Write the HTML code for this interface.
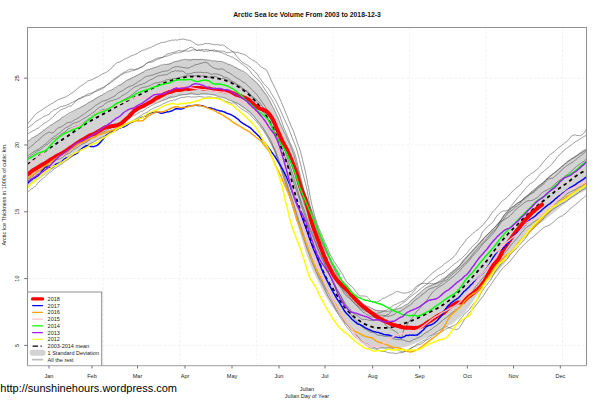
<!DOCTYPE html>
<html><head><meta charset="utf-8"><title>Arctic Sea Ice Volume</title>
<style>html,body{margin:0;padding:0;background:#fff}</style></head>
<body>
<svg width="601" height="400" viewBox="0 0 601 400" style="display:block;font-family:'Liberation Sans',Arial,sans-serif">
<rect width="601" height="400" fill="#fff"/>
<defs><clipPath id="cp"><rect x="27.5" y="27.5" width="559.0" height="338.2"/></clipPath></defs>
<g clip-path="url(#cp)" fill="none" stroke-linejoin="round" stroke-linecap="round">
<path d="M103.2,27.5V365.7M179.8,27.5V365.7M256.3,27.5V365.7M332.9,27.5V365.7M409.4,27.5V365.7M485.9,27.5V365.7M562.5,27.5V365.7M27.5,345.4H586.5M27.5,278.6H586.5M27.5,211.8H586.5M27.5,145.0H586.5M27.5,78.2H586.5" stroke="#eaeaea" stroke-width="0.6" stroke-dasharray="2.8 1.6" stroke-linecap="butt"/>
<path d="M27.5,141.5 L28.5,140.8 L29.5,140.1 L30.5,139.5 L31.5,138.8 L32.5,138.1 L33.5,137.4 L34.5,136.7 L35.5,136.0 L36.5,135.3 L37.5,134.7 L38.5,134.0 L39.5,133.3 L40.5,132.6 L41.5,131.9 L42.5,131.2 L43.5,130.5 L44.5,129.8 L45.5,129.1 L46.5,128.4 L47.5,127.6 L48.5,126.9 L49.5,126.2 L50.5,125.5 L51.5,124.8 L52.5,124.1 L53.5,123.4 L54.5,122.7 L55.5,122.0 L56.5,121.3 L57.5,120.7 L58.5,120.0 L59.5,119.4 L60.5,118.8 L61.5,118.2 L62.5,117.6 L63.5,117.0 L64.5,116.4 L65.5,115.9 L66.5,115.3 L67.5,114.7 L68.5,114.2 L69.5,113.6 L70.5,113.1 L71.5,112.5 L72.5,112.0 L73.5,111.4 L74.5,110.9 L75.5,110.3 L76.5,109.8 L77.5,109.2 L78.5,108.6 L79.5,108.0 L80.5,107.4 L81.5,106.8 L82.5,106.2 L83.5,105.6 L84.5,105.0 L85.5,104.4 L86.5,103.8 L87.5,103.2 L88.5,102.6 L89.5,102.0 L90.5,101.4 L91.5,100.7 L92.5,100.1 L93.5,99.5 L94.5,98.9 L95.5,98.3 L96.5,97.8 L97.5,97.2 L98.5,96.7 L99.5,96.2 L100.5,95.7 L101.5,95.2 L102.5,94.7 L103.5,94.2 L104.5,93.8 L105.5,93.3 L106.5,92.8 L107.5,92.2 L108.5,91.7 L109.5,91.2 L110.5,90.7 L111.5,90.1 L112.5,89.6 L113.5,89.0 L114.5,88.5 L115.5,87.9 L116.5,87.3 L117.5,86.7 L118.5,86.0 L119.5,85.3 L120.5,84.6 L121.5,83.8 L122.5,83.1 L123.5,82.3 L124.5,81.6 L125.5,80.9 L126.5,80.3 L127.5,79.7 L128.5,79.2 L129.5,78.6 L130.5,78.1 L131.5,77.6 L132.5,77.2 L133.5,76.7 L134.5,76.2 L135.5,75.7 L136.5,75.2 L137.5,74.7 L138.5,74.2 L139.5,73.7 L140.5,73.2 L141.5,72.7 L142.5,72.1 L143.5,71.6 L144.5,71.1 L145.5,70.7 L146.5,70.2 L147.5,69.8 L148.5,69.4 L149.5,69.0 L150.5,68.6 L151.5,68.3 L152.5,67.9 L153.5,67.6 L154.5,67.2 L155.5,66.9 L156.5,66.6 L157.5,66.4 L158.5,66.1 L159.5,65.9 L160.5,65.7 L161.5,65.4 L162.5,65.2 L163.5,65.0 L164.5,64.8 L165.5,64.6 L166.5,64.3 L167.5,64.1 L168.5,63.8 L169.5,63.4 L170.5,63.1 L171.5,62.7 L172.5,62.3 L173.5,62.0 L174.5,61.7 L175.5,61.4 L176.5,61.1 L177.5,60.9 L178.5,60.7 L179.5,60.5 L180.5,60.3 L181.5,60.2 L182.5,60.0 L183.5,59.9 L184.5,59.7 L185.5,59.6 L186.5,59.5 L187.5,59.5 L188.5,59.4 L189.5,59.3 L190.5,59.2 L191.5,59.2 L192.5,59.1 L193.5,59.1 L194.5,59.0 L195.5,59.0 L196.5,59.0 L197.5,59.0 L198.5,59.0 L199.5,59.1 L200.5,59.1 L201.5,59.2 L202.5,59.3 L203.5,59.4 L204.5,59.5 L205.5,59.6 L206.5,59.7 L207.5,60.0 L208.5,60.2 L209.5,60.5 L210.5,60.8 L211.5,60.9 L212.5,61.0 L213.5,61.1 L214.5,61.2 L215.5,61.2 L216.5,61.3 L217.5,61.3 L218.5,61.4 L219.5,61.5 L220.5,61.6 L221.5,61.8 L222.5,62.0 L223.5,62.4 L224.5,62.7 L225.5,63.1 L226.5,63.5 L227.5,63.9 L228.5,64.3 L229.5,64.6 L230.5,65.0 L231.5,65.5 L232.5,65.9 L233.5,66.3 L234.5,66.8 L235.5,67.3 L236.5,67.7 L237.5,68.3 L238.5,68.8 L239.5,69.4 L240.5,70.0 L241.5,70.7 L242.5,71.3 L243.5,72.0 L244.5,72.7 L245.5,73.4 L246.5,74.1 L247.5,74.9 L248.5,75.6 L249.5,76.4 L250.5,77.2 L251.5,78.1 L252.5,78.9 L253.5,79.8 L254.5,80.6 L255.5,81.5 L256.5,82.5 L257.5,83.5 L258.5,84.6 L259.5,85.8 L260.5,86.9 L261.5,88.2 L262.5,89.5 L263.5,90.8 L264.5,92.2 L265.5,93.7 L266.5,95.2 L267.5,96.8 L268.5,98.5 L269.5,100.3 L270.5,102.3 L271.5,104.3 L272.5,106.3 L273.5,108.5 L274.5,110.6 L275.5,112.8 L276.5,114.9 L277.5,117.1 L278.5,119.3 L279.5,121.6 L280.5,123.9 L281.5,126.3 L282.5,128.6 L283.5,130.9 L284.5,133.1 L285.5,135.3 L286.5,137.4 L287.5,139.5 L288.5,141.7 L289.5,143.9 L290.5,146.1 L291.5,148.3 L292.5,150.7 L293.5,153.5 L294.5,156.8 L295.5,160.5 L296.5,164.3 L297.5,168.2 L298.5,171.8 L299.5,175.6 L300.5,179.3 L301.5,183.0 L302.5,186.4 L303.5,189.5 L304.5,192.3 L305.5,195.0 L306.5,197.6 L307.5,200.1 L308.5,202.7 L309.5,205.3 L310.5,208.0 L311.5,210.6 L312.5,213.3 L313.5,215.9 L314.5,218.6 L315.5,221.4 L316.5,224.3 L317.5,227.2 L318.5,230.2 L319.5,233.2 L320.5,236.0 L321.5,238.7 L322.5,241.2 L323.5,243.7 L324.5,246.0 L325.5,248.3 L326.5,250.5 L327.5,252.6 L328.5,254.7 L329.5,256.8 L330.5,258.9 L331.5,261.1 L332.5,263.2 L333.5,265.4 L334.5,267.6 L335.5,269.8 L336.5,271.8 L337.5,273.8 L338.5,275.6 L339.5,277.3 L340.5,278.7 L341.5,280.0 L342.5,281.1 L343.5,282.2 L344.5,283.3 L345.5,284.3 L346.5,285.4 L347.5,286.6 L348.5,287.8 L349.5,289.1 L350.5,290.3 L351.5,291.6 L352.5,292.9 L353.5,294.1 L354.5,295.3 L355.5,296.5 L356.5,297.5 L357.5,298.5 L358.5,299.4 L359.5,300.3 L360.5,301.2 L361.5,302.1 L362.5,302.9 L363.5,303.7 L364.5,304.4 L365.5,305.1 L366.5,305.7 L367.5,306.3 L368.5,306.8 L369.5,307.3 L370.5,307.8 L371.5,308.2 L372.5,308.7 L373.5,309.1 L374.5,309.4 L375.5,309.7 L376.5,309.9 L377.5,310.1 L378.5,310.2 L379.5,310.4 L380.5,310.5 L381.5,310.6 L382.5,310.8 L383.5,310.8 L384.5,310.9 L385.5,311.0 L386.5,311.0 L387.5,311.0 L388.5,310.9 L389.5,310.8 L390.5,310.7 L391.5,310.5 L392.5,310.2 L393.5,310.0 L394.5,309.7 L395.5,309.4 L396.5,309.1 L397.5,308.9 L398.5,308.5 L399.5,308.2 L400.5,307.8 L401.5,307.4 L402.5,306.9 L403.5,306.4 L404.5,305.9 L405.5,305.3 L406.5,304.7 L407.5,303.9 L408.5,303.0 L409.5,302.0 L410.5,301.0 L411.5,300.0 L412.5,299.0 L413.5,298.1 L414.5,297.2 L415.5,296.3 L416.5,295.4 L417.5,294.6 L418.5,293.8 L419.5,293.0 L420.5,292.2 L421.5,291.4 L422.5,290.6 L423.5,289.7 L424.5,288.9 L425.5,288.1 L426.5,287.3 L427.5,286.7 L428.5,286.1 L429.5,285.6 L430.5,285.2 L431.5,284.7 L432.5,284.3 L433.5,283.9 L434.5,283.5 L435.5,283.1 L436.5,282.7 L437.5,282.3 L438.5,281.8 L439.5,281.4 L440.5,280.9 L441.5,280.3 L442.5,279.7 L443.5,278.9 L444.5,278.1 L445.5,277.3 L446.5,276.4 L447.5,275.6 L448.5,274.8 L449.5,274.1 L450.5,273.3 L451.5,272.6 L452.5,271.8 L453.5,271.0 L454.5,270.2 L455.5,269.4 L456.5,268.5 L457.5,267.5 L458.5,266.5 L459.5,265.3 L460.5,264.2 L461.5,263.0 L462.5,261.8 L463.5,260.6 L464.5,259.4 L465.5,258.3 L466.5,257.1 L467.5,256.0 L468.5,254.9 L469.5,253.7 L470.5,252.6 L471.5,251.5 L472.5,250.5 L473.5,249.5 L474.5,248.5 L475.5,247.5 L476.5,246.5 L477.5,245.4 L478.5,244.2 L479.5,243.0 L480.5,241.8 L481.5,240.6 L482.5,239.5 L483.5,238.4 L484.5,237.4 L485.5,236.5 L486.5,235.5 L487.5,234.5 L488.5,233.5 L489.5,232.5 L490.5,231.5 L491.5,230.5 L492.5,229.5 L493.5,228.4 L494.5,227.3 L495.5,226.2 L496.5,225.1 L497.5,223.9 L498.5,222.6 L499.5,221.3 L500.5,219.9 L501.5,218.6 L502.5,217.4 L503.5,216.1 L504.5,214.9 L505.5,213.7 L506.5,212.5 L507.5,211.5 L508.5,210.5 L509.5,209.6 L510.5,208.8 L511.5,207.9 L512.5,207.1 L513.5,206.2 L514.5,205.4 L515.5,204.6 L516.5,203.9 L517.5,203.1 L518.5,202.4 L519.5,201.8 L520.5,201.1 L521.5,200.4 L522.5,199.6 L523.5,198.7 L524.5,197.8 L525.5,196.9 L526.5,196.0 L527.5,195.0 L528.5,194.1 L529.5,193.2 L530.5,192.3 L531.5,191.4 L532.5,190.6 L533.5,189.9 L534.5,189.2 L535.5,188.6 L536.5,187.9 L537.5,187.1 L538.5,186.2 L539.5,185.3 L540.5,184.4 L541.5,183.4 L542.5,182.6 L543.5,181.7 L544.5,180.8 L545.5,180.0 L546.5,179.1 L547.5,178.3 L548.5,177.4 L549.5,176.6 L550.5,175.8 L551.5,175.0 L552.5,174.2 L553.5,173.4 L554.5,172.6 L555.5,171.7 L556.5,170.9 L557.5,170.1 L558.5,169.2 L559.5,168.4 L560.5,167.5 L561.5,166.6 L562.5,165.7 L563.5,164.9 L564.5,164.0 L565.5,163.2 L566.5,162.4 L567.5,161.6 L568.5,160.9 L569.5,160.1 L570.5,159.4 L571.5,158.7 L572.5,158.0 L573.5,157.3 L574.5,156.7 L575.5,156.0 L576.5,155.3 L577.5,154.7 L578.5,154.0 L579.5,153.4 L580.5,152.7 L581.5,152.1 L582.5,151.5 L583.5,150.8 L584.5,150.2 L585.5,149.6 L586.5,149.0 L586.5,190.0 L585.5,190.5 L584.5,190.9 L583.5,191.4 L582.5,191.9 L581.5,192.4 L580.5,193.0 L579.5,193.5 L578.5,194.1 L577.5,194.7 L576.5,195.3 L575.5,195.9 L574.5,196.6 L573.5,197.3 L572.5,198.0 L571.5,198.7 L570.5,199.4 L569.5,200.1 L568.5,200.9 L567.5,201.6 L566.5,202.4 L565.5,203.1 L564.5,203.9 L563.5,204.7 L562.5,205.5 L561.5,206.3 L560.5,207.2 L559.5,208.0 L558.5,208.8 L557.5,209.6 L556.5,210.4 L555.5,211.2 L554.5,212.0 L553.5,212.8 L552.5,213.6 L551.5,214.4 L550.5,215.2 L549.5,216.0 L548.5,216.8 L547.5,217.6 L546.5,218.4 L545.5,219.2 L544.5,220.0 L543.5,220.7 L542.5,221.5 L541.5,222.3 L540.5,223.1 L539.5,223.9 L538.5,224.7 L537.5,225.6 L536.5,226.4 L535.5,227.4 L534.5,228.3 L533.5,229.3 L532.5,230.3 L531.5,231.4 L530.5,232.4 L529.5,233.4 L528.5,234.5 L527.5,235.5 L526.5,236.5 L525.5,237.5 L524.5,238.4 L523.5,239.4 L522.5,240.3 L521.5,241.3 L520.5,242.3 L519.5,243.3 L518.5,244.3 L517.5,245.4 L516.5,246.6 L515.5,247.9 L514.5,249.2 L513.5,250.6 L512.5,252.1 L511.5,253.6 L510.5,255.1 L509.5,256.5 L508.5,258.0 L507.5,259.3 L506.5,260.6 L505.5,261.9 L504.5,263.2 L503.5,264.4 L502.5,265.6 L501.5,266.9 L500.5,268.0 L499.5,269.2 L498.5,270.3 L497.5,271.5 L496.5,272.5 L495.5,273.6 L494.5,274.6 L493.5,275.6 L492.5,276.5 L491.5,277.5 L490.5,278.4 L489.5,279.4 L488.5,280.4 L487.5,281.5 L486.5,282.6 L485.5,283.7 L484.5,284.9 L483.5,286.1 L482.5,287.3 L481.5,288.7 L480.5,290.1 L479.5,291.7 L478.5,293.2 L477.5,294.8 L476.5,296.2 L475.5,297.7 L474.5,299.1 L473.5,300.6 L472.5,302.0 L471.5,303.4 L470.5,304.8 L469.5,306.2 L468.5,307.5 L467.5,308.9 L466.5,310.1 L465.5,311.4 L464.5,312.7 L463.5,313.8 L462.5,315.0 L461.5,316.0 L460.5,317.0 L459.5,317.9 L458.5,318.7 L457.5,319.6 L456.5,320.4 L455.5,321.3 L454.5,322.2 L453.5,323.0 L452.5,323.7 L451.5,324.3 L450.5,324.8 L449.5,325.2 L448.5,325.6 L447.5,325.9 L446.5,326.3 L445.5,326.8 L444.5,327.3 L443.5,327.8 L442.5,328.4 L441.5,329.0 L440.5,329.7 L439.5,330.3 L438.5,331.0 L437.5,331.8 L436.5,332.5 L435.5,333.2 L434.5,333.8 L433.5,334.3 L432.5,334.8 L431.5,335.3 L430.5,335.8 L429.5,336.2 L428.5,336.8 L427.5,337.2 L426.5,337.8 L425.5,338.2 L424.5,338.8 L423.5,339.3 L422.5,339.8 L421.5,340.3 L420.5,340.8 L419.5,341.3 L418.5,341.8 L417.5,342.2 L416.5,342.7 L415.5,343.1 L414.5,343.6 L413.5,344.0 L412.5,344.4 L411.5,344.8 L410.5,345.2 L409.5,345.6 L408.5,346.0 L407.5,346.3 L406.5,346.6 L405.5,346.9 L404.5,347.1 L403.5,347.3 L402.5,347.4 L401.5,347.5 L400.5,347.7 L399.5,347.8 L398.5,347.9 L397.5,348.0 L396.5,348.0 L395.5,348.1 L394.5,348.2 L393.5,348.3 L392.5,348.4 L391.5,348.5 L390.5,348.5 L389.5,348.5 L388.5,348.5 L387.5,348.5 L386.5,348.4 L385.5,348.4 L384.5,348.3 L383.5,348.3 L382.5,348.2 L381.5,348.1 L380.5,348.0 L379.5,347.9 L378.5,347.8 L377.5,347.6 L376.5,347.4 L375.5,347.1 L374.5,346.9 L373.5,346.5 L372.5,346.1 L371.5,345.7 L370.5,345.2 L369.5,344.7 L368.5,344.2 L367.5,343.6 L366.5,342.9 L365.5,342.3 L364.5,341.7 L363.5,341.1 L362.5,340.6 L361.5,340.0 L360.5,339.3 L359.5,338.7 L358.5,337.9 L357.5,337.2 L356.5,336.4 L355.5,335.5 L354.5,334.5 L353.5,333.4 L352.5,332.2 L351.5,330.9 L350.5,329.6 L349.5,328.4 L348.5,327.2 L347.5,326.0 L346.5,324.8 L345.5,323.6 L344.5,322.4 L343.5,321.0 L342.5,319.6 L341.5,318.2 L340.5,316.8 L339.5,315.6 L338.5,314.5 L337.5,313.5 L336.5,312.4 L335.5,311.2 L334.5,309.9 L333.5,308.6 L332.5,307.2 L331.5,305.7 L330.5,304.3 L329.5,302.7 L328.5,301.1 L327.5,299.4 L326.5,297.7 L325.5,295.9 L324.5,294.1 L323.5,292.1 L322.5,290.1 L321.5,288.1 L320.5,286.0 L319.5,284.0 L318.5,282.0 L317.5,280.0 L316.5,278.0 L315.5,276.0 L314.5,274.0 L313.5,272.0 L312.5,269.9 L311.5,267.6 L310.5,265.2 L309.5,262.6 L308.5,260.0 L307.5,257.2 L306.5,254.3 L305.5,251.2 L304.5,248.0 L303.5,244.8 L302.5,241.6 L301.5,238.4 L300.5,235.1 L299.5,231.8 L298.5,228.4 L297.5,225.1 L296.5,221.7 L295.5,218.3 L294.5,214.9 L293.5,211.5 L292.5,208.1 L291.5,204.7 L290.5,201.3 L289.5,198.1 L288.5,194.8 L287.5,191.6 L286.5,188.4 L285.5,185.2 L284.5,181.9 L283.5,178.7 L282.5,175.5 L281.5,172.4 L280.5,169.4 L279.5,166.6 L278.5,163.9 L277.5,161.3 L276.5,158.7 L275.5,156.2 L274.5,153.7 L273.5,151.2 L272.5,148.7 L271.5,146.2 L270.5,143.7 L269.5,141.2 L268.5,139.0 L267.5,137.1 L266.5,135.3 L265.5,133.8 L264.5,132.3 L263.5,130.8 L262.5,129.2 L261.5,127.6 L260.5,126.0 L259.5,124.5 L258.5,123.0 L257.5,121.6 L256.5,120.4 L255.5,119.2 L254.5,118.1 L253.5,117.0 L252.5,116.0 L251.5,115.0 L250.5,114.1 L249.5,113.1 L248.5,112.3 L247.5,111.4 L246.5,110.6 L245.5,109.8 L244.5,109.0 L243.5,108.3 L242.5,107.6 L241.5,106.9 L240.5,106.2 L239.5,105.5 L238.5,104.9 L237.5,104.3 L236.5,103.7 L235.5,103.1 L234.5,102.6 L233.5,102.0 L232.5,101.4 L231.5,100.9 L230.5,100.4 L229.5,100.0 L228.5,99.5 L227.5,99.2 L226.5,98.8 L225.5,98.5 L224.5,98.2 L223.5,97.9 L222.5,97.5 L221.5,97.2 L220.5,96.9 L219.5,96.6 L218.5,96.3 L217.5,96.1 L216.5,95.8 L215.5,95.6 L214.5,95.4 L213.5,95.2 L212.5,95.0 L211.5,94.8 L210.5,94.7 L209.5,94.6 L208.5,94.5 L207.5,94.5 L206.5,94.5 L205.5,94.5 L204.5,94.5 L203.5,94.5 L202.5,94.5 L201.5,94.5 L200.5,94.5 L199.5,94.5 L198.5,94.6 L197.5,94.6 L196.5,94.6 L195.5,94.6 L194.5,94.6 L193.5,94.6 L192.5,94.7 L191.5,94.7 L190.5,94.7 L189.5,94.7 L188.5,94.8 L187.5,94.8 L186.5,94.8 L185.5,94.9 L184.5,95.0 L183.5,95.2 L182.5,95.3 L181.5,95.5 L180.5,95.7 L179.5,95.9 L178.5,96.2 L177.5,96.4 L176.5,96.6 L175.5,96.9 L174.5,97.1 L173.5,97.4 L172.5,97.7 L171.5,98.1 L170.5,98.4 L169.5,98.7 L168.5,99.0 L167.5,99.3 L166.5,99.6 L165.5,99.9 L164.5,100.2 L163.5,100.5 L162.5,100.8 L161.5,101.1 L160.5,101.4 L159.5,101.7 L158.5,102.0 L157.5,102.3 L156.5,102.7 L155.5,103.0 L154.5,103.4 L153.5,103.8 L152.5,104.2 L151.5,104.6 L150.5,105.0 L149.5,105.4 L148.5,105.8 L147.5,106.3 L146.5,106.7 L145.5,107.2 L144.5,107.7 L143.5,108.2 L142.5,108.7 L141.5,109.3 L140.5,109.9 L139.5,110.4 L138.5,111.0 L137.5,111.7 L136.5,112.3 L135.5,113.0 L134.5,113.8 L133.5,114.6 L132.5,115.4 L131.5,116.2 L130.5,117.0 L129.5,117.9 L128.5,118.7 L127.5,119.6 L126.5,120.4 L125.5,121.3 L124.5,122.2 L123.5,123.1 L122.5,124.0 L121.5,124.8 L120.5,125.7 L119.5,126.6 L118.5,127.4 L117.5,128.1 L116.5,128.8 L115.5,129.5 L114.5,130.1 L113.5,130.8 L112.5,131.3 L111.5,131.9 L110.5,132.5 L109.5,133.0 L108.5,133.6 L107.5,134.2 L106.5,134.8 L105.5,135.4 L104.5,136.0 L103.5,136.6 L102.5,137.2 L101.5,137.8 L100.5,138.4 L99.5,139.0 L98.5,139.6 L97.5,140.2 L96.5,140.8 L95.5,141.4 L94.5,142.0 L93.5,142.6 L92.5,143.2 L91.5,143.8 L90.5,144.4 L89.5,145.0 L88.5,145.6 L87.5,146.2 L86.5,146.8 L85.5,147.4 L84.5,148.1 L83.5,148.7 L82.5,149.4 L81.5,150.0 L80.5,150.7 L79.5,151.3 L78.5,152.0 L77.5,152.7 L76.5,153.3 L75.5,154.0 L74.5,154.7 L73.5,155.4 L72.5,156.1 L71.5,156.9 L70.5,157.6 L69.5,158.3 L68.5,159.0 L67.5,159.7 L66.5,160.3 L65.5,161.0 L64.5,161.6 L63.5,162.3 L62.5,162.9 L61.5,163.6 L60.5,164.2 L59.5,164.9 L58.5,165.5 L57.5,166.2 L56.5,166.8 L55.5,167.5 L54.5,168.2 L53.5,168.9 L52.5,169.6 L51.5,170.3 L50.5,171.0 L49.5,171.7 L48.5,172.4 L47.5,173.1 L46.5,173.8 L45.5,174.5 L44.5,175.2 L43.5,175.9 L42.5,176.6 L41.5,177.3 L40.5,178.0 L39.5,178.7 L38.5,179.4 L37.5,180.1 L36.5,180.9 L35.5,181.6 L34.5,182.4 L33.5,183.2 L32.5,183.9 L31.5,184.7 L30.5,185.5 L29.5,186.4 L28.5,187.2 L27.5,188.0Z" fill="#d3d3d3" stroke="none"/>
<path d="M27.5,124.0 L28.5,122.7 L29.5,121.6 L30.5,120.5 L31.5,119.1 L32.5,118.0 L33.5,116.8 L34.5,115.6 L35.5,114.3 L36.5,113.5 L37.5,112.6 L38.5,112.1 L39.5,111.6 L40.5,111.1 L41.5,110.1 L42.5,109.5 L43.5,108.8 L44.5,108.2 L45.5,107.3 L46.5,107.0 L47.5,106.2 L48.5,105.4 L49.5,104.9 L50.5,104.3 L51.5,103.7 L52.5,103.3 L53.5,102.7 L54.5,101.8 L55.5,101.4 L56.5,100.8 L57.5,100.0 L58.5,99.6 L59.5,99.4 L60.5,98.7 L61.5,98.4 L62.5,98.2 L63.5,97.7 L64.5,97.3 L65.5,97.2 L66.5,96.4 L67.5,95.9 L68.5,95.5 L69.5,94.5 L70.5,93.8 L71.5,93.2 L72.5,92.6 L73.5,92.0 L74.5,91.1 L75.5,90.3 L76.5,89.5 L77.5,88.7 L78.5,87.6 L79.5,86.9 L80.5,86.1 L81.5,85.6 L82.5,85.0 L83.5,84.3 L84.5,83.5 L85.5,83.0 L86.5,81.9 L87.5,81.1 L88.5,80.7 L89.5,80.5 L90.5,80.1 L91.5,79.8 L92.5,79.4 L93.5,78.9 L94.5,78.4 L95.5,77.8 L96.5,77.3 L97.5,76.9 L98.5,76.4 L99.5,75.6 L100.5,75.0 L101.5,74.5 L102.5,73.9 L103.5,73.5 L104.5,73.1 L105.5,72.6 L106.5,72.1 L107.5,71.5 L108.5,70.7 L109.5,69.8 L110.5,69.1 L111.5,67.9 L112.5,67.2 L113.5,65.9 L114.5,64.7 L115.5,63.8 L116.5,63.1 L117.5,62.4 L118.5,62.4 L119.5,62.0 L120.5,61.4 L121.5,61.0 L122.5,60.5 L123.5,59.6 L124.5,59.2 L125.5,58.9 L126.5,58.4 L127.5,57.7 L128.5,57.3 L129.5,56.9 L130.5,56.2 L131.5,55.8 L132.5,55.4 L133.5,55.1 L134.5,54.7 L135.5,54.4 L136.5,53.8 L137.5,53.5 L138.5,52.6 L139.5,51.9 L140.5,51.5 L141.5,50.8 L142.5,50.5 L143.5,50.0 L144.5,49.9 L145.5,49.2 L146.5,49.2 L147.5,48.6 L148.5,48.2 L149.5,47.8 L150.5,47.7 L151.5,47.1 L152.5,46.5 L153.5,46.3 L154.5,45.5 L155.5,45.0 L156.5,44.6 L157.5,44.2 L158.5,43.8 L159.5,43.5 L160.5,42.8 L161.5,42.7 L162.5,42.4 L163.5,42.4 L164.5,42.2 L165.5,42.0 L166.5,41.6 L167.5,41.3 L168.5,41.0 L169.5,40.7 L170.5,40.6 L171.5,40.3 L172.5,40.1 L173.5,40.2 L174.5,40.1 L175.5,39.8 L176.5,40.0 L177.5,40.2 L178.5,39.6 L179.5,39.6 L180.5,39.5 L181.5,39.1 L182.5,39.0 L183.5,39.2 L184.5,39.3 L185.5,39.5 L186.5,40.0 L187.5,40.0 L188.5,40.2 L189.5,40.3 L190.5,40.6 L191.5,41.3 L192.5,41.9 L193.5,42.5 L194.5,43.3 L195.5,44.0 L196.5,44.2 L197.5,44.8 L198.5,44.9 L199.5,44.9 L200.5,44.7 L201.5,44.6 L202.5,44.3 L203.5,44.1 L204.5,43.8 L205.5,43.5 L206.5,43.5 L207.5,43.6 L208.5,43.5 L209.5,43.6 L210.5,44.0 L211.5,44.1 L212.5,44.2 L213.5,44.4 L214.5,44.8 L215.5,44.6 L216.5,44.7 L217.5,44.7 L218.5,44.9 L219.5,44.9 L220.5,45.4 L221.5,45.1 L222.5,44.8 L223.5,45.2 L224.5,45.6 L225.5,46.3 L226.5,47.5 L227.5,48.2 L228.5,48.5 L229.5,49.5 L230.5,50.2 L231.5,50.7 L232.5,51.5 L233.5,52.0 L234.5,52.1 L235.5,52.3 L236.5,52.4 L237.5,52.3 L238.5,52.7 L239.5,53.1 L240.5,53.4 L241.5,53.6 L242.5,54.0 L243.5,54.2 L244.5,54.6 L245.5,55.1 L246.5,55.7 L247.5,56.4 L248.5,57.2 L249.5,58.3 L250.5,58.6 L251.5,59.5 L252.5,60.1 L253.5,60.7 L254.5,60.8 L255.5,61.7 L256.5,62.4 L257.5,63.2 L258.5,64.1 L259.5,65.2 L260.5,66.4 L261.5,67.2 L262.5,67.7 L263.5,68.4 L264.5,68.9 L265.5,69.1 L266.5,70.1 L267.5,72.0 L268.5,74.1 L269.5,76.4 L270.5,78.8 L271.5,81.1 L272.5,82.9 L273.5,84.9 L274.5,87.0 L275.5,89.1 L276.5,91.1 L277.5,93.3 L278.5,95.6 L279.5,97.7 L280.5,100.2 L281.5,102.4 L282.5,104.9 L283.5,107.2 L284.5,109.8 L285.5,112.2 L286.5,114.5 L287.5,117.0 L288.5,119.8 L289.5,122.1 L290.5,124.6 L291.5,127.2 L292.5,129.0 L293.5,131.4 L294.5,134.2 L295.5,137.2 L296.5,140.0 L297.5,143.2 L298.5,145.6 L299.5,148.5 L300.5,151.6 L301.5,155.4 L302.5,159.6 L303.5,163.8 L304.5,167.9 L305.5,172.1 L306.5,177.2 L307.5,182.3 L308.5,187.7 L309.5,192.9 L310.5,198.4 L311.5,203.2 L312.5,207.4 L313.5,211.3 L314.5,215.0 L315.5,218.6 L316.5,221.8 L317.5,224.6 L318.5,227.2 L319.5,229.6 L320.5,232.0 L321.5,234.4 L322.5,236.7 L323.5,239.0 L324.5,241.3 L325.5,243.4 L326.5,245.9 L327.5,248.2 L328.5,250.6 L329.5,253.0 L330.5,255.2 L331.5,256.9 L332.5,258.8 L333.5,260.4 L334.5,262.1 L335.5,263.4 L336.5,265.1 L337.5,266.7 L338.5,268.1 L339.5,269.3 L340.5,271.0 L341.5,272.7 L342.5,274.1 L343.5,276.1 L344.5,278.3 L345.5,280.0 L346.5,281.5 L347.5,282.8 L348.5,283.9 L349.5,284.4 L350.5,285.3 L351.5,286.5 L352.5,287.4 L353.5,288.4 L354.5,289.8 L355.5,291.0 L356.5,292.2 L357.5,293.9 L358.5,295.0 L359.5,295.6 L360.5,296.0 L361.5,296.0 L362.5,295.9 L363.5,296.1 L364.5,296.0 L365.5,296.2 L366.5,296.6 L367.5,297.2 L368.5,298.1 L369.5,299.4 L370.5,300.6 L371.5,301.5 L372.5,301.9 L373.5,302.0 L374.5,301.9 L375.5,301.8 L376.5,301.9 L377.5,301.7 L378.5,301.3 L379.5,300.7 L380.5,300.4 L381.5,299.4 L382.5,298.7 L383.5,298.3 L384.5,298.2 L385.5,297.5 L386.5,297.0 L387.5,296.6 L388.5,295.8 L389.5,295.1 L390.5,294.8 L391.5,294.6 L392.5,294.0 L393.5,293.4 L394.5,292.8 L395.5,292.0 L396.5,291.5 L397.5,291.6 L398.5,291.7 L399.5,292.0 L400.5,292.3 L401.5,292.8 L402.5,292.8 L403.5,293.2 L404.5,293.1 L405.5,293.0 L406.5,292.9 L407.5,292.7 L408.5,292.2 L409.5,291.9 L410.5,291.5 L411.5,291.0 L412.5,290.7 L413.5,289.7 L414.5,288.3 L415.5,287.2 L416.5,286.2 L417.5,285.3 L418.5,285.0 L419.5,284.6 L420.5,283.8 L421.5,283.3 L422.5,283.5 L423.5,283.4 L424.5,283.1 L425.5,283.5 L426.5,283.7 L427.5,283.8 L428.5,283.6 L429.5,283.9 L430.5,283.5 L431.5,283.8 L432.5,283.5 L433.5,283.8 L434.5,283.7 L435.5,283.8 L436.5,283.1 L437.5,283.0 L438.5,282.6 L439.5,282.1 L440.5,281.7 L441.5,281.4 L442.5,280.7 L443.5,279.9 L444.5,279.3 L445.5,278.4 L446.5,277.5 L447.5,276.7 L448.5,276.0 L449.5,275.1 L450.5,274.0 L451.5,273.2 L452.5,272.6 L453.5,271.5 L454.5,270.7 L455.5,269.9 L456.5,268.8 L457.5,267.7 L458.5,266.8 L459.5,265.9 L460.5,264.7 L461.5,263.7 L462.5,262.4 L463.5,261.2 L464.5,259.9 L465.5,258.9 L466.5,257.7 L467.5,256.6 L468.5,255.4 L469.5,254.2 L470.5,253.1 L471.5,252.1 L472.5,250.9 L473.5,250.1 L474.5,248.8 L475.5,248.0 L476.5,246.6 L477.5,245.5 L478.5,244.4 L479.5,243.7 L480.5,242.3 L481.5,241.2 L482.5,240.2 L483.5,238.9 L484.5,237.7 L485.5,236.7 L486.5,235.7 L487.5,234.8 L488.5,233.8 L489.5,232.8 L490.5,231.8 L491.5,230.7 L492.5,229.3 L493.5,228.7 L494.5,227.5 L495.5,226.7 L496.5,225.7 L497.5,224.9 L498.5,223.4 L499.5,222.5 L500.5,221.0 L501.5,219.4 L502.5,217.9 L503.5,216.3 L504.5,214.9 L505.5,214.0 L506.5,213.0 L507.5,211.9 L508.5,211.1 L509.5,210.3 L510.5,208.8 L511.5,208.2 L512.5,207.5 L513.5,206.9 L514.5,205.7 L515.5,205.3 L516.5,204.2 L517.5,203.4 L518.5,202.6 L519.5,202.1 L520.5,201.3 L521.5,200.6 L522.5,199.6 L523.5,198.6 L524.5,197.6 L525.5,196.9 L526.5,196.2 L527.5,195.5 L528.5,194.8 L529.5,194.0 L530.5,193.4 L531.5,192.9 L532.5,192.3 L533.5,191.4 L534.5,190.6 L535.5,189.5 L536.5,188.3 L537.5,187.4 L538.5,186.5 L539.5,185.8 L540.5,185.0 L541.5,184.2 L542.5,183.3 L543.5,182.4 L544.5,181.3 L545.5,180.4 L546.5,179.4 L547.5,178.6 L548.5,177.9 L549.5,177.0 L550.5,176.3 L551.5,175.3 L552.5,174.4 L553.5,173.5 L554.5,172.6 L555.5,171.8 L556.5,171.2 L557.5,170.4 L558.5,169.6 L559.5,168.9 L560.5,167.9 L561.5,167.0 L562.5,166.0 L563.5,165.2 L564.5,164.3 L565.5,163.6 L566.5,162.9 L567.5,162.2 L568.5,161.4 L569.5,160.9 L570.5,159.9 L571.5,159.2 L572.5,158.6 L573.5,158.0 L574.5,157.3 L575.5,156.8 L576.5,156.0 L577.5,155.4 L578.5,154.8 L579.5,154.1 L580.5,153.3 L581.5,152.8 L582.5,152.3 L583.5,151.7 L584.5,151.1 L585.5,150.5 L586.5,150.0" stroke="#3c3c3c" stroke-width="0.52"/>
<path d="M27.5,128.1 L28.5,127.3 L29.5,126.6 L30.5,125.8 L31.5,125.2 L32.5,124.5 L33.5,123.7 L34.5,122.7 L35.5,121.6 L36.5,121.0 L37.5,120.4 L38.5,119.8 L39.5,119.2 L40.5,118.8 L41.5,118.1 L42.5,117.5 L43.5,116.6 L44.5,116.3 L45.5,115.9 L46.5,115.5 L47.5,114.9 L48.5,114.5 L49.5,113.9 L50.5,112.5 L51.5,111.6 L52.5,110.9 L53.5,110.2 L54.5,109.6 L55.5,109.5 L56.5,108.9 L57.5,108.4 L58.5,108.0 L59.5,107.3 L60.5,106.7 L61.5,106.5 L62.5,106.5 L63.5,106.0 L64.5,105.8 L65.5,105.5 L66.5,105.2 L67.5,104.5 L68.5,104.3 L69.5,103.8 L70.5,103.3 L71.5,102.6 L72.5,102.3 L73.5,101.8 L74.5,101.2 L75.5,100.6 L76.5,100.2 L77.5,99.5 L78.5,98.5 L79.5,98.4 L80.5,98.0 L81.5,97.4 L82.5,96.8 L83.5,96.6 L84.5,95.9 L85.5,95.4 L86.5,94.8 L87.5,94.3 L88.5,93.9 L89.5,93.6 L90.5,93.3 L91.5,93.1 L92.5,92.7 L93.5,92.2 L94.5,91.6 L95.5,91.0 L96.5,90.2 L97.5,89.6 L98.5,89.2 L99.5,88.9 L100.5,88.5 L101.5,88.0 L102.5,87.7 L103.5,87.3 L104.5,86.6 L105.5,85.8 L106.5,85.4 L107.5,84.9 L108.5,83.9 L109.5,82.9 L110.5,82.0 L111.5,81.2 L112.5,80.1 L113.5,79.3 L114.5,78.7 L115.5,78.2 L116.5,77.3 L117.5,76.8 L118.5,76.0 L119.5,75.2 L120.5,74.3 L121.5,73.9 L122.5,73.2 L123.5,72.7 L124.5,72.1 L125.5,71.7 L126.5,71.1 L127.5,70.4 L128.5,69.9 L129.5,69.4 L130.5,69.4 L131.5,69.2 L132.5,69.2 L133.5,69.4 L134.5,69.7 L135.5,69.2 L136.5,68.9 L137.5,68.9 L138.5,68.6 L139.5,67.9 L140.5,67.3 L141.5,67.0 L142.5,66.5 L143.5,65.8 L144.5,65.1 L145.5,64.2 L146.5,63.5 L147.5,62.7 L148.5,62.3 L149.5,61.8 L150.5,61.7 L151.5,60.9 L152.5,60.6 L153.5,60.1 L154.5,59.5 L155.5,59.1 L156.5,58.9 L157.5,58.1 L158.5,58.0 L159.5,57.7 L160.5,57.6 L161.5,57.5 L162.5,57.5 L163.5,56.6 L164.5,56.0 L165.5,55.3 L166.5,54.5 L167.5,54.1 L168.5,53.7 L169.5,53.6 L170.5,53.1 L171.5,52.9 L172.5,52.5 L173.5,52.4 L174.5,52.0 L175.5,51.8 L176.5,51.4 L177.5,50.9 L178.5,50.6 L179.5,50.7 L180.5,50.8 L181.5,50.9 L182.5,51.1 L183.5,50.7 L184.5,50.4 L185.5,49.9 L186.5,49.4 L187.5,48.9 L188.5,48.5 L189.5,47.7 L190.5,47.4 L191.5,47.3 L192.5,47.6 L193.5,48.4 L194.5,49.0 L195.5,49.5 L196.5,50.2 L197.5,50.6 L198.5,50.2 L199.5,50.3 L200.5,50.7 L201.5,50.7 L202.5,50.8 L203.5,51.3 L204.5,51.3 L205.5,51.2 L206.5,51.1 L207.5,51.3 L208.5,50.8 L209.5,50.8 L210.5,50.7 L211.5,50.8 L212.5,50.7 L213.5,51.2 L214.5,51.1 L215.5,51.3 L216.5,51.1 L217.5,51.0 L218.5,50.9 L219.5,51.1 L220.5,50.9 L221.5,51.1 L222.5,51.2 L223.5,51.2 L224.5,51.6 L225.5,52.1 L226.5,52.5 L227.5,52.7 L228.5,52.6 L229.5,52.4 L230.5,52.2 L231.5,51.8 L232.5,51.9 L233.5,52.2 L234.5,52.9 L235.5,54.6 L236.5,56.2 L237.5,57.2 L238.5,58.3 L239.5,59.6 L240.5,60.4 L241.5,61.5 L242.5,62.3 L243.5,63.0 L244.5,63.7 L245.5,64.1 L246.5,64.6 L247.5,65.2 L248.5,65.9 L249.5,66.4 L250.5,67.7 L251.5,68.6 L252.5,69.4 L253.5,70.1 L254.5,71.3 L255.5,72.2 L256.5,73.3 L257.5,74.7 L258.5,76.3 L259.5,77.8 L260.5,79.1 L261.5,80.5 L262.5,81.8 L263.5,83.4 L264.5,84.3 L265.5,85.4 L266.5,86.5 L267.5,87.9 L268.5,88.7 L269.5,90.4 L270.5,92.0 L271.5,93.7 L272.5,95.2 L273.5,97.1 L274.5,98.6 L275.5,100.3 L276.5,102.2 L277.5,104.3 L278.5,106.3 L279.5,108.3 L280.5,110.5 L281.5,112.7 L282.5,114.9 L283.5,117.1 L284.5,119.4 L285.5,121.8 L286.5,123.8 L287.5,125.8 L288.5,128.0 L289.5,130.8 L290.5,133.1 L291.5,135.9 L292.5,138.5 L293.5,141.2 L294.5,143.3 L295.5,145.8 L296.5,148.8 L297.5,152.2 L298.5,155.7 L299.5,159.9 L300.5,164.2 L301.5,168.2 L302.5,172.1 L303.5,175.7 L304.5,179.6 L305.5,183.5 L306.5,187.4 L307.5,192.3 L308.5,197.8 L309.5,203.3 L310.5,208.1 L311.5,212.2 L312.5,215.8 L313.5,219.0 L314.5,222.0 L315.5,225.2 L316.5,228.4 L317.5,230.8 L318.5,233.5 L319.5,236.3 L320.5,239.0 L321.5,241.2 L322.5,243.8 L323.5,246.1 L324.5,248.3 L325.5,250.4 L326.5,252.4 L327.5,254.5 L328.5,256.8 L329.5,258.7 L330.5,260.8 L331.5,263.3 L332.5,265.3 L333.5,267.4 L334.5,269.5 L335.5,271.9 L336.5,274.2 L337.5,276.6 L338.5,278.3 L339.5,280.2 L340.5,281.5 L341.5,282.4 L342.5,283.5 L343.5,284.4 L344.5,285.5 L345.5,286.5 L346.5,287.8 L347.5,288.8 L348.5,290.1 L349.5,291.2 L350.5,292.6 L351.5,293.6 L352.5,294.9 L353.5,296.2 L354.5,297.0 L355.5,298.2 L356.5,299.4 L357.5,300.4 L358.5,301.5 L359.5,303.0 L360.5,303.8 L361.5,304.6 L362.5,305.5 L363.5,306.6 L364.5,307.1 L365.5,308.1 L366.5,308.7 L367.5,309.2 L368.5,309.7 L369.5,310.5 L370.5,310.7 L371.5,311.2 L372.5,312.0 L373.5,312.4 L374.5,312.6 L375.5,313.1 L376.5,313.4 L377.5,313.2 L378.5,313.0 L379.5,312.9 L380.5,312.5 L381.5,312.0 L382.5,311.8 L383.5,311.4 L384.5,311.0 L385.5,310.6 L386.5,310.2 L387.5,309.5 L388.5,308.8 L389.5,308.1 L390.5,307.4 L391.5,306.8 L392.5,305.9 L393.5,305.4 L394.5,304.7 L395.5,304.5 L396.5,304.1 L397.5,303.6 L398.5,303.0 L399.5,302.8 L400.5,302.2 L401.5,301.6 L402.5,301.4 L403.5,301.0 L404.5,300.3 L405.5,299.4 L406.5,298.7 L407.5,297.6 L408.5,296.8 L409.5,295.6 L410.5,294.8 L411.5,293.7 L412.5,292.9 L413.5,291.8 L414.5,290.7 L415.5,289.3 L416.5,287.9 L417.5,287.0 L418.5,286.0 L419.5,285.3 L420.5,284.5 L421.5,283.9 L422.5,282.9 L423.5,281.8 L424.5,280.7 L425.5,279.9 L426.5,278.7 L427.5,277.7 L428.5,276.7 L429.5,275.7 L430.5,274.6 L431.5,273.9 L432.5,273.0 L433.5,272.3 L434.5,271.4 L435.5,270.8 L436.5,269.9 L437.5,269.1 L438.5,268.5 L439.5,267.9 L440.5,267.3 L441.5,266.6 L442.5,265.8 L443.5,264.7 L444.5,264.0 L445.5,263.0 L446.5,262.2 L447.5,261.7 L448.5,261.0 L449.5,260.5 L450.5,259.6 L451.5,259.0 L452.5,258.0 L453.5,257.0 L454.5,255.8 L455.5,254.8 L456.5,253.2 L457.5,251.8 L458.5,250.3 L459.5,248.7 L460.5,247.0 L461.5,246.1 L462.5,244.7 L463.5,243.5 L464.5,242.2 L465.5,240.9 L466.5,239.3 L467.5,238.3 L468.5,237.2 L469.5,236.7 L470.5,235.7 L471.5,234.8 L472.5,233.8 L473.5,233.0 L474.5,231.9 L475.5,231.2 L476.5,230.4 L477.5,230.0 L478.5,228.9 L479.5,228.1 L480.5,227.3 L481.5,226.4 L482.5,225.1 L483.5,224.3 L484.5,223.0 L485.5,221.6 L486.5,220.7 L487.5,219.5 L488.5,218.0 L489.5,216.6 L490.5,215.1 L491.5,213.6 L492.5,212.1 L493.5,210.9 L494.5,210.1 L495.5,209.1 L496.5,207.8 L497.5,206.7 L498.5,205.5 L499.5,204.2 L500.5,202.7 L501.5,201.8 L502.5,200.8 L503.5,200.1 L504.5,199.4 L505.5,198.9 L506.5,197.6 L507.5,196.9 L508.5,196.0 L509.5,194.6 L510.5,193.3 L511.5,192.5 L512.5,191.2 L513.5,190.4 L514.5,189.3 L515.5,188.5 L516.5,187.7 L517.5,187.0 L518.5,185.9 L519.5,185.4 L520.5,184.4 L521.5,183.2 L522.5,181.5 L523.5,180.3 L524.5,179.1 L525.5,178.3 L526.5,177.2 L527.5,176.6 L528.5,175.6 L529.5,175.1 L530.5,174.3 L531.5,173.3 L532.5,172.8 L533.5,172.4 L534.5,171.2 L535.5,170.4 L536.5,170.0 L537.5,169.0 L538.5,167.8 L539.5,167.0 L540.5,165.9 L541.5,164.5 L542.5,163.1 L543.5,162.0 L544.5,160.7 L545.5,159.5 L546.5,158.2 L547.5,157.3 L548.5,156.0 L549.5,155.1 L550.5,154.4 L551.5,153.7 L552.5,152.9 L553.5,152.2 L554.5,151.4 L555.5,150.4 L556.5,149.5 L557.5,148.7 L558.5,147.7 L559.5,147.1 L560.5,146.4 L561.5,145.6 L562.5,144.7 L563.5,144.0 L564.5,143.1 L565.5,142.3 L566.5,141.8 L567.5,140.9 L568.5,139.7 L569.5,138.6 L570.5,137.3 L571.5,136.1 L572.5,135.5 L573.5,135.3 L574.5,134.8 L575.5,135.0 L576.5,135.5 L577.5,135.6 L578.5,135.5 L579.5,135.6 L580.5,135.8 L581.5,135.1 L582.5,134.4 L583.5,133.5 L584.5,132.4 L585.5,130.7 L586.5,128.9" stroke="#3c3c3c" stroke-width="0.52"/>
<path d="M27.5,133.8 L28.5,133.5 L29.5,132.8 L30.5,132.1 L31.5,131.8 L32.5,131.0 L33.5,130.5 L34.5,130.2 L35.5,129.7 L36.5,128.8 L37.5,128.5 L38.5,127.9 L39.5,127.1 L40.5,126.2 L41.5,125.5 L42.5,124.6 L43.5,123.8 L44.5,123.0 L45.5,122.6 L46.5,122.0 L47.5,121.2 L48.5,120.6 L49.5,119.9 L50.5,119.0 L51.5,118.2 L52.5,117.4 L53.5,116.3 L54.5,115.4 L55.5,114.2 L56.5,113.3 L57.5,112.5 L58.5,111.8 L59.5,110.7 L60.5,110.1 L61.5,109.5 L62.5,109.1 L63.5,108.7 L64.5,108.4 L65.5,108.0 L66.5,107.4 L67.5,106.8 L68.5,106.3 L69.5,106.0 L70.5,106.0 L71.5,105.6 L72.5,104.8 L73.5,103.8 L74.5,102.5 L75.5,101.0 L76.5,100.3 L77.5,99.9 L78.5,99.2 L79.5,98.9 L80.5,98.8 L81.5,98.0 L82.5,97.4 L83.5,97.2 L84.5,96.7 L85.5,96.1 L86.5,95.9 L87.5,95.7 L88.5,95.5 L89.5,95.2 L90.5,94.8 L91.5,93.9 L92.5,93.3 L93.5,92.7 L94.5,92.0 L95.5,91.6 L96.5,91.3 L97.5,90.7 L98.5,90.4 L99.5,90.0 L100.5,89.4 L101.5,89.1 L102.5,88.8 L103.5,88.1 L104.5,87.0 L105.5,86.3 L106.5,85.5 L107.5,84.5 L108.5,83.8 L109.5,83.6 L110.5,82.9 L111.5,82.0 L112.5,81.7 L113.5,80.8 L114.5,79.6 L115.5,79.0 L116.5,78.5 L117.5,77.4 L118.5,76.9 L119.5,76.4 L120.5,75.5 L121.5,74.8 L122.5,74.4 L123.5,73.6 L124.5,73.1 L125.5,72.8 L126.5,72.7 L127.5,72.1 L128.5,72.0 L129.5,71.7 L130.5,71.4 L131.5,70.8 L132.5,70.8 L133.5,70.5 L134.5,70.3 L135.5,69.9 L136.5,69.4 L137.5,68.9 L138.5,68.4 L139.5,68.0 L140.5,67.6 L141.5,67.3 L142.5,66.8 L143.5,66.1 L144.5,65.1 L145.5,64.3 L146.5,63.4 L147.5,62.9 L148.5,62.3 L149.5,62.3 L150.5,62.2 L151.5,62.2 L152.5,61.8 L153.5,61.5 L154.5,60.9 L155.5,60.4 L156.5,59.8 L157.5,59.2 L158.5,58.9 L159.5,58.8 L160.5,58.1 L161.5,57.8 L162.5,57.4 L163.5,57.1 L164.5,56.6 L165.5,56.5 L166.5,56.3 L167.5,55.9 L168.5,55.7 L169.5,55.1 L170.5,54.9 L171.5,54.5 L172.5,54.1 L173.5,53.5 L174.5,53.3 L175.5,53.2 L176.5,52.9 L177.5,53.1 L178.5,52.7 L179.5,52.6 L180.5,52.3 L181.5,52.0 L182.5,51.6 L183.5,51.3 L184.5,51.0 L185.5,51.0 L186.5,50.9 L187.5,51.1 L188.5,51.3 L189.5,51.0 L190.5,50.7 L191.5,50.3 L192.5,50.0 L193.5,49.9 L194.5,50.2 L195.5,50.0 L196.5,50.3 L197.5,50.2 L198.5,50.0 L199.5,49.9 L200.5,49.8 L201.5,49.6 L202.5,49.6 L203.5,49.8 L204.5,49.6 L205.5,49.5 L206.5,49.5 L207.5,49.7 L208.5,49.8 L209.5,50.3 L210.5,50.2 L211.5,50.2 L212.5,50.2 L213.5,50.1 L214.5,49.8 L215.5,50.5 L216.5,51.0 L217.5,51.2 L218.5,51.6 L219.5,52.2 L220.5,52.4 L221.5,52.6 L222.5,52.9 L223.5,53.5 L224.5,53.9 L225.5,54.1 L226.5,54.8 L227.5,55.5 L228.5,55.6 L229.5,56.0 L230.5,56.7 L231.5,57.0 L232.5,57.1 L233.5,57.8 L234.5,58.4 L235.5,59.1 L236.5,59.4 L237.5,60.7 L238.5,61.2 L239.5,61.9 L240.5,62.6 L241.5,63.8 L242.5,64.2 L243.5,65.1 L244.5,65.9 L245.5,66.6 L246.5,67.0 L247.5,68.3 L248.5,69.6 L249.5,70.7 L250.5,71.7 L251.5,73.4 L252.5,74.3 L253.5,75.6 L254.5,76.5 L255.5,77.7 L256.5,78.6 L257.5,79.3 L258.5,80.0 L259.5,81.3 L260.5,82.5 L261.5,83.8 L262.5,85.4 L263.5,87.2 L264.5,88.7 L265.5,90.3 L266.5,91.9 L267.5,93.3 L268.5,94.5 L269.5,96.1 L270.5,97.6 L271.5,99.1 L272.5,100.8 L273.5,102.7 L274.5,104.8 L275.5,106.8 L276.5,108.9 L277.5,111.1 L278.5,113.2 L279.5,115.2 L280.5,118.1 L281.5,121.0 L282.5,123.8 L283.5,126.5 L284.5,129.4 L285.5,131.6 L286.5,133.9 L287.5,136.4 L288.5,139.0 L289.5,141.5 L290.5,143.8 L291.5,145.9 L292.5,148.0 L293.5,150.4 L294.5,152.8 L295.5,156.0 L296.5,159.6 L297.5,164.0 L298.5,168.4 L299.5,172.7 L300.5,176.6 L301.5,180.6 L302.5,184.6 L303.5,188.8 L304.5,193.2 L305.5,197.4 L306.5,202.2 L307.5,206.3 L308.5,210.4 L309.5,213.9 L310.5,217.0 L311.5,220.6 L312.5,224.3 L313.5,227.0 L314.5,230.2 L315.5,233.5 L316.5,235.9 L317.5,238.2 L318.5,241.0 L319.5,243.7 L320.5,246.4 L321.5,249.1 L322.5,251.8 L323.5,254.7 L324.5,256.8 L325.5,259.1 L326.5,260.9 L327.5,262.9 L328.5,264.9 L329.5,267.1 L330.5,269.2 L331.5,271.6 L332.5,273.7 L333.5,275.4 L334.5,277.4 L335.5,279.0 L336.5,280.9 L337.5,282.8 L338.5,284.4 L339.5,285.9 L340.5,287.5 L341.5,288.8 L342.5,290.3 L343.5,292.1 L344.5,293.7 L345.5,294.9 L346.5,296.1 L347.5,297.0 L348.5,297.5 L349.5,298.3 L350.5,299.3 L351.5,300.3 L352.5,301.5 L353.5,302.6 L354.5,303.6 L355.5,304.4 L356.5,305.6 L357.5,306.5 L358.5,307.7 L359.5,308.8 L360.5,310.1 L361.5,310.7 L362.5,311.6 L363.5,312.5 L364.5,312.9 L365.5,313.6 L366.5,314.5 L367.5,315.0 L368.5,315.3 L369.5,316.2 L370.5,316.5 L371.5,316.8 L372.5,317.0 L373.5,317.2 L374.5,317.2 L375.5,317.6 L376.5,317.6 L377.5,317.9 L378.5,317.7 L379.5,317.9 L380.5,317.9 L381.5,317.7 L382.5,317.2 L383.5,317.1 L384.5,316.4 L385.5,315.9 L386.5,315.0 L387.5,314.7 L388.5,314.5 L389.5,313.3 L390.5,312.4 L391.5,311.8 L392.5,310.8 L393.5,309.7 L394.5,309.1 L395.5,308.3 L396.5,307.7 L397.5,307.0 L398.5,306.0 L399.5,305.5 L400.5,304.7 L401.5,304.0 L402.5,303.2 L403.5,302.7 L404.5,301.8 L405.5,301.3 L406.5,300.3 L407.5,299.2 L408.5,298.3 L409.5,297.6 L410.5,296.6 L411.5,296.0 L412.5,295.4 L413.5,294.3 L414.5,293.8 L415.5,293.0 L416.5,292.1 L417.5,291.5 L418.5,290.7 L419.5,289.6 L420.5,289.0 L421.5,288.1 L422.5,287.3 L423.5,286.8 L424.5,286.1 L425.5,285.1 L426.5,284.6 L427.5,283.9 L428.5,283.0 L429.5,282.2 L430.5,281.7 L431.5,280.8 L432.5,280.1 L433.5,279.5 L434.5,278.8 L435.5,277.8 L436.5,276.8 L437.5,276.2 L438.5,275.5 L439.5,274.9 L440.5,274.7 L441.5,274.3 L442.5,273.5 L443.5,273.2 L444.5,272.5 L445.5,271.6 L446.5,270.9 L447.5,270.2 L448.5,269.0 L449.5,268.2 L450.5,267.5 L451.5,266.3 L452.5,265.5 L453.5,264.8 L454.5,264.0 L455.5,263.0 L456.5,262.4 L457.5,261.7 L458.5,260.9 L459.5,260.0 L460.5,259.4 L461.5,258.4 L462.5,257.4 L463.5,256.6 L464.5,255.6 L465.5,254.4 L466.5,253.7 L467.5,252.6 L468.5,251.1 L469.5,249.9 L470.5,248.9 L471.5,247.3 L472.5,246.2 L473.5,245.3 L474.5,244.5 L475.5,243.4 L476.5,242.8 L477.5,241.8 L478.5,240.3 L479.5,238.7 L480.5,236.7 L481.5,233.9 L482.5,232.0 L483.5,231.0 L484.5,229.8 L485.5,228.6 L486.5,227.7 L487.5,226.6 L488.5,225.6 L489.5,225.0 L490.5,224.2 L491.5,223.4 L492.5,222.6 L493.5,221.2 L494.5,219.5 L495.5,217.9 L496.5,216.4 L497.5,215.0 L498.5,214.4 L499.5,213.2 L500.5,212.4 L501.5,211.8 L502.5,211.4 L503.5,210.8 L504.5,210.7 L505.5,210.9 L506.5,210.7 L507.5,210.4 L508.5,209.6 L509.5,208.6 L510.5,206.9 L511.5,205.7 L512.5,204.3 L513.5,203.1 L514.5,201.4 L515.5,200.6 L516.5,199.3 L517.5,198.0 L518.5,196.8 L519.5,195.9 L520.5,194.6 L521.5,193.3 L522.5,192.1 L523.5,190.9 L524.5,189.8 L525.5,188.5 L526.5,187.4 L527.5,186.3 L528.5,185.2 L529.5,184.4 L530.5,183.5 L531.5,183.0 L532.5,182.5 L533.5,181.7 L534.5,180.9 L535.5,180.0 L536.5,178.7 L537.5,177.4 L538.5,176.2 L539.5,174.8 L540.5,173.9 L541.5,173.2 L542.5,172.1 L543.5,171.5 L544.5,170.5 L545.5,169.8 L546.5,168.9 L547.5,168.3 L548.5,167.2 L549.5,166.3 L550.5,165.3 L551.5,164.4 L552.5,163.4 L553.5,162.2 L554.5,160.9 L555.5,159.5 L556.5,158.3 L557.5,156.8 L558.5,156.0 L559.5,154.9 L560.5,153.8 L561.5,152.6 L562.5,152.0 L563.5,150.8 L564.5,150.0 L565.5,149.2 L566.5,148.5 L567.5,147.7 L568.5,146.9 L569.5,146.3 L570.5,145.6 L571.5,144.8 L572.5,143.8 L573.5,143.2 L574.5,142.5 L575.5,141.6 L576.5,141.1 L577.5,140.7 L578.5,140.2 L579.5,139.1 L580.5,138.7 L581.5,138.2 L582.5,137.4 L583.5,136.8 L584.5,136.2 L585.5,135.8 L586.5,135.0" stroke="#3c3c3c" stroke-width="0.52"/>
<path d="M27.5,142.0 L28.5,141.1 L29.5,140.1 L30.5,139.1 L31.5,138.3 L32.5,137.7 L33.5,137.4 L34.5,136.9 L35.5,136.3 L36.5,135.6 L37.5,135.3 L38.5,134.3 L39.5,133.5 L40.5,132.9 L41.5,132.3 L42.5,131.2 L43.5,130.3 L44.5,130.0 L45.5,129.2 L46.5,128.2 L47.5,127.5 L48.5,126.8 L49.5,125.9 L50.5,125.2 L51.5,124.9 L52.5,124.3 L53.5,123.5 L54.5,122.8 L55.5,122.2 L56.5,121.5 L57.5,120.9 L58.5,120.4 L59.5,119.6 L60.5,119.0 L61.5,118.1 L62.5,117.0 L63.5,116.7 L64.5,116.1 L65.5,115.4 L66.5,114.7 L67.5,114.3 L68.5,113.4 L69.5,112.9 L70.5,112.5 L71.5,111.8 L72.5,111.6 L73.5,111.0 L74.5,110.4 L75.5,109.9 L76.5,109.6 L77.5,108.7 L78.5,108.6 L79.5,108.0 L80.5,107.4 L81.5,106.8 L82.5,106.7 L83.5,105.7 L84.5,105.4 L85.5,104.6 L86.5,104.2 L87.5,103.2 L88.5,102.6 L89.5,102.2 L90.5,101.7 L91.5,100.9 L92.5,100.8 L93.5,100.3 L94.5,99.3 L95.5,98.7 L96.5,98.0 L97.5,97.3 L98.5,96.9 L99.5,96.4 L100.5,95.7 L101.5,95.4 L102.5,94.8 L103.5,93.9 L104.5,93.6 L105.5,92.9 L106.5,92.3 L107.5,91.7 L108.5,91.3 L109.5,90.8 L110.5,90.4 L111.5,90.0 L112.5,89.5 L113.5,88.9 L114.5,88.0 L115.5,87.5 L116.5,86.8 L117.5,86.1 L118.5,85.5 L119.5,85.2 L120.5,84.8 L121.5,84.3 L122.5,83.6 L123.5,82.7 L124.5,82.0 L125.5,81.2 L126.5,80.5 L127.5,79.9 L128.5,79.7 L129.5,79.2 L130.5,78.7 L131.5,78.1 L132.5,77.7 L133.5,77.1 L134.5,76.5 L135.5,76.1 L136.5,75.5 L137.5,75.2 L138.5,74.6 L139.5,74.2 L140.5,73.5 L141.5,73.0 L142.5,72.5 L143.5,72.0 L144.5,71.1 L145.5,70.6 L146.5,70.1 L147.5,69.7 L148.5,69.4 L149.5,69.4 L150.5,68.9 L151.5,68.7 L152.5,68.1 L153.5,68.0 L154.5,67.4 L155.5,67.4 L156.5,67.1 L157.5,66.5 L158.5,66.0 L159.5,65.8 L160.5,65.1 L161.5,65.0 L162.5,65.0 L163.5,64.7 L164.5,64.3 L165.5,64.7 L166.5,64.4 L167.5,64.2 L168.5,64.2 L169.5,64.0 L170.5,63.5 L171.5,63.1 L172.5,62.6 L173.5,62.0 L174.5,61.7 L175.5,61.5 L176.5,61.3 L177.5,61.1 L178.5,60.8 L179.5,60.7 L180.5,60.2 L181.5,59.9 L182.5,59.8 L183.5,59.6 L184.5,59.4 L185.5,59.3 L186.5,59.6 L187.5,59.8 L188.5,59.9 L189.5,59.8 L190.5,60.2 L191.5,59.8 L192.5,59.6 L193.5,59.5 L194.5,59.5 L195.5,59.4 L196.5,59.3 L197.5,59.6 L198.5,59.5 L199.5,59.6 L200.5,59.3 L201.5,59.6 L202.5,59.3 L203.5,59.5 L204.5,59.7 L205.5,60.1 L206.5,59.8 L207.5,60.1 L208.5,60.1 L209.5,60.3 L210.5,60.3 L211.5,60.6 L212.5,60.7 L213.5,60.9 L214.5,60.8 L215.5,61.0 L216.5,61.3 L217.5,61.2 L218.5,61.3 L219.5,61.4 L220.5,61.5 L221.5,61.3 L222.5,61.9 L223.5,62.1 L224.5,62.6 L225.5,62.9 L226.5,63.4 L227.5,63.9 L228.5,64.4 L229.5,64.4 L230.5,64.9 L231.5,65.4 L232.5,65.7 L233.5,66.3 L234.5,67.2 L235.5,67.4 L236.5,67.8 L237.5,68.6 L238.5,69.2 L239.5,69.5 L240.5,70.1 L241.5,70.7 L242.5,71.1 L243.5,71.3 L244.5,72.1 L245.5,72.8 L246.5,73.4 L247.5,74.4 L248.5,75.3 L249.5,76.1 L250.5,77.2 L251.5,78.3 L252.5,79.0 L253.5,79.9 L254.5,80.7 L255.5,81.8 L256.5,82.7 L257.5,83.6 L258.5,84.7 L259.5,86.1 L260.5,87.1 L261.5,88.5 L262.5,90.2 L263.5,91.4 L264.5,92.7 L265.5,93.9 L266.5,95.2 L267.5,96.6 L268.5,98.8 L269.5,100.6 L270.5,102.4 L271.5,104.3 L272.5,106.4 L273.5,107.9 L274.5,109.9 L275.5,112.3 L276.5,114.6 L277.5,116.7 L278.5,119.0 L279.5,121.6 L280.5,123.9 L281.5,126.1 L282.5,128.2 L283.5,130.5 L284.5,132.7 L285.5,134.7 L286.5,136.9 L287.5,139.4 L288.5,141.6 L289.5,143.7 L290.5,146.0 L291.5,148.4 L292.5,150.9 L293.5,153.7 L294.5,156.8 L295.5,160.5 L296.5,164.3 L297.5,168.2 L298.5,171.9 L299.5,176.1 L300.5,179.9 L301.5,183.4 L302.5,186.5 L303.5,189.6 L304.5,192.1 L305.5,195.0 L306.5,197.8 L307.5,200.1 L308.5,202.4 L309.5,205.3 L310.5,207.7 L311.5,209.8 L312.5,212.8 L313.5,215.7 L314.5,218.2 L315.5,221.4 L316.5,224.7 L317.5,227.4 L318.5,230.4 L319.5,233.2 L320.5,235.7 L321.5,238.4 L322.5,241.0 L323.5,243.3 L324.5,246.0 L325.5,248.5 L326.5,250.8 L327.5,253.1 L328.5,255.4 L329.5,257.5 L330.5,259.4 L331.5,261.7 L332.5,263.7 L333.5,265.7 L334.5,267.5 L335.5,269.6 L336.5,271.5 L337.5,273.8 L338.5,275.5 L339.5,277.4 L340.5,278.8 L341.5,279.9 L342.5,280.7 L343.5,281.9 L344.5,282.7 L345.5,283.8 L346.5,285.0 L347.5,286.3 L348.5,287.3 L349.5,288.6 L350.5,290.2 L351.5,291.2 L352.5,292.8 L353.5,294.3 L354.5,295.7 L355.5,296.3 L356.5,297.8 L357.5,298.8 L358.5,299.5 L359.5,300.4 L360.5,301.6 L361.5,302.4 L362.5,303.3 L363.5,304.1 L364.5,305.0 L365.5,305.3 L366.5,306.2 L367.5,306.3 L368.5,306.6 L369.5,307.0 L370.5,307.6 L371.5,308.1 L372.5,308.5 L373.5,309.3 L374.5,309.7 L375.5,310.3 L376.5,310.2 L377.5,310.6 L378.5,310.8 L379.5,310.8 L380.5,310.7 L381.5,310.9 L382.5,310.7 L383.5,310.9 L384.5,310.8 L385.5,311.0 L386.5,311.2 L387.5,311.3 L388.5,310.9 L389.5,311.0 L390.5,310.7 L391.5,310.5 L392.5,310.3 L393.5,310.3 L394.5,310.0 L395.5,309.7 L396.5,309.0 L397.5,308.8 L398.5,308.4 L399.5,308.1 L400.5,307.8 L401.5,307.7 L402.5,306.7 L403.5,306.2 L404.5,305.5 L405.5,304.9 L406.5,304.6 L407.5,304.1 L408.5,303.2 L409.5,302.4 L410.5,301.3 L411.5,300.0 L412.5,299.4 L413.5,298.3 L414.5,297.7 L415.5,296.6 L416.5,295.6 L417.5,294.7 L418.5,294.2 L419.5,293.0 L420.5,292.3 L421.5,291.4 L422.5,290.4 L423.5,289.6 L424.5,288.7 L425.5,288.0 L426.5,287.5 L427.5,286.9 L428.5,286.3 L429.5,286.2 L430.5,285.7 L431.5,285.3 L432.5,284.9 L433.5,284.7 L434.5,283.8 L435.5,283.5 L436.5,282.9 L437.5,282.4 L438.5,281.5 L439.5,281.0 L440.5,280.3 L441.5,279.7 L442.5,279.1 L443.5,278.3 L444.5,278.0 L445.5,277.3 L446.5,276.5 L447.5,275.5 L448.5,274.8 L449.5,273.7 L450.5,272.8 L451.5,272.1 L452.5,271.4 L453.5,270.5 L454.5,269.8 L455.5,268.9 L456.5,268.1 L457.5,267.4 L458.5,266.7 L459.5,265.6 L460.5,264.3 L461.5,262.8 L462.5,261.1 L463.5,259.9 L464.5,258.7 L465.5,257.8 L466.5,256.8 L467.5,255.9 L468.5,254.9 L469.5,253.8 L470.5,252.6 L471.5,251.5 L472.5,250.6 L473.5,249.2 L474.5,248.1 L475.5,247.0 L476.5,245.9 L477.5,244.7 L478.5,244.1 L479.5,242.9 L480.5,242.0 L481.5,241.1 L482.5,239.7 L483.5,238.3 L484.5,237.4 L485.5,236.2 L486.5,235.4 L487.5,234.3 L488.5,233.4 L489.5,232.5 L490.5,231.6 L491.5,230.3 L492.5,229.7 L493.5,228.6 L494.5,227.5 L495.5,226.6 L496.5,225.1 L497.5,224.0 L498.5,223.0 L499.5,221.8 L500.5,220.5 L501.5,219.3 L502.5,217.8 L503.5,216.1 L504.5,214.6 L505.5,213.4 L506.5,212.3 L507.5,211.3 L508.5,210.2 L509.5,209.3 L510.5,208.3 L511.5,207.5 L512.5,206.6 L513.5,206.3 L514.5,205.3 L515.5,204.4 L516.5,203.6 L517.5,203.1 L518.5,202.5 L519.5,202.0 L520.5,201.4 L521.5,200.8 L522.5,200.0 L523.5,198.6 L524.5,197.9 L525.5,197.3 L526.5,196.4 L527.5,195.5 L528.5,194.8 L529.5,193.9 L530.5,192.6 L531.5,191.9 L532.5,190.9 L533.5,190.0 L534.5,189.1 L535.5,188.6 L536.5,187.5 L537.5,186.6 L538.5,185.7 L539.5,185.0 L540.5,184.4 L541.5,183.7 L542.5,183.2 L543.5,182.4 L544.5,181.3 L545.5,180.2 L546.5,179.1 L547.5,177.9 L548.5,177.2 L549.5,176.3 L550.5,175.3 L551.5,174.7 L552.5,174.0 L553.5,173.3 L554.5,172.6 L555.5,171.9 L556.5,171.0 L557.5,170.2 L558.5,169.1 L559.5,168.1 L560.5,167.4 L561.5,166.6 L562.5,166.0 L563.5,165.0 L564.5,164.1 L565.5,163.1 L566.5,162.2 L567.5,161.2 L568.5,160.6 L569.5,160.1 L570.5,159.4 L571.5,158.5 L572.5,158.1 L573.5,157.7 L574.5,156.8 L575.5,156.2 L576.5,155.6 L577.5,154.9 L578.5,154.1 L579.5,153.4 L580.5,152.6 L581.5,151.9 L582.5,151.1 L583.5,150.6 L584.5,150.1 L585.5,149.5 L586.5,148.4" stroke="#3c3c3c" stroke-width="0.52"/>
<path d="M27.5,149.1 L28.5,148.3 L29.5,147.7 L30.5,146.7 L31.5,145.8 L32.5,145.2 L33.5,144.6 L34.5,143.4 L35.5,142.3 L36.5,141.7 L37.5,140.7 L38.5,139.9 L39.5,139.1 L40.5,138.3 L41.5,137.0 L42.5,136.3 L43.5,135.5 L44.5,134.7 L45.5,134.0 L46.5,133.4 L47.5,132.9 L48.5,132.3 L49.5,132.3 L50.5,132.5 L51.5,132.9 L52.5,132.8 L53.5,132.6 L54.5,131.7 L55.5,130.4 L56.5,129.1 L57.5,128.3 L58.5,127.8 L59.5,127.3 L60.5,127.2 L61.5,126.7 L62.5,126.1 L63.5,125.5 L64.5,124.6 L65.5,123.9 L66.5,123.1 L67.5,122.8 L68.5,122.5 L69.5,122.5 L70.5,122.2 L71.5,122.1 L72.5,121.4 L73.5,120.7 L74.5,119.9 L75.5,119.5 L76.5,118.8 L77.5,118.3 L78.5,117.7 L79.5,117.1 L80.5,116.3 L81.5,115.7 L82.5,115.0 L83.5,114.3 L84.5,113.7 L85.5,113.0 L86.5,112.2 L87.5,111.5 L88.5,110.7 L89.5,110.1 L90.5,109.5 L91.5,108.8 L92.5,107.8 L93.5,107.2 L94.5,106.2 L95.5,105.3 L96.5,104.9 L97.5,104.3 L98.5,103.7 L99.5,103.0 L100.5,102.5 L101.5,101.6 L102.5,101.2 L103.5,100.9 L104.5,100.8 L105.5,100.4 L106.5,100.0 L107.5,99.7 L108.5,99.2 L109.5,98.6 L110.5,98.0 L111.5,97.6 L112.5,97.3 L113.5,96.5 L114.5,96.0 L115.5,95.5 L116.5,94.4 L117.5,93.4 L118.5,92.7 L119.5,92.3 L120.5,91.6 L121.5,91.3 L122.5,90.6 L123.5,90.1 L124.5,89.2 L125.5,88.7 L126.5,88.0 L127.5,87.4 L128.5,86.9 L129.5,86.6 L130.5,86.1 L131.5,85.8 L132.5,85.4 L133.5,84.8 L134.5,84.2 L135.5,83.6 L136.5,83.0 L137.5,82.3 L138.5,81.7 L139.5,80.9 L140.5,80.3 L141.5,79.7 L142.5,78.8 L143.5,78.2 L144.5,77.3 L145.5,76.8 L146.5,76.5 L147.5,76.1 L148.5,75.9 L149.5,75.9 L150.5,75.4 L151.5,75.2 L152.5,75.3 L153.5,74.6 L154.5,74.3 L155.5,74.0 L156.5,73.5 L157.5,73.1 L158.5,73.0 L159.5,72.6 L160.5,72.2 L161.5,71.9 L162.5,71.6 L163.5,71.3 L164.5,71.1 L165.5,71.1 L166.5,71.0 L167.5,70.8 L168.5,70.3 L169.5,69.8 L170.5,69.0 L171.5,68.4 L172.5,67.6 L173.5,67.5 L174.5,67.1 L175.5,66.8 L176.5,66.6 L177.5,66.8 L178.5,66.6 L179.5,66.9 L180.5,67.1 L181.5,67.2 L182.5,67.3 L183.5,67.6 L184.5,67.7 L185.5,67.9 L186.5,67.9 L187.5,68.1 L188.5,67.9 L189.5,67.7 L190.5,67.3 L191.5,66.5 L192.5,66.2 L193.5,65.8 L194.5,65.1 L195.5,64.7 L196.5,64.5 L197.5,64.4 L198.5,64.1 L199.5,63.7 L200.5,63.5 L201.5,63.3 L202.5,63.0 L203.5,62.5 L204.5,62.3 L205.5,62.3 L206.5,62.7 L207.5,63.0 L208.5,63.6 L209.5,64.9 L210.5,66.0 L211.5,66.4 L212.5,67.1 L213.5,67.7 L214.5,68.3 L215.5,68.4 L216.5,68.9 L217.5,69.0 L218.5,69.3 L219.5,68.9 L220.5,69.1 L221.5,69.1 L222.5,68.9 L223.5,69.6 L224.5,70.2 L225.5,70.8 L226.5,71.6 L227.5,72.3 L228.5,72.4 L229.5,72.9 L230.5,73.5 L231.5,74.1 L232.5,75.1 L233.5,75.8 L234.5,76.6 L235.5,77.3 L236.5,77.8 L237.5,78.3 L238.5,78.9 L239.5,79.6 L240.5,80.2 L241.5,81.1 L242.5,81.5 L243.5,82.4 L244.5,82.8 L245.5,83.6 L246.5,84.4 L247.5,85.3 L248.5,86.3 L249.5,87.4 L250.5,88.1 L251.5,89.3 L252.5,90.4 L253.5,91.2 L254.5,92.2 L255.5,93.3 L256.5,94.2 L257.5,95.4 L258.5,96.9 L259.5,98.3 L260.5,99.7 L261.5,101.4 L262.5,102.8 L263.5,104.1 L264.5,105.5 L265.5,107.1 L266.5,108.8 L267.5,110.5 L268.5,111.9 L269.5,113.7 L270.5,115.4 L271.5,116.9 L272.5,118.3 L273.5,120.6 L274.5,122.5 L275.5,124.8 L276.5,127.0 L277.5,129.9 L278.5,131.9 L279.5,134.2 L280.5,136.2 L281.5,138.4 L282.5,140.7 L283.5,143.2 L284.5,145.4 L285.5,148.1 L286.5,150.7 L287.5,153.1 L288.5,155.8 L289.5,158.7 L290.5,161.3 L291.5,164.1 L292.5,167.4 L293.5,170.1 L294.5,173.2 L295.5,176.5 L296.5,179.9 L297.5,182.6 L298.5,186.0 L299.5,189.1 L300.5,192.4 L301.5,195.3 L302.5,198.3 L303.5,201.5 L304.5,204.5 L305.5,207.2 L306.5,210.0 L307.5,212.9 L308.5,215.5 L309.5,218.2 L310.5,220.6 L311.5,223.4 L312.5,226.0 L313.5,228.5 L314.5,231.1 L315.5,234.0 L316.5,236.5 L317.5,239.2 L318.5,241.6 L319.5,244.0 L320.5,246.4 L321.5,248.8 L322.5,251.2 L323.5,253.4 L324.5,255.4 L325.5,257.5 L326.5,259.7 L327.5,261.9 L328.5,264.3 L329.5,266.4 L330.5,268.6 L331.5,270.4 L332.5,271.9 L333.5,274.2 L334.5,276.4 L335.5,278.3 L336.5,280.3 L337.5,282.5 L338.5,283.8 L339.5,285.4 L340.5,286.6 L341.5,287.6 L342.5,288.8 L343.5,290.2 L344.5,291.3 L345.5,292.6 L346.5,294.0 L347.5,294.8 L348.5,296.0 L349.5,297.3 L350.5,298.5 L351.5,299.7 L352.5,301.1 L353.5,302.0 L354.5,303.1 L355.5,303.9 L356.5,304.8 L357.5,305.9 L358.5,306.5 L359.5,307.2 L360.5,308.3 L361.5,309.1 L362.5,309.6 L363.5,310.1 L364.5,310.9 L365.5,311.1 L366.5,311.4 L367.5,311.8 L368.5,312.5 L369.5,313.0 L370.5,314.1 L371.5,314.8 L372.5,315.2 L373.5,315.5 L374.5,315.5 L375.5,315.1 L376.5,315.1 L377.5,314.9 L378.5,315.0 L379.5,315.2 L380.5,315.2 L381.5,315.2 L382.5,315.2 L383.5,315.4 L384.5,315.5 L385.5,315.8 L386.5,316.2 L387.5,316.3 L388.5,316.3 L389.5,315.9 L390.5,315.8 L391.5,315.5 L392.5,315.2 L393.5,314.5 L394.5,314.4 L395.5,313.4 L396.5,312.6 L397.5,312.4 L398.5,312.1 L399.5,311.5 L400.5,311.3 L401.5,310.7 L402.5,310.0 L403.5,309.3 L404.5,308.5 L405.5,307.8 L406.5,307.1 L407.5,306.7 L408.5,305.9 L409.5,305.6 L410.5,304.6 L411.5,304.0 L412.5,302.7 L413.5,301.7 L414.5,300.6 L415.5,300.1 L416.5,298.9 L417.5,298.5 L418.5,297.8 L419.5,296.9 L420.5,296.0 L421.5,295.4 L422.5,294.1 L423.5,293.7 L424.5,292.9 L425.5,292.1 L426.5,291.2 L427.5,290.6 L428.5,289.5 L429.5,289.0 L430.5,288.5 L431.5,288.1 L432.5,287.8 L433.5,287.8 L434.5,287.2 L435.5,286.6 L436.5,286.5 L437.5,286.1 L438.5,285.3 L439.5,284.6 L440.5,283.9 L441.5,282.9 L442.5,282.1 L443.5,281.3 L444.5,280.8 L445.5,280.4 L446.5,279.9 L447.5,279.3 L448.5,278.4 L449.5,277.2 L450.5,276.3 L451.5,275.2 L452.5,274.3 L453.5,273.5 L454.5,272.7 L455.5,271.7 L456.5,270.9 L457.5,270.1 L458.5,269.1 L459.5,268.4 L460.5,267.5 L461.5,266.3 L462.5,265.2 L463.5,264.5 L464.5,263.2 L465.5,262.4 L466.5,261.6 L467.5,260.8 L468.5,259.2 L469.5,258.5 L470.5,257.2 L471.5,255.8 L472.5,254.3 L473.5,253.4 L474.5,251.9 L475.5,250.7 L476.5,249.8 L477.5,248.6 L478.5,247.2 L479.5,246.2 L480.5,245.2 L481.5,244.1 L482.5,243.0 L483.5,242.2 L484.5,241.1 L485.5,240.1 L486.5,238.7 L487.5,237.8 L488.5,236.6 L489.5,235.2 L490.5,233.8 L491.5,233.2 L492.5,232.0 L493.5,230.9 L494.5,230.3 L495.5,229.4 L496.5,228.3 L497.5,227.1 L498.5,226.0 L499.5,224.8 L500.5,223.2 L501.5,221.6 L502.5,220.5 L503.5,219.5 L504.5,217.9 L505.5,216.4 L506.5,215.1 L507.5,213.8 L508.5,212.5 L509.5,211.8 L510.5,211.3 L511.5,210.5 L512.5,209.8 L513.5,208.8 L514.5,207.9 L515.5,207.0 L516.5,206.6 L517.5,205.8 L518.5,205.0 L519.5,204.0 L520.5,203.2 L521.5,201.6 L522.5,200.5 L523.5,199.7 L524.5,199.2 L525.5,198.3 L526.5,197.6 L527.5,196.7 L528.5,195.8 L529.5,194.9 L530.5,194.1 L531.5,193.7 L532.5,193.0 L533.5,192.5 L534.5,191.8 L535.5,191.0 L536.5,189.7 L537.5,188.8 L538.5,187.9 L539.5,187.2 L540.5,186.3 L541.5,185.8 L542.5,185.1 L543.5,184.0 L544.5,182.7 L545.5,181.9 L546.5,180.9 L547.5,180.0 L548.5,178.9 L549.5,178.7 L550.5,178.5 L551.5,178.2 L552.5,178.3 L553.5,177.7 L554.5,176.7 L555.5,175.8 L556.5,175.1 L557.5,174.0 L558.5,173.2 L559.5,172.3 L560.5,171.2 L561.5,169.9 L562.5,169.3 L563.5,168.1 L564.5,167.5 L565.5,166.7 L566.5,166.1 L567.5,165.1 L568.5,164.7 L569.5,163.9 L570.5,163.6 L571.5,163.0 L572.5,162.4 L573.5,161.6 L574.5,160.8 L575.5,159.8 L576.5,159.0 L577.5,158.1 L578.5,157.4 L579.5,156.6 L580.5,155.9 L581.5,155.2 L582.5,154.3 L583.5,153.7 L584.5,152.7 L585.5,151.8 L586.5,151.4" stroke="#3c3c3c" stroke-width="0.52"/>
<path d="M27.5,155.8 L28.5,155.4 L29.5,154.6 L30.5,154.0 L31.5,153.4 L32.5,152.5 L33.5,151.9 L34.5,151.3 L35.5,150.8 L36.5,150.2 L37.5,149.8 L38.5,149.1 L39.5,148.6 L40.5,147.7 L41.5,147.1 L42.5,146.0 L43.5,145.3 L44.5,144.5 L45.5,143.9 L46.5,143.1 L47.5,142.2 L48.5,141.1 L49.5,140.2 L50.5,139.1 L51.5,138.4 L52.5,137.8 L53.5,137.1 L54.5,136.3 L55.5,135.9 L56.5,135.0 L57.5,134.1 L58.5,133.7 L59.5,133.1 L60.5,132.1 L61.5,131.2 L62.5,130.2 L63.5,129.5 L64.5,128.7 L65.5,127.9 L66.5,127.3 L67.5,127.1 L68.5,126.3 L69.5,125.9 L70.5,125.2 L71.5,124.8 L72.5,123.9 L73.5,123.4 L74.5,122.9 L75.5,122.7 L76.5,122.5 L77.5,122.2 L78.5,121.7 L79.5,121.2 L80.5,120.6 L81.5,119.9 L82.5,119.4 L83.5,118.6 L84.5,118.2 L85.5,117.7 L86.5,117.2 L87.5,116.5 L88.5,115.9 L89.5,114.9 L90.5,114.5 L91.5,113.7 L92.5,112.7 L93.5,112.3 L94.5,111.8 L95.5,110.5 L96.5,109.5 L97.5,108.8 L98.5,108.0 L99.5,107.3 L100.5,106.8 L101.5,106.5 L102.5,106.1 L103.5,105.0 L104.5,104.2 L105.5,103.5 L106.5,102.7 L107.5,102.0 L108.5,101.8 L109.5,101.4 L110.5,100.9 L111.5,100.7 L112.5,100.7 L113.5,100.2 L114.5,99.6 L115.5,99.5 L116.5,99.3 L117.5,98.5 L118.5,98.0 L119.5,97.9 L120.5,97.2 L121.5,96.3 L122.5,95.5 L123.5,95.1 L124.5,94.4 L125.5,93.9 L126.5,93.3 L127.5,92.7 L128.5,91.9 L129.5,91.1 L130.5,90.1 L131.5,89.1 L132.5,88.5 L133.5,87.7 L134.5,87.0 L135.5,86.7 L136.5,86.4 L137.5,85.7 L138.5,85.7 L139.5,84.9 L140.5,84.5 L141.5,84.5 L142.5,84.1 L143.5,83.3 L144.5,83.3 L145.5,83.0 L146.5,81.9 L147.5,81.4 L148.5,80.9 L149.5,80.4 L150.5,79.6 L151.5,79.4 L152.5,78.9 L153.5,78.4 L154.5,77.8 L155.5,77.2 L156.5,76.6 L157.5,76.3 L158.5,75.7 L159.5,75.8 L160.5,75.6 L161.5,75.2 L162.5,75.2 L163.5,75.1 L164.5,74.8 L165.5,74.6 L166.5,74.6 L167.5,74.2 L168.5,73.7 L169.5,73.1 L170.5,72.8 L171.5,71.9 L172.5,71.5 L173.5,71.5 L174.5,71.1 L175.5,70.4 L176.5,71.0 L177.5,70.8 L178.5,70.9 L179.5,71.1 L180.5,71.2 L181.5,70.9 L182.5,71.2 L183.5,71.6 L184.5,72.4 L185.5,73.3 L186.5,73.8 L187.5,74.0 L188.5,73.9 L189.5,73.6 L190.5,73.4 L191.5,73.4 L192.5,72.9 L193.5,72.6 L194.5,72.5 L195.5,72.4 L196.5,72.3 L197.5,72.4 L198.5,72.2 L199.5,72.4 L200.5,72.2 L201.5,72.5 L202.5,72.5 L203.5,72.7 L204.5,72.6 L205.5,72.6 L206.5,72.5 L207.5,72.7 L208.5,73.2 L209.5,73.2 L210.5,74.1 L211.5,74.2 L212.5,74.3 L213.5,73.7 L214.5,74.0 L215.5,73.8 L216.5,74.0 L217.5,74.1 L218.5,74.5 L219.5,74.8 L220.5,75.2 L221.5,75.5 L222.5,76.0 L223.5,76.8 L224.5,77.1 L225.5,77.4 L226.5,77.6 L227.5,78.2 L228.5,78.8 L229.5,79.4 L230.5,80.1 L231.5,81.0 L232.5,81.4 L233.5,81.8 L234.5,82.2 L235.5,83.2 L236.5,83.9 L237.5,84.5 L238.5,85.0 L239.5,85.7 L240.5,86.3 L241.5,87.1 L242.5,88.0 L243.5,89.0 L244.5,89.9 L245.5,90.5 L246.5,91.5 L247.5,92.5 L248.5,93.9 L249.5,94.8 L250.5,96.0 L251.5,97.0 L252.5,98.0 L253.5,98.6 L254.5,99.7 L255.5,100.9 L256.5,102.1 L257.5,103.3 L258.5,104.9 L259.5,106.5 L260.5,107.9 L261.5,109.2 L262.5,110.5 L263.5,111.9 L264.5,113.4 L265.5,114.8 L266.5,116.5 L267.5,118.1 L268.5,119.4 L269.5,120.9 L270.5,122.8 L271.5,124.6 L272.5,126.8 L273.5,129.0 L274.5,131.3 L275.5,133.4 L276.5,135.7 L277.5,137.5 L278.5,139.8 L279.5,142.1 L280.5,144.2 L281.5,146.8 L282.5,149.7 L283.5,152.3 L284.5,155.3 L285.5,158.2 L286.5,160.9 L287.5,163.5 L288.5,166.4 L289.5,169.1 L290.5,172.2 L291.5,175.5 L292.5,178.7 L293.5,182.0 L294.5,184.9 L295.5,187.7 L296.5,190.4 L297.5,193.3 L298.5,196.4 L299.5,199.4 L300.5,202.9 L301.5,206.0 L302.5,209.2 L303.5,212.0 L304.5,214.8 L305.5,217.5 L306.5,220.3 L307.5,222.8 L308.5,225.6 L309.5,228.6 L310.5,231.2 L311.5,233.6 L312.5,236.2 L313.5,238.5 L314.5,240.9 L315.5,243.4 L316.5,246.0 L317.5,248.8 L318.5,251.8 L319.5,253.7 L320.5,256.1 L321.5,258.3 L322.5,260.2 L323.5,262.0 L324.5,264.2 L325.5,266.4 L326.5,268.4 L327.5,270.4 L328.5,272.6 L329.5,274.8 L330.5,276.6 L331.5,278.7 L332.5,281.0 L333.5,282.9 L334.5,284.8 L335.5,286.6 L336.5,288.5 L337.5,290.0 L338.5,291.8 L339.5,293.6 L340.5,295.2 L341.5,297.0 L342.5,299.0 L343.5,300.7 L344.5,302.1 L345.5,304.2 L346.5,305.4 L347.5,306.4 L348.5,307.4 L349.5,308.7 L350.5,309.8 L351.5,311.1 L352.5,312.4 L353.5,313.3 L354.5,314.1 L355.5,314.6 L356.5,315.2 L357.5,315.6 L358.5,316.6 L359.5,317.5 L360.5,318.3 L361.5,319.0 L362.5,319.4 L363.5,319.3 L364.5,319.2 L365.5,319.5 L366.5,319.6 L367.5,319.7 L368.5,320.1 L369.5,320.2 L370.5,320.3 L371.5,320.3 L372.5,320.3 L373.5,320.4 L374.5,320.4 L375.5,320.1 L376.5,320.0 L377.5,320.2 L378.5,320.3 L379.5,320.6 L380.5,320.9 L381.5,321.7 L382.5,321.9 L383.5,322.2 L384.5,323.4 L385.5,324.8 L386.5,325.8 L387.5,326.5 L388.5,327.2 L389.5,327.8 L390.5,328.2 L391.5,329.0 L392.5,329.7 L393.5,330.5 L394.5,330.9 L395.5,331.6 L396.5,332.1 L397.5,333.4 L398.5,334.9 L399.5,336.5 L400.5,337.1 L401.5,337.6 L402.5,334.8 L403.5,330.7 L404.5,328.4 L405.5,326.8 L406.5,325.2 L407.5,324.0 L408.5,322.3 L409.5,321.0 L410.5,319.8 L411.5,318.8 L412.5,317.6 L413.5,316.1 L414.5,314.5 L415.5,313.1 L416.5,311.8 L417.5,310.7 L418.5,309.7 L419.5,308.5 L420.5,307.8 L421.5,306.4 L422.5,305.1 L423.5,304.1 L424.5,302.9 L425.5,301.4 L426.5,300.4 L427.5,299.5 L428.5,297.8 L429.5,296.4 L430.5,295.0 L431.5,293.6 L432.5,292.2 L433.5,291.4 L434.5,290.6 L435.5,289.7 L436.5,288.9 L437.5,288.1 L438.5,287.4 L439.5,286.6 L440.5,286.1 L441.5,285.5 L442.5,284.9 L443.5,284.2 L444.5,283.6 L445.5,282.7 L446.5,281.9 L447.5,281.2 L448.5,280.4 L449.5,279.5 L450.5,278.8 L451.5,278.2 L452.5,276.9 L453.5,276.4 L454.5,275.6 L455.5,274.5 L456.5,273.6 L457.5,272.9 L458.5,271.6 L459.5,270.9 L460.5,269.7 L461.5,268.5 L462.5,267.6 L463.5,266.4 L464.5,265.0 L465.5,264.1 L466.5,263.4 L467.5,262.1 L468.5,261.1 L469.5,260.1 L470.5,258.9 L471.5,257.2 L472.5,256.2 L473.5,255.1 L474.5,253.9 L475.5,252.9 L476.5,252.1 L477.5,250.9 L478.5,249.8 L479.5,248.4 L480.5,247.1 L481.5,245.8 L482.5,244.5 L483.5,243.3 L484.5,242.2 L485.5,241.3 L486.5,240.5 L487.5,239.3 L488.5,238.3 L489.5,237.3 L490.5,236.3 L491.5,235.0 L492.5,234.0 L493.5,232.8 L494.5,231.7 L495.5,230.1 L496.5,228.7 L497.5,226.9 L498.5,224.7 L499.5,222.6 L500.5,221.8 L501.5,221.0 L502.5,220.7 L503.5,220.0 L504.5,219.6 L505.5,218.9 L506.5,218.4 L507.5,217.6 L508.5,217.2 L509.5,216.0 L510.5,215.2 L511.5,214.1 L512.5,213.4 L513.5,211.9 L514.5,211.0 L515.5,209.7 L516.5,209.2 L517.5,207.9 L518.5,207.4 L519.5,206.7 L520.5,205.9 L521.5,204.8 L522.5,204.3 L523.5,203.3 L524.5,202.6 L525.5,202.0 L526.5,201.4 L527.5,200.9 L528.5,200.7 L529.5,200.7 L530.5,200.7 L531.5,200.5 L532.5,200.2 L533.5,199.7 L534.5,199.3 L535.5,198.6 L536.5,198.0 L537.5,197.4 L538.5,196.6 L539.5,195.5 L540.5,194.2 L541.5,193.3 L542.5,192.7 L543.5,191.9 L544.5,190.9 L545.5,190.8 L546.5,190.4 L547.5,189.6 L548.5,189.0 L549.5,188.7 L550.5,188.3 L551.5,187.3 L552.5,186.3 L553.5,185.8 L554.5,184.6 L555.5,183.4 L556.5,182.5 L557.5,181.9 L558.5,180.9 L559.5,180.4 L560.5,179.8 L561.5,178.8 L562.5,178.1 L563.5,177.7 L564.5,176.7 L565.5,175.6 L566.5,175.2 L567.5,174.6 L568.5,173.6 L569.5,172.8 L570.5,172.1 L571.5,171.2 L572.5,170.4 L573.5,169.3 L574.5,168.3 L575.5,167.2 L576.5,166.5 L577.5,165.6 L578.5,164.9 L579.5,164.2 L580.5,163.6 L581.5,162.7 L582.5,162.0 L583.5,161.5 L584.5,160.8 L585.5,160.0 L586.5,159.0" stroke="#3c3c3c" stroke-width="0.52"/>
<path d="M27.5,157.8 L28.5,157.3 L29.5,156.8 L30.5,156.1 L31.5,155.3 L32.5,154.6 L33.5,153.9 L34.5,153.2 L35.5,152.4 L36.5,151.8 L37.5,151.0 L38.5,150.5 L39.5,150.3 L40.5,149.6 L41.5,148.9 L42.5,148.0 L43.5,147.2 L44.5,146.2 L45.5,145.3 L46.5,144.7 L47.5,144.3 L48.5,143.4 L49.5,142.5 L50.5,141.7 L51.5,140.8 L52.5,139.7 L53.5,139.0 L54.5,138.6 L55.5,138.1 L56.5,137.4 L57.5,137.0 L58.5,136.3 L59.5,135.3 L60.5,134.8 L61.5,133.9 L62.5,133.2 L63.5,132.8 L64.5,132.3 L65.5,131.2 L66.5,130.5 L67.5,129.5 L68.5,128.9 L69.5,128.4 L70.5,128.3 L71.5,127.9 L72.5,127.7 L73.5,127.2 L74.5,126.8 L75.5,126.3 L76.5,126.1 L77.5,126.0 L78.5,125.7 L79.5,125.1 L80.5,124.4 L81.5,123.8 L82.5,123.1 L83.5,122.3 L84.5,121.7 L85.5,121.1 L86.5,120.5 L87.5,119.7 L88.5,119.0 L89.5,118.2 L90.5,117.5 L91.5,116.7 L92.5,115.8 L93.5,114.9 L94.5,114.2 L95.5,113.7 L96.5,113.0 L97.5,112.7 L98.5,112.2 L99.5,111.6 L100.5,110.6 L101.5,110.1 L102.5,109.7 L103.5,109.4 L104.5,109.3 L105.5,109.4 L106.5,109.2 L107.5,108.7 L108.5,108.4 L109.5,108.0 L110.5,107.6 L111.5,107.2 L112.5,106.8 L113.5,106.1 L114.5,105.4 L115.5,104.6 L116.5,104.2 L117.5,103.2 L118.5,102.7 L119.5,102.5 L120.5,101.9 L121.5,100.9 L122.5,100.6 L123.5,100.2 L124.5,99.1 L125.5,98.6 L126.5,98.2 L127.5,97.5 L128.5,97.1 L129.5,96.5 L130.5,95.7 L131.5,95.0 L132.5,94.4 L133.5,93.2 L134.5,92.6 L135.5,91.9 L136.5,91.1 L137.5,90.4 L138.5,89.7 L139.5,88.9 L140.5,88.2 L141.5,88.0 L142.5,87.5 L143.5,87.3 L144.5,87.0 L145.5,87.0 L146.5,86.8 L147.5,86.5 L148.5,86.0 L149.5,85.7 L150.5,85.5 L151.5,84.6 L152.5,84.3 L153.5,83.7 L154.5,83.3 L155.5,82.9 L156.5,82.8 L157.5,82.6 L158.5,82.4 L159.5,82.4 L160.5,82.1 L161.5,82.0 L162.5,81.5 L163.5,81.2 L164.5,80.8 L165.5,80.3 L166.5,79.8 L167.5,79.9 L168.5,79.6 L169.5,79.4 L170.5,79.2 L171.5,79.1 L172.5,78.8 L173.5,78.8 L174.5,78.4 L175.5,78.4 L176.5,78.3 L177.5,78.3 L178.5,78.1 L179.5,78.1 L180.5,77.3 L181.5,77.0 L182.5,76.6 L183.5,76.3 L184.5,76.0 L185.5,76.0 L186.5,75.7 L187.5,75.7 L188.5,75.9 L189.5,75.7 L190.5,75.7 L191.5,76.0 L192.5,75.7 L193.5,75.7 L194.5,75.8 L195.5,75.8 L196.5,75.7 L197.5,76.1 L198.5,75.6 L199.5,75.8 L200.5,76.0 L201.5,76.1 L202.5,75.8 L203.5,75.9 L204.5,75.8 L205.5,76.0 L206.5,76.2 L207.5,76.6 L208.5,77.1 L209.5,77.1 L210.5,77.0 L211.5,76.7 L212.5,76.5 L213.5,76.5 L214.5,76.3 L215.5,76.6 L216.5,76.9 L217.5,77.6 L218.5,77.9 L219.5,78.5 L220.5,78.7 L221.5,78.8 L222.5,78.5 L223.5,78.4 L224.5,79.0 L225.5,79.3 L226.5,79.6 L227.5,80.0 L228.5,80.8 L229.5,81.1 L230.5,81.6 L231.5,82.1 L232.5,82.6 L233.5,83.0 L234.5,83.6 L235.5,84.0 L236.5,84.5 L237.5,85.3 L238.5,85.7 L239.5,86.3 L240.5,87.0 L241.5,87.9 L242.5,88.5 L243.5,89.4 L244.5,90.0 L245.5,90.4 L246.5,90.9 L247.5,91.4 L248.5,92.3 L249.5,93.2 L250.5,94.6 L251.5,95.6 L252.5,96.4 L253.5,97.3 L254.5,98.0 L255.5,98.7 L256.5,99.5 L257.5,100.7 L258.5,101.5 L259.5,102.7 L260.5,103.7 L261.5,105.3 L262.5,106.3 L263.5,108.0 L264.5,109.0 L265.5,110.6 L266.5,112.1 L267.5,113.6 L268.5,115.1 L269.5,116.9 L270.5,118.2 L271.5,119.8 L272.5,121.8 L273.5,123.5 L274.5,125.6 L275.5,127.8 L276.5,129.7 L277.5,131.7 L278.5,134.0 L279.5,136.7 L280.5,139.1 L281.5,141.9 L282.5,144.7 L283.5,147.2 L284.5,149.4 L285.5,152.5 L286.5,155.2 L287.5,157.9 L288.5,161.4 L289.5,164.7 L290.5,167.6 L291.5,170.4 L292.5,173.6 L293.5,176.5 L294.5,179.8 L295.5,183.1 L296.5,186.5 L297.5,189.9 L298.5,193.4 L299.5,196.6 L300.5,199.5 L301.5,202.8 L302.5,205.5 L303.5,208.2 L304.5,210.9 L305.5,214.1 L306.5,217.1 L307.5,220.1 L308.5,223.0 L309.5,226.2 L310.5,228.9 L311.5,231.1 L312.5,233.7 L313.5,236.4 L314.5,239.0 L315.5,241.5 L316.5,244.4 L317.5,246.9 L318.5,249.5 L319.5,251.7 L320.5,254.0 L321.5,256.2 L322.5,258.7 L323.5,260.7 L324.5,262.7 L325.5,265.1 L326.5,267.3 L327.5,269.4 L328.5,271.6 L329.5,274.2 L330.5,276.3 L331.5,278.4 L332.5,280.4 L333.5,282.2 L334.5,284.3 L335.5,286.2 L336.5,288.5 L337.5,290.5 L338.5,292.3 L339.5,294.3 L340.5,296.1 L341.5,297.9 L342.5,299.8 L343.5,302.2 L344.5,303.9 L345.5,305.4 L346.5,307.3 L347.5,308.8 L348.5,310.2 L349.5,312.0 L350.5,313.9 L351.5,315.2 L352.5,316.4 L353.5,317.9 L354.5,319.0 L355.5,320.1 L356.5,321.1 L357.5,322.3 L358.5,323.1 L359.5,323.9 L360.5,325.0 L361.5,326.2 L362.5,327.0 L363.5,328.0 L364.5,328.8 L365.5,329.2 L366.5,329.6 L367.5,330.6 L368.5,331.1 L369.5,331.6 L370.5,332.0 L371.5,332.5 L372.5,332.3 L373.5,332.6 L374.5,333.0 L375.5,333.7 L376.5,334.3 L377.5,335.0 L378.5,335.3 L379.5,335.4 L380.5,335.3 L381.5,335.6 L382.5,335.6 L383.5,336.1 L384.5,336.3 L385.5,336.3 L386.5,336.3 L387.5,336.4 L388.5,336.3 L389.5,336.8 L390.5,337.3 L391.5,337.7 L392.5,338.3 L393.5,338.9 L394.5,338.8 L395.5,339.3 L396.5,339.5 L397.5,339.5 L398.5,339.6 L399.5,339.6 L400.5,339.5 L401.5,339.7 L402.5,340.0 L403.5,340.1 L404.5,340.4 L405.5,340.9 L406.5,341.2 L407.5,341.4 L408.5,341.7 L409.5,341.6 L410.5,341.2 L411.5,340.8 L412.5,340.3 L413.5,339.5 L414.5,339.4 L415.5,338.9 L416.5,338.2 L417.5,337.8 L418.5,337.7 L419.5,336.9 L420.5,336.6 L421.5,336.0 L422.5,335.3 L423.5,334.2 L424.5,333.5 L425.5,333.0 L426.5,332.2 L427.5,331.9 L428.5,331.2 L429.5,330.5 L430.5,329.7 L431.5,329.3 L432.5,328.4 L433.5,327.5 L434.5,326.9 L435.5,325.9 L436.5,325.5 L437.5,324.6 L438.5,324.1 L439.5,323.1 L440.5,322.4 L441.5,321.0 L442.5,320.4 L443.5,319.5 L444.5,318.9 L445.5,318.1 L446.5,317.4 L447.5,316.7 L448.5,315.8 L449.5,314.6 L450.5,314.0 L451.5,313.2 L452.5,312.1 L453.5,311.6 L454.5,311.0 L455.5,310.2 L456.5,309.4 L457.5,308.8 L458.5,308.0 L459.5,307.1 L460.5,306.0 L461.5,305.0 L462.5,303.9 L463.5,302.8 L464.5,301.6 L465.5,300.7 L466.5,299.5 L467.5,298.2 L468.5,296.4 L469.5,295.6 L470.5,294.1 L471.5,292.9 L472.5,291.4 L473.5,290.4 L474.5,288.2 L475.5,286.8 L476.5,285.7 L477.5,284.5 L478.5,283.1 L479.5,282.2 L480.5,280.9 L481.5,279.3 L482.5,278.4 L483.5,277.2 L484.5,276.0 L485.5,274.9 L486.5,273.8 L487.5,272.5 L488.5,271.6 L489.5,270.5 L490.5,269.5 L491.5,268.0 L492.5,267.0 L493.5,265.8 L494.5,264.5 L495.5,263.1 L496.5,262.2 L497.5,261.1 L498.5,259.6 L499.5,258.5 L500.5,257.6 L501.5,256.8 L502.5,255.4 L503.5,254.4 L504.5,253.1 L505.5,252.1 L506.5,250.9 L507.5,249.7 L508.5,248.3 L509.5,247.0 L510.5,245.7 L511.5,244.2 L512.5,243.1 L513.5,242.2 L514.5,241.1 L515.5,240.0 L516.5,239.0 L517.5,237.6 L518.5,236.3 L519.5,235.4 L520.5,234.0 L521.5,232.6 L522.5,231.8 L523.5,230.7 L524.5,229.1 L525.5,228.1 L526.5,227.3 L527.5,226.5 L528.5,225.9 L529.5,225.3 L530.5,224.9 L531.5,224.0 L532.5,223.2 L533.5,222.2 L534.5,221.6 L535.5,220.9 L536.5,220.6 L537.5,219.7 L538.5,219.4 L539.5,218.7 L540.5,217.8 L541.5,217.0 L542.5,216.3 L543.5,215.5 L544.5,215.0 L545.5,214.4 L546.5,213.8 L547.5,213.1 L548.5,212.2 L549.5,211.0 L550.5,209.9 L551.5,208.6 L552.5,207.5 L553.5,206.3 L554.5,205.4 L555.5,204.1 L556.5,202.9 L557.5,202.0 L558.5,201.1 L559.5,200.1 L560.5,199.6 L561.5,199.0 L562.5,198.2 L563.5,197.2 L564.5,196.2 L565.5,195.1 L566.5,194.0 L567.5,193.3 L568.5,192.7 L569.5,192.3 L570.5,191.9 L571.5,191.5 L572.5,191.0 L573.5,190.5 L574.5,190.0 L575.5,189.5 L576.5,188.7 L577.5,188.1 L578.5,187.6 L579.5,186.9 L580.5,186.4 L581.5,186.3 L582.5,185.5 L583.5,184.9 L584.5,184.4 L585.5,183.7 L586.5,182.7" stroke="#3c3c3c" stroke-width="0.52"/>
<path d="M27.5,179.8 L28.5,179.0 L29.5,178.5 L30.5,177.9 L31.5,177.0 L32.5,176.2 L33.5,175.4 L34.5,174.3 L35.5,173.3 L36.5,172.8 L37.5,172.2 L38.5,171.4 L39.5,171.1 L40.5,170.8 L41.5,170.2 L42.5,169.4 L43.5,169.0 L44.5,168.0 L45.5,167.1 L46.5,166.4 L47.5,165.7 L48.5,165.5 L49.5,165.2 L50.5,164.5 L51.5,164.1 L52.5,163.2 L53.5,162.0 L54.5,161.2 L55.5,160.5 L56.5,159.8 L57.5,159.4 L58.5,159.2 L59.5,158.9 L60.5,158.6 L61.5,157.8 L62.5,157.4 L63.5,156.6 L64.5,155.6 L65.5,155.0 L66.5,154.5 L67.5,153.8 L68.5,153.3 L69.5,153.0 L70.5,152.2 L71.5,151.5 L72.5,150.6 L73.5,149.8 L74.5,148.8 L75.5,148.4 L76.5,147.8 L77.5,147.4 L78.5,146.6 L79.5,145.9 L80.5,145.3 L81.5,144.6 L82.5,144.0 L83.5,143.5 L84.5,143.2 L85.5,142.5 L86.5,142.0 L87.5,141.4 L88.5,140.5 L89.5,140.0 L90.5,139.1 L91.5,138.5 L92.5,137.7 L93.5,137.4 L94.5,137.0 L95.5,136.2 L96.5,135.7 L97.5,135.0 L98.5,134.6 L99.5,133.8 L100.5,133.6 L101.5,133.0 L102.5,132.7 L103.5,132.1 L104.5,131.6 L105.5,131.0 L106.5,130.3 L107.5,129.7 L108.5,129.1 L109.5,128.5 L110.5,128.1 L111.5,127.5 L112.5,126.6 L113.5,125.7 L114.5,125.2 L115.5,124.4 L116.5,124.2 L117.5,123.9 L118.5,123.7 L119.5,123.1 L120.5,122.4 L121.5,121.7 L122.5,121.5 L123.5,120.4 L124.5,119.9 L125.5,119.8 L126.5,119.5 L127.5,118.5 L128.5,118.3 L129.5,117.9 L130.5,117.3 L131.5,116.5 L132.5,116.2 L133.5,115.7 L134.5,115.2 L135.5,114.6 L136.5,114.1 L137.5,113.2 L138.5,112.7 L139.5,112.2 L140.5,111.6 L141.5,111.1 L142.5,111.2 L143.5,110.4 L144.5,109.8 L145.5,109.1 L146.5,108.5 L147.5,107.7 L148.5,107.6 L149.5,106.8 L150.5,106.3 L151.5,105.5 L152.5,105.1 L153.5,104.3 L154.5,104.0 L155.5,103.4 L156.5,103.1 L157.5,102.7 L158.5,102.3 L159.5,101.9 L160.5,101.7 L161.5,101.2 L162.5,100.4 L163.5,100.2 L164.5,99.8 L165.5,99.5 L166.5,98.9 L167.5,98.6 L168.5,97.8 L169.5,97.4 L170.5,97.1 L171.5,97.1 L172.5,97.1 L173.5,97.1 L174.5,97.1 L175.5,96.6 L176.5,96.3 L177.5,96.0 L178.5,95.4 L179.5,95.0 L180.5,95.1 L181.5,94.8 L182.5,94.6 L183.5,94.7 L184.5,94.6 L185.5,94.5 L186.5,94.4 L187.5,94.3 L188.5,93.9 L189.5,93.9 L190.5,93.4 L191.5,93.2 L192.5,93.5 L193.5,94.1 L194.5,93.9 L195.5,94.3 L196.5,94.6 L197.5,94.4 L198.5,94.4 L199.5,94.4 L200.5,94.1 L201.5,93.8 L202.5,93.8 L203.5,93.8 L204.5,93.9 L205.5,93.9 L206.5,93.9 L207.5,94.1 L208.5,94.0 L209.5,94.4 L210.5,94.6 L211.5,94.6 L212.5,94.7 L213.5,94.9 L214.5,94.8 L215.5,95.2 L216.5,95.9 L217.5,96.2 L218.5,96.4 L219.5,97.1 L220.5,97.2 L221.5,97.1 L222.5,97.4 L223.5,97.7 L224.5,97.9 L225.5,98.3 L226.5,98.8 L227.5,99.5 L228.5,99.9 L229.5,100.0 L230.5,100.4 L231.5,100.8 L232.5,101.2 L233.5,101.5 L234.5,102.1 L235.5,102.6 L236.5,102.8 L237.5,103.2 L238.5,103.8 L239.5,104.5 L240.5,105.1 L241.5,105.9 L242.5,106.4 L243.5,107.0 L244.5,107.8 L245.5,108.5 L246.5,109.4 L247.5,110.1 L248.5,111.1 L249.5,111.6 L250.5,112.5 L251.5,113.4 L252.5,114.6 L253.5,115.7 L254.5,117.1 L255.5,118.4 L256.5,119.6 L257.5,120.8 L258.5,122.1 L259.5,123.4 L260.5,124.5 L261.5,125.9 L262.5,127.1 L263.5,128.5 L264.5,130.2 L265.5,131.9 L266.5,133.4 L267.5,134.9 L268.5,136.6 L269.5,138.2 L270.5,140.2 L271.5,142.2 L272.5,144.5 L273.5,146.8 L274.5,148.9 L275.5,151.1 L276.5,153.9 L277.5,156.8 L278.5,159.5 L279.5,162.4 L280.5,165.1 L281.5,167.8 L282.5,170.5 L283.5,173.3 L284.5,176.2 L285.5,179.3 L286.5,182.2 L287.5,185.3 L288.5,188.6 L289.5,191.8 L290.5,194.7 L291.5,197.7 L292.5,200.6 L293.5,203.5 L294.5,206.7 L295.5,210.2 L296.5,213.4 L297.5,216.9 L298.5,220.1 L299.5,222.9 L300.5,225.8 L301.5,228.8 L302.5,232.0 L303.5,234.9 L304.5,238.2 L305.5,241.5 L306.5,244.5 L307.5,247.0 L308.5,249.9 L309.5,252.4 L310.5,254.9 L311.5,257.6 L312.5,260.3 L313.5,263.1 L314.5,265.6 L315.5,268.0 L316.5,270.3 L317.5,272.4 L318.5,274.2 L319.5,276.3 L320.5,278.4 L321.5,280.2 L322.5,282.5 L323.5,284.4 L324.5,286.2 L325.5,288.1 L326.5,289.8 L327.5,291.2 L328.5,293.0 L329.5,294.9 L330.5,296.7 L331.5,298.8 L332.5,300.9 L333.5,303.1 L334.5,305.2 L335.5,307.0 L336.5,308.6 L337.5,310.3 L338.5,311.8 L339.5,313.3 L340.5,315.1 L341.5,317.0 L342.5,318.5 L343.5,320.3 L344.5,322.1 L345.5,323.1 L346.5,324.4 L347.5,325.4 L348.5,326.6 L349.5,327.5 L350.5,329.1 L351.5,330.3 L352.5,331.4 L353.5,332.4 L354.5,333.4 L355.5,334.2 L356.5,335.2 L357.5,336.4 L358.5,337.2 L359.5,338.5 L360.5,339.7 L361.5,340.8 L362.5,342.0 L363.5,343.2 L364.5,344.3 L365.5,344.9 L366.5,345.6 L367.5,346.1 L368.5,346.9 L369.5,347.3 L370.5,347.9 L371.5,348.1 L372.5,348.2 L373.5,348.5 L374.5,348.9 L375.5,349.0 L376.5,349.3 L377.5,349.8 L378.5,350.2 L379.5,350.6 L380.5,351.2 L381.5,351.3 L382.5,351.5 L383.5,351.5 L384.5,351.5 L385.5,351.6 L386.5,352.0 L387.5,352.5 L388.5,352.7 L389.5,352.8 L390.5,352.7 L391.5,353.2 L392.5,353.0 L393.5,353.0 L394.5,353.4 L395.5,353.5 L396.5,353.2 L397.5,353.3 L398.5,353.1 L399.5,352.6 L400.5,352.8 L401.5,352.5 L402.5,352.2 L403.5,351.9 L404.5,351.4 L405.5,350.7 L406.5,350.5 L407.5,350.1 L408.5,349.5 L409.5,349.2 L410.5,348.7 L411.5,347.6 L412.5,347.5 L413.5,347.1 L414.5,346.6 L415.5,346.2 L416.5,345.9 L417.5,345.1 L418.5,344.8 L419.5,344.6 L420.5,344.2 L421.5,343.9 L422.5,343.2 L423.5,342.5 L424.5,341.3 L425.5,340.7 L426.5,339.9 L427.5,339.6 L428.5,338.9 L429.5,338.4 L430.5,337.4 L431.5,337.0 L432.5,336.1 L433.5,335.3 L434.5,334.8 L435.5,334.3 L436.5,333.7 L437.5,333.5 L438.5,333.2 L439.5,332.8 L440.5,332.4 L441.5,332.1 L442.5,331.1 L443.5,330.7 L444.5,330.0 L445.5,329.3 L446.5,328.7 L447.5,328.3 L448.5,327.9 L449.5,327.6 L450.5,326.9 L451.5,326.4 L452.5,326.2 L453.5,325.7 L454.5,325.1 L455.5,324.8 L456.5,323.8 L457.5,322.5 L458.5,321.5 L459.5,320.2 L460.5,318.8 L461.5,317.7 L462.5,316.7 L463.5,315.1 L464.5,313.8 L465.5,313.1 L466.5,312.3 L467.5,311.1 L468.5,310.6 L469.5,309.4 L470.5,307.9 L471.5,306.1 L472.5,305.2 L473.5,303.7 L474.5,303.0 L475.5,302.0 L476.5,301.2 L477.5,299.3 L478.5,298.1 L479.5,295.9 L480.5,294.1 L481.5,291.9 L482.5,290.7 L483.5,289.1 L484.5,287.6 L485.5,286.3 L486.5,285.3 L487.5,284.0 L488.5,282.5 L489.5,281.6 L490.5,280.1 L491.5,278.5 L492.5,276.8 L493.5,274.8 L494.5,272.8 L495.5,271.5 L496.5,270.0 L497.5,268.5 L498.5,267.6 L499.5,266.2 L500.5,264.8 L501.5,263.7 L502.5,262.9 L503.5,261.7 L504.5,261.2 L505.5,260.5 L506.5,259.3 L507.5,258.3 L508.5,257.1 L509.5,255.6 L510.5,254.4 L511.5,253.4 L512.5,252.3 L513.5,251.3 L514.5,250.5 L515.5,249.4 L516.5,248.6 L517.5,247.4 L518.5,246.1 L519.5,245.2 L520.5,244.0 L521.5,242.7 L522.5,241.6 L523.5,241.0 L524.5,239.7 L525.5,238.4 L526.5,236.8 L527.5,235.4 L528.5,233.6 L529.5,232.3 L530.5,231.1 L531.5,230.1 L532.5,229.4 L533.5,228.4 L534.5,227.3 L535.5,226.3 L536.5,225.3 L537.5,224.1 L538.5,223.4 L539.5,222.4 L540.5,221.7 L541.5,220.8 L542.5,219.8 L543.5,218.5 L544.5,217.3 L545.5,215.9 L546.5,214.9 L547.5,213.9 L548.5,213.3 L549.5,212.3 L550.5,211.4 L551.5,210.4 L552.5,209.8 L553.5,208.9 L554.5,208.4 L555.5,207.6 L556.5,207.3 L557.5,206.3 L558.5,205.8 L559.5,204.9 L560.5,204.6 L561.5,203.9 L562.5,203.4 L563.5,202.9 L564.5,202.6 L565.5,201.7 L566.5,201.1 L567.5,200.4 L568.5,199.5 L569.5,198.9 L570.5,198.1 L571.5,197.4 L572.5,196.7 L573.5,196.1 L574.5,195.6 L575.5,194.8 L576.5,194.0 L577.5,193.4 L578.5,192.7 L579.5,191.5 L580.5,191.3 L581.5,190.8 L582.5,189.7 L583.5,189.3 L584.5,188.8 L585.5,187.7 L586.5,187.0" stroke="#3c3c3c" stroke-width="0.52"/>
<path d="M27.5,192.2 L28.5,191.3 L29.5,190.4 L30.5,189.4 L31.5,188.7 L32.5,188.5 L33.5,187.7 L34.5,187.0 L35.5,186.0 L36.5,185.2 L37.5,183.4 L38.5,182.3 L39.5,181.4 L40.5,180.5 L41.5,179.6 L42.5,179.1 L43.5,178.2 L44.5,177.2 L45.5,176.3 L46.5,175.0 L47.5,174.0 L48.5,173.4 L49.5,172.7 L50.5,172.1 L51.5,171.4 L52.5,170.6 L53.5,169.5 L54.5,168.7 L55.5,168.1 L56.5,167.6 L57.5,166.7 L58.5,166.2 L59.5,165.7 L60.5,165.0 L61.5,163.9 L62.5,163.2 L63.5,162.6 L64.5,161.9 L65.5,160.8 L66.5,160.4 L67.5,159.8 L68.5,159.4 L69.5,158.5 L70.5,157.9 L71.5,157.1 L72.5,156.5 L73.5,155.6 L74.5,154.6 L75.5,153.9 L76.5,153.0 L77.5,152.0 L78.5,151.0 L79.5,150.3 L80.5,149.4 L81.5,148.8 L82.5,148.3 L83.5,148.0 L84.5,147.5 L85.5,146.8 L86.5,146.4 L87.5,145.4 L88.5,144.4 L89.5,143.9 L90.5,143.6 L91.5,143.1 L92.5,142.8 L93.5,142.3 L94.5,141.6 L95.5,141.0 L96.5,140.2 L97.5,139.6 L98.5,139.1 L99.5,138.4 L100.5,138.0 L101.5,137.6 L102.5,137.0 L103.5,136.5 L104.5,136.1 L105.5,135.5 L106.5,134.7 L107.5,134.3 L108.5,133.6 L109.5,132.9 L110.5,132.4 L111.5,132.2 L112.5,131.5 L113.5,131.1 L114.5,130.9 L115.5,130.2 L116.5,129.5 L117.5,129.2 L118.5,128.8 L119.5,128.3 L120.5,127.9 L121.5,127.4 L122.5,126.7 L123.5,126.1 L124.5,125.2 L125.5,124.3 L126.5,124.0 L127.5,123.2 L128.5,122.8 L129.5,122.5 L130.5,122.0 L131.5,121.3 L132.5,121.0 L133.5,120.4 L134.5,119.7 L135.5,119.1 L136.5,118.3 L137.5,117.9 L138.5,117.3 L139.5,116.6 L140.5,115.9 L141.5,115.3 L142.5,114.4 L143.5,113.7 L144.5,113.6 L145.5,112.8 L146.5,112.5 L147.5,112.0 L148.5,111.3 L149.5,110.4 L150.5,110.0 L151.5,109.3 L152.5,108.9 L153.5,108.2 L154.5,107.8 L155.5,107.3 L156.5,107.0 L157.5,106.4 L158.5,106.3 L159.5,105.7 L160.5,105.4 L161.5,104.7 L162.5,104.1 L163.5,103.5 L164.5,103.2 L165.5,102.9 L166.5,102.2 L167.5,102.0 L168.5,101.7 L169.5,101.1 L170.5,100.4 L171.5,100.7 L172.5,100.6 L173.5,99.9 L174.5,100.0 L175.5,99.9 L176.5,99.4 L177.5,98.9 L178.5,98.8 L179.5,98.2 L180.5,97.7 L181.5,97.5 L182.5,97.3 L183.5,97.4 L184.5,97.4 L185.5,97.0 L186.5,96.8 L187.5,96.8 L188.5,96.6 L189.5,96.7 L190.5,96.9 L191.5,97.2 L192.5,97.0 L193.5,97.1 L194.5,97.0 L195.5,97.0 L196.5,97.0 L197.5,96.7 L198.5,96.4 L199.5,96.6 L200.5,96.7 L201.5,96.6 L202.5,97.0 L203.5,97.0 L204.5,97.3 L205.5,97.3 L206.5,97.2 L207.5,97.0 L208.5,97.0 L209.5,96.8 L210.5,97.0 L211.5,97.2 L212.5,97.4 L213.5,97.7 L214.5,97.6 L215.5,97.6 L216.5,97.8 L217.5,98.0 L218.5,98.1 L219.5,98.6 L220.5,98.8 L221.5,99.3 L222.5,99.9 L223.5,100.3 L224.5,100.7 L225.5,101.3 L226.5,101.4 L227.5,101.8 L228.5,102.3 L229.5,102.6 L230.5,102.9 L231.5,103.2 L232.5,102.9 L233.5,102.8 L234.5,103.3 L235.5,103.9 L236.5,104.4 L237.5,105.7 L238.5,106.7 L239.5,107.2 L240.5,107.9 L241.5,109.0 L242.5,109.5 L243.5,109.8 L244.5,110.8 L245.5,111.3 L246.5,111.7 L247.5,112.4 L248.5,113.3 L249.5,114.1 L250.5,115.1 L251.5,116.4 L252.5,117.5 L253.5,118.5 L254.5,119.4 L255.5,120.5 L256.5,121.4 L257.5,123.0 L258.5,124.3 L259.5,125.4 L260.5,126.8 L261.5,128.3 L262.5,129.2 L263.5,130.7 L264.5,132.3 L265.5,133.8 L266.5,135.5 L267.5,137.1 L268.5,138.9 L269.5,140.8 L270.5,142.7 L271.5,144.1 L272.5,146.1 L273.5,148.1 L274.5,150.2 L275.5,152.5 L276.5,155.7 L277.5,158.7 L278.5,161.7 L279.5,164.7 L280.5,168.0 L281.5,170.8 L282.5,173.7 L283.5,177.0 L284.5,180.2 L285.5,182.8 L286.5,186.1 L287.5,189.2 L288.5,192.1 L289.5,195.4 L290.5,199.0 L291.5,202.1 L292.5,205.5 L293.5,208.7 L294.5,211.7 L295.5,214.8 L296.5,217.9 L297.5,220.7 L298.5,223.6 L299.5,226.6 L300.5,229.4 L301.5,232.1 L302.5,235.3 L303.5,238.2 L304.5,241.1 L305.5,244.2 L306.5,247.2 L307.5,249.9 L308.5,252.6 L309.5,255.2 L310.5,258.0 L311.5,260.5 L312.5,263.3 L313.5,265.5 L314.5,267.9 L315.5,270.3 L316.5,272.7 L317.5,274.7 L318.5,277.2 L319.5,279.3 L320.5,281.2 L321.5,282.9 L322.5,284.9 L323.5,286.7 L324.5,288.8 L325.5,290.9 L326.5,293.0 L327.5,295.2 L328.5,297.1 L329.5,298.6 L330.5,299.9 L331.5,302.1 L332.5,303.7 L333.5,305.5 L334.5,307.4 L335.5,309.3 L336.5,311.0 L337.5,312.6 L338.5,314.6 L339.5,316.3 L340.5,317.7 L341.5,319.2 L342.5,320.7 L343.5,321.8 L344.5,323.6 L345.5,325.3 L346.5,326.6 L347.5,328.0 L348.5,329.2 L349.5,330.2 L350.5,331.4 L351.5,332.6 L352.5,333.9 L353.5,335.1 L354.5,336.1 L355.5,337.3 L356.5,337.9 L357.5,338.7 L358.5,339.4 L359.5,340.0 L360.5,340.5 L361.5,341.1 L362.5,341.7 L363.5,342.1 L364.5,342.5 L365.5,343.1 L366.5,343.7 L367.5,344.0 L368.5,344.7 L369.5,345.5 L370.5,346.2 L371.5,346.4 L372.5,347.0 L373.5,347.5 L374.5,347.5 L375.5,347.9 L376.5,348.4 L377.5,348.5 L378.5,348.3 L379.5,348.2 L380.5,348.0 L381.5,347.9 L382.5,347.9 L383.5,348.0 L384.5,348.1 L385.5,348.1 L386.5,348.2 L387.5,347.9 L388.5,347.7 L389.5,347.8 L390.5,347.9 L391.5,348.0 L392.5,348.5 L393.5,348.7 L394.5,349.2 L395.5,349.5 L396.5,349.6 L397.5,349.9 L398.5,350.3 L399.5,350.9 L400.5,351.2 L401.5,351.7 L402.5,352.0 L403.5,352.1 L404.5,351.5 L405.5,351.4 L406.5,350.9 L407.5,350.3 L408.5,349.9 L409.5,349.2 L410.5,348.6 L411.5,348.0 L412.5,347.4 L413.5,346.5 L414.5,346.1 L415.5,345.3 L416.5,344.4 L417.5,344.0 L418.5,343.6 L419.5,342.9 L420.5,342.2 L421.5,341.9 L422.5,341.1 L423.5,340.5 L424.5,340.1 L425.5,339.7 L426.5,338.8 L427.5,338.0 L428.5,337.1 L429.5,336.3 L430.5,335.7 L431.5,335.4 L432.5,334.7 L433.5,334.2 L434.5,333.7 L435.5,332.8 L436.5,332.1 L437.5,331.8 L438.5,330.9 L439.5,330.3 L440.5,329.7 L441.5,329.2 L442.5,328.4 L443.5,328.0 L444.5,327.3 L445.5,327.0 L446.5,326.7 L447.5,326.9 L448.5,327.4 L449.5,327.9 L450.5,328.0 L451.5,328.2 L452.5,328.7 L453.5,328.7 L454.5,328.9 L455.5,329.5 L456.5,329.6 L457.5,329.2 L458.5,328.8 L459.5,327.6 L460.5,326.0 L461.5,324.5 L462.5,323.0 L463.5,321.2 L464.5,319.6 L465.5,318.1 L466.5,316.4 L467.5,315.2 L468.5,313.7 L469.5,312.5 L470.5,311.5 L471.5,310.3 L472.5,309.0 L473.5,308.4 L474.5,307.1 L475.5,305.9 L476.5,304.7 L477.5,303.4 L478.5,301.9 L479.5,300.7 L480.5,299.4 L481.5,298.3 L482.5,297.0 L483.5,295.6 L484.5,294.0 L485.5,292.4 L486.5,291.0 L487.5,289.1 L488.5,287.8 L489.5,286.6 L490.5,285.2 L491.5,283.5 L492.5,282.3 L493.5,280.7 L494.5,279.3 L495.5,277.9 L496.5,276.4 L497.5,275.3 L498.5,273.8 L499.5,272.2 L500.5,270.9 L501.5,269.9 L502.5,268.5 L503.5,267.4 L504.5,266.6 L505.5,265.5 L506.5,264.8 L507.5,263.6 L508.5,262.9 L509.5,261.6 L510.5,260.8 L511.5,259.2 L512.5,258.1 L513.5,256.8 L514.5,255.6 L515.5,254.3 L516.5,253.2 L517.5,251.7 L518.5,250.4 L519.5,249.4 L520.5,248.2 L521.5,247.2 L522.5,246.4 L523.5,245.2 L524.5,244.2 L525.5,243.4 L526.5,242.3 L527.5,241.1 L528.5,240.4 L529.5,239.7 L530.5,238.9 L531.5,237.9 L532.5,237.4 L533.5,236.7 L534.5,235.6 L535.5,234.7 L536.5,234.1 L537.5,232.9 L538.5,231.9 L539.5,231.2 L540.5,230.4 L541.5,229.5 L542.5,228.7 L543.5,227.9 L544.5,226.9 L545.5,226.7 L546.5,226.3 L547.5,226.0 L548.5,225.5 L549.5,225.2 L550.5,224.4 L551.5,223.6 L552.5,222.9 L553.5,222.0 L554.5,221.2 L555.5,220.2 L556.5,219.2 L557.5,218.1 L558.5,217.7 L559.5,217.1 L560.5,216.3 L561.5,216.1 L562.5,215.8 L563.5,215.0 L564.5,214.0 L565.5,213.5 L566.5,212.6 L567.5,211.6 L568.5,210.6 L569.5,209.9 L570.5,208.7 L571.5,207.6 L572.5,206.9 L573.5,206.2 L574.5,205.3 L575.5,204.8 L576.5,204.0 L577.5,202.9 L578.5,201.9 L579.5,200.9 L580.5,200.0 L581.5,199.2 L582.5,198.6 L583.5,197.9 L584.5,197.0 L585.5,196.1 L586.5,195.1" stroke="#3c3c3c" stroke-width="0.52"/>
<path d="M27.5,164.5 L28.5,163.7 L29.5,163.0 L30.5,162.2 L31.5,161.4 L32.5,160.7 L33.5,159.9 L34.5,159.1 L35.5,158.4 L36.5,157.6 L37.5,156.9 L38.5,156.2 L39.5,155.4 L40.5,154.7 L41.5,154.0 L42.5,153.2 L43.5,152.5 L44.5,151.8 L45.5,151.1 L46.5,150.4 L47.5,149.6 L48.5,148.9 L49.5,148.2 L50.5,147.6 L51.5,146.9 L52.5,146.2 L53.5,145.5 L54.5,144.8 L55.5,144.2 L56.5,143.5 L57.5,142.8 L58.5,142.2 L59.5,141.5 L60.5,140.8 L61.5,140.2 L62.5,139.5 L63.5,138.8 L64.5,138.2 L65.5,137.5 L66.5,136.8 L67.5,136.2 L68.5,135.5 L69.5,134.8 L70.5,134.1 L71.5,133.4 L72.5,132.7 L73.5,132.0 L74.5,131.3 L75.5,130.6 L76.5,129.9 L77.5,129.2 L78.5,128.5 L79.5,127.9 L80.5,127.2 L81.5,126.5 L82.5,125.9 L83.5,125.2 L84.5,124.6 L85.5,123.9 L86.5,123.3 L87.5,122.7 L88.5,122.1 L89.5,121.5 L90.5,120.9 L91.5,120.4 L92.5,119.8 L93.5,119.3 L94.5,118.7 L95.5,118.2 L96.5,117.6 L97.5,117.1 L98.5,116.6 L99.5,116.0 L100.5,115.5 L101.5,115.0 L102.5,114.4 L103.5,113.9 L104.5,113.4 L105.5,112.8 L106.5,112.3 L107.5,111.7 L108.5,111.2 L109.5,110.6 L110.5,110.1 L111.5,109.5 L112.5,108.9 L113.5,108.4 L114.5,107.8 L115.5,107.3 L116.5,106.7 L117.5,106.2 L118.5,105.6 L119.5,105.0 L120.5,104.5 L121.5,103.9 L122.5,103.4 L123.5,102.9 L124.5,102.3 L125.5,101.8 L126.5,101.3 L127.5,100.7 L128.5,100.2 L129.5,99.7 L130.5,99.2 L131.5,98.7 L132.5,98.2 L133.5,97.7 L134.5,97.2 L135.5,96.7 L136.5,96.2 L137.5,95.7 L138.5,95.2 L139.5,94.7 L140.5,94.2 L141.5,93.7 L142.5,93.2 L143.5,92.7 L144.5,92.2 L145.5,91.7 L146.5,91.2 L147.5,90.7 L148.5,90.2 L149.5,89.7 L150.5,89.2 L151.5,88.7 L152.5,88.2 L153.5,87.7 L154.5,87.2 L155.5,86.7 L156.5,86.2 L157.5,85.8 L158.5,85.3 L159.5,84.9 L160.5,84.5 L161.5,84.1 L162.5,83.7 L163.5,83.3 L164.5,82.9 L165.5,82.5 L166.5,82.2 L167.5,81.8 L168.5,81.5 L169.5,81.2 L170.5,80.8 L171.5,80.5 L172.5,80.2 L173.5,79.9 L174.5,79.6 L175.5,79.4 L176.5,79.1 L177.5,78.9 L178.5,78.6 L179.5,78.4 L180.5,78.2 L181.5,77.9 L182.5,77.7 L183.5,77.5 L184.5,77.3 L185.5,77.2 L186.5,77.1 L187.5,77.0 L188.5,76.9 L189.5,76.8 L190.5,76.7 L191.5,76.6 L192.5,76.6 L193.5,76.5 L194.5,76.5 L195.5,76.4 L196.5,76.4 L197.5,76.4 L198.5,76.4 L199.5,76.5 L200.5,76.5 L201.5,76.6 L202.5,76.6 L203.5,76.7 L204.5,76.8 L205.5,76.9 L206.5,77.0 L207.5,77.0 L208.5,77.1 L209.5,77.3 L210.5,77.4 L211.5,77.5 L212.5,77.7 L213.5,77.8 L214.5,78.0 L215.5,78.1 L216.5,78.3 L217.5,78.5 L218.5,78.7 L219.5,78.9 L220.5,79.1 L221.5,79.4 L222.5,79.6 L223.5,79.9 L224.5,80.2 L225.5,80.5 L226.5,80.8 L227.5,81.2 L228.5,81.6 L229.5,82.0 L230.5,82.5 L231.5,82.9 L232.5,83.5 L233.5,84.0 L234.5,84.6 L235.5,85.1 L236.5,85.7 L237.5,86.3 L238.5,86.9 L239.5,87.5 L240.5,88.2 L241.5,88.9 L242.5,89.6 L243.5,90.3 L244.5,91.0 L245.5,91.8 L246.5,92.6 L247.5,93.4 L248.5,94.3 L249.5,95.2 L250.5,96.1 L251.5,97.1 L252.5,98.1 L253.5,99.1 L254.5,100.2 L255.5,101.3 L256.5,102.4 L257.5,103.6 L258.5,104.8 L259.5,106.1 L260.5,107.4 L261.5,108.8 L262.5,110.2 L263.5,111.6 L264.5,113.1 L265.5,114.6 L266.5,116.2 L267.5,117.8 L268.5,119.5 L269.5,121.3 L270.5,123.1 L271.5,125.0 L272.5,127.0 L273.5,129.0 L274.5,131.2 L275.5,133.5 L276.5,135.8 L277.5,138.2 L278.5,140.7 L279.5,143.3 L280.5,146.0 L281.5,148.6 L282.5,151.4 L283.5,154.0 L284.5,156.7 L285.5,159.4 L286.5,162.2 L287.5,165.2 L288.5,168.3 L289.5,171.8 L290.5,175.7 L291.5,179.9 L292.5,184.1 L293.5,188.0 L294.5,191.7 L295.5,195.3 L296.5,198.8 L297.5,202.0 L298.5,205.0 L299.5,207.9 L300.5,210.6 L301.5,213.2 L302.5,215.9 L303.5,218.6 L304.5,221.4 L305.5,224.3 L306.5,227.2 L307.5,230.0 L308.5,232.9 L309.5,235.8 L310.5,238.6 L311.5,241.4 L312.5,244.1 L313.5,246.8 L314.5,249.5 L315.5,252.2 L316.5,254.8 L317.5,257.4 L318.5,260.0 L319.5,262.6 L320.5,265.2 L321.5,267.7 L322.5,270.0 L323.5,272.2 L324.5,274.3 L325.5,276.4 L326.5,278.3 L327.5,280.2 L328.5,282.0 L329.5,283.7 L330.5,285.2 L331.5,286.7 L332.5,288.2 L333.5,289.7 L334.5,291.2 L335.5,292.8 L336.5,294.5 L337.5,296.2 L338.5,298.0 L339.5,299.6 L340.5,301.2 L341.5,302.7 L342.5,304.2 L343.5,305.6 L344.5,307.0 L345.5,308.2 L346.5,309.4 L347.5,310.5 L348.5,311.6 L349.5,312.6 L350.5,313.6 L351.5,314.5 L352.5,315.4 L353.5,316.3 L354.5,317.1 L355.5,317.9 L356.5,318.6 L357.5,319.4 L358.5,320.1 L359.5,320.8 L360.5,321.5 L361.5,322.1 L362.5,322.7 L363.5,323.3 L364.5,323.9 L365.5,324.4 L366.5,324.8 L367.5,325.2 L368.5,325.6 L369.5,326.0 L370.5,326.4 L371.5,326.7 L372.5,327.0 L373.5,327.3 L374.5,327.5 L375.5,327.7 L376.5,327.8 L377.5,327.8 L378.5,327.8 L379.5,327.8 L380.5,327.8 L381.5,327.8 L382.5,327.8 L383.5,327.8 L384.5,327.8 L385.5,327.8 L386.5,327.8 L387.5,327.8 L388.5,327.7 L389.5,327.6 L390.5,327.4 L391.5,327.2 L392.5,327.0 L393.5,326.7 L394.5,326.5 L395.5,326.2 L396.5,325.9 L397.5,325.7 L398.5,325.4 L399.5,325.1 L400.5,324.8 L401.5,324.5 L402.5,324.1 L403.5,323.8 L404.5,323.4 L405.5,323.0 L406.5,322.7 L407.5,322.3 L408.5,322.0 L409.5,321.6 L410.5,321.2 L411.5,320.8 L412.5,320.4 L413.5,320.0 L414.5,319.6 L415.5,319.2 L416.5,318.7 L417.5,318.3 L418.5,317.8 L419.5,317.3 L420.5,316.8 L421.5,316.3 L422.5,315.8 L423.5,315.3 L424.5,314.8 L425.5,314.3 L426.5,313.8 L427.5,313.3 L428.5,312.8 L429.5,312.3 L430.5,311.8 L431.5,311.3 L432.5,310.8 L433.5,310.3 L434.5,309.8 L435.5,309.3 L436.5,308.8 L437.5,308.2 L438.5,307.6 L439.5,307.0 L440.5,306.4 L441.5,305.8 L442.5,305.1 L443.5,304.5 L444.5,303.8 L445.5,303.1 L446.5,302.4 L447.5,301.6 L448.5,300.9 L449.5,300.1 L450.5,299.3 L451.5,298.4 L452.5,297.6 L453.5,296.7 L454.5,295.8 L455.5,294.9 L456.5,294.0 L457.5,293.0 L458.5,292.0 L459.5,291.0 L460.5,290.0 L461.5,289.0 L462.5,287.9 L463.5,286.8 L464.5,285.7 L465.5,284.6 L466.5,283.5 L467.5,282.5 L468.5,281.4 L469.5,280.3 L470.5,279.2 L471.5,278.1 L472.5,277.0 L473.5,275.9 L474.5,274.8 L475.5,273.7 L476.5,272.6 L477.5,271.4 L478.5,270.3 L479.5,269.2 L480.5,268.1 L481.5,267.0 L482.5,265.8 L483.5,264.7 L484.5,263.5 L485.5,262.3 L486.5,261.1 L487.5,259.9 L488.5,258.6 L489.5,257.2 L490.5,255.9 L491.5,254.5 L492.5,253.1 L493.5,251.7 L494.5,250.3 L495.5,249.0 L496.5,247.6 L497.5,246.4 L498.5,245.1 L499.5,243.8 L500.5,242.6 L501.5,241.4 L502.5,240.2 L503.5,239.0 L504.5,237.8 L505.5,236.7 L506.5,235.5 L507.5,234.5 L508.5,233.4 L509.5,232.4 L510.5,231.4 L511.5,230.4 L512.5,229.4 L513.5,228.4 L514.5,227.5 L515.5,226.5 L516.5,225.5 L517.5,224.5 L518.5,223.5 L519.5,222.5 L520.5,221.5 L521.5,220.4 L522.5,219.4 L523.5,218.4 L524.5,217.4 L525.5,216.4 L526.5,215.5 L527.5,214.5 L528.5,213.6 L529.5,212.7 L530.5,211.7 L531.5,210.8 L532.5,209.9 L533.5,209.0 L534.5,208.2 L535.5,207.3 L536.5,206.4 L537.5,205.6 L538.5,204.7 L539.5,203.9 L540.5,203.1 L541.5,202.3 L542.5,201.5 L543.5,200.8 L544.5,200.0 L545.5,199.2 L546.5,198.4 L547.5,197.6 L548.5,196.8 L549.5,196.0 L550.5,195.2 L551.5,194.3 L552.5,193.5 L553.5,192.7 L554.5,191.9 L555.5,191.1 L556.5,190.4 L557.5,189.6 L558.5,188.9 L559.5,188.2 L560.5,187.5 L561.5,186.8 L562.5,186.1 L563.5,185.5 L564.5,184.8 L565.5,184.1 L566.5,183.4 L567.5,182.6 L568.5,181.9 L569.5,181.0 L570.5,180.2 L571.5,179.4 L572.5,178.6 L573.5,177.8 L574.5,177.1 L575.5,176.3 L576.5,175.7 L577.5,175.0 L578.5,174.4 L579.5,173.8 L580.5,173.2 L581.5,172.6 L582.5,172.0 L583.5,171.5 L584.5,171.0 L585.5,170.5 L586.5,170.0" stroke="#000" stroke-width="1.75" stroke-dasharray="3.5 3.4" stroke-linecap="butt"/>
<path d="M27.5,174.5 L28.5,173.9 L29.5,173.0 L30.5,172.2 L31.5,171.4 L32.5,170.7 L33.5,169.8 L34.5,169.4 L35.5,168.9 L36.5,168.2 L37.5,167.6 L38.5,167.0 L39.5,166.3 L40.5,165.6 L41.5,165.1 L42.5,164.5 L43.5,163.9 L44.5,163.7 L45.5,163.0 L46.5,162.3 L47.5,161.6 L48.5,161.1 L49.5,160.2 L50.5,159.6 L51.5,159.1 L52.5,158.6 L53.5,158.0 L54.5,157.3 L55.5,156.6 L56.5,156.1 L57.5,155.5 L58.5,155.0 L59.5,154.5 L60.5,154.0 L61.5,153.5 L62.5,153.0 L63.5,152.3 L64.5,151.8 L65.5,151.2 L66.5,150.5 L67.5,149.7 L68.5,149.1 L69.5,148.3 L70.5,147.5 L71.5,147.0 L72.5,146.3 L73.5,145.6 L74.5,144.9 L75.5,144.4 L76.5,143.5 L77.5,142.8 L78.5,142.3 L79.5,141.6 L80.5,140.9 L81.5,140.4 L82.5,139.8 L83.5,139.2 L84.5,138.6 L85.5,138.0 L86.5,137.4 L87.5,136.8 L88.5,136.2 L89.5,135.6 L90.5,135.1 L91.5,134.8 L92.5,134.5 L93.5,134.1 L94.5,133.6 L95.5,133.2 L96.5,132.5 L97.5,131.8 L98.5,131.3 L99.5,130.8 L100.5,130.1 L101.5,129.6 L102.5,129.0 L103.5,128.2 L104.5,127.9 L105.5,127.4 L106.5,127.1 L107.5,127.0 L108.5,126.8 L109.5,126.6 L110.5,126.5 L111.5,126.2 L112.5,125.9 L113.5,125.9 L114.5,125.8 L115.5,125.5 L116.5,125.4 L117.5,125.3 L118.5,124.8 L119.5,124.2 L120.5,123.9 L121.5,123.3 L122.5,122.3 L123.5,121.4 L124.5,120.7 L125.5,119.6 L126.5,118.6 L127.5,117.8 L128.5,117.1 L129.5,115.8 L130.5,114.7 L131.5,113.6 L132.5,112.6 L133.5,111.5 L134.5,110.6 L135.5,110.0 L136.5,109.4 L137.5,108.6 L138.5,108.0 L139.5,107.6 L140.5,107.2 L141.5,106.7 L142.5,106.3 L143.5,105.9 L144.5,105.4 L145.5,104.7 L146.5,104.2 L147.5,103.6 L148.5,103.0 L149.5,102.5 L150.5,102.0 L151.5,101.5 L152.5,100.7 L153.5,100.2 L154.5,99.4 L155.5,98.7 L156.5,98.0 L157.5,97.7 L158.5,97.2 L159.5,96.6 L160.5,96.0 L161.5,95.6 L162.5,94.9 L163.5,94.5 L164.5,93.9 L165.5,93.4 L166.5,93.0 L167.5,92.6 L168.5,92.1 L169.5,92.0 L170.5,92.0 L171.5,91.6 L172.5,91.2 L173.5,90.8 L174.5,90.5 L175.5,90.1 L176.5,90.0 L177.5,90.0 L178.5,90.0 L179.5,90.0 L180.5,89.8 L181.5,89.7 L182.5,89.4 L183.5,89.2 L184.5,88.8 L185.5,88.7 L186.5,88.8 L187.5,88.9 L188.5,88.9 L189.5,88.9 L190.5,88.7 L191.5,88.6 L192.5,88.3 L193.5,88.2 L194.5,88.1 L195.5,88.2 L196.5,87.9 L197.5,88.0 L198.5,88.0 L199.5,88.0 L200.5,87.9 L201.5,88.3 L202.5,88.5 L203.5,88.7 L204.5,88.7 L205.5,88.8 L206.5,88.8 L207.5,88.6 L208.5,88.5 L209.5,88.6 L210.5,88.9 L211.5,89.1 L212.5,89.4 L213.5,89.6 L214.5,89.9 L215.5,89.9 L216.5,90.0 L217.5,90.0 L218.5,90.2 L219.5,90.4 L220.5,90.5 L221.5,90.7 L222.5,90.9 L223.5,91.0 L224.5,91.2 L225.5,91.2 L226.5,91.3 L227.5,91.5 L228.5,91.8 L229.5,92.0 L230.5,92.3 L231.5,92.6 L232.5,93.2 L233.5,93.4 L234.5,93.9 L235.5,94.5 L236.5,94.7 L237.5,95.0 L238.5,95.3 L239.5,95.7 L240.5,96.0 L241.5,96.5 L242.5,96.9 L243.5,97.5 L244.5,97.8 L245.5,98.1 L246.5,98.6 L247.5,99.0 L248.5,99.6 L249.5,100.4 L250.5,101.4 L251.5,102.4 L252.5,103.3 L253.5,104.1 L254.5,105.1 L255.5,105.8 L256.5,106.5 L257.5,107.2 L258.5,107.9 L259.5,108.3 L260.5,108.9 L261.5,109.1 L262.5,109.4 L263.5,109.8 L264.5,110.2 L265.5,110.7 L266.5,111.4 L267.5,112.3 L268.5,113.2 L269.5,114.5 L270.5,115.8 L271.5,117.4 L272.5,119.0 L273.5,121.0 L274.5,123.2 L275.5,125.5 L276.5,128.0 L277.5,130.4 L278.5,132.5 L279.5,134.9 L280.5,137.1 L281.5,139.3 L282.5,141.4 L283.5,143.3 L284.5,145.1 L285.5,146.9 L286.5,148.7 L287.5,150.9 L288.5,153.0 L289.5,155.1 L290.5,157.7 L291.5,160.1 L292.5,162.5 L293.5,165.0 L294.5,167.6 L295.5,170.4 L296.5,173.2 L297.5,176.4 L298.5,180.1 L299.5,183.6 L300.5,186.9 L301.5,189.8 L302.5,192.4 L303.5,194.7 L304.5,196.8 L305.5,199.3 L306.5,202.9 L307.5,206.4 L308.5,210.1 L309.5,214.2 L310.5,218.3 L311.5,221.5 L312.5,224.7 L313.5,227.9 L314.5,230.7 L315.5,233.3 L316.5,236.0 L317.5,238.7 L318.5,241.2 L319.5,244.0 L320.5,246.8 L321.5,249.3 L322.5,251.8 L323.5,254.5 L324.5,256.9 L325.5,259.1 L326.5,261.5 L327.5,263.6 L328.5,265.5 L329.5,267.5 L330.5,269.5 L331.5,271.4 L332.5,273.3 L333.5,275.1 L334.5,276.6 L335.5,278.1 L336.5,279.5 L337.5,280.7 L338.5,281.9 L339.5,282.8 L340.5,283.7 L341.5,284.7 L342.5,285.8 L343.5,286.7 L344.5,287.8 L345.5,288.7 L346.5,289.6 L347.5,290.5 L348.5,291.5 L349.5,292.7 L350.5,293.9 L351.5,295.1 L352.5,296.1 L353.5,297.4 L354.5,298.3 L355.5,299.5 L356.5,300.5 L357.5,301.4 L358.5,302.4 L359.5,303.6 L360.5,304.3 L361.5,305.3 L362.5,306.1 L363.5,306.9 L364.5,307.7 L365.5,308.3 L366.5,309.0 L367.5,309.9 L368.5,310.7 L369.5,311.3 L370.5,312.3 L371.5,312.9 L372.5,313.6 L373.5,314.3 L374.5,315.1 L375.5,315.9 L376.5,316.5 L377.5,317.1 L378.5,317.7 L379.5,318.3 L380.5,318.8 L381.5,319.5 L382.5,320.0 L383.5,320.5 L384.5,321.0 L385.5,321.4 L386.5,321.9 L387.5,322.3 L388.5,322.6 L389.5,323.2 L390.5,323.7 L391.5,324.1 L392.5,324.6 L393.5,325.1 L394.5,325.2 L395.5,325.4 L396.5,325.7 L397.5,325.9 L398.5,326.1 L399.5,326.4 L400.5,326.8 L401.5,327.0 L402.5,327.3 L403.5,327.4 L404.5,327.6 L405.5,327.7 L406.5,327.7 L407.5,327.5 L408.5,327.7 L409.5,327.7 L410.5,327.7 L411.5,327.8 L412.5,328.0 L413.5,328.0 L414.5,327.9 L415.5,327.8 L416.5,327.9 L417.5,327.8 L418.5,327.6 L419.5,327.3 L420.5,326.8 L421.5,326.4 L422.5,325.9 L423.5,325.4 L424.5,324.7 L425.5,323.9 L426.5,323.2 L427.5,322.5 L428.5,321.8 L429.5,321.2 L430.5,320.7 L431.5,320.1 L432.5,319.4 L433.5,318.8 L434.5,318.1 L435.5,317.3 L436.5,316.6 L437.5,316.0 L438.5,315.5 L439.5,314.9 L440.5,314.5 L441.5,314.1 L442.5,313.7 L443.5,312.9 L444.5,312.2 L445.5,311.1 L446.5,310.0 L447.5,309.1 L448.5,308.2 L449.5,307.3 L450.5,306.6 L451.5,306.1 L452.5,305.5 L453.5,304.8 L454.5,304.3 L455.5,303.6 L456.5,303.1 L457.5,302.6 L458.5,302.5 L459.5,302.5 L460.5,302.5 L461.5,302.4 L462.5,302.2 L463.5,301.7 L464.5,300.5 L465.5,299.5 L466.5,298.5 L467.5,297.6 L468.5,296.8 L469.5,296.1 L470.5,295.2 L471.5,294.5 L472.5,293.7 L473.5,292.9 L474.5,292.1 L475.5,291.3 L476.5,290.4 L477.5,289.5 L478.5,288.4 L479.5,287.4 L480.5,286.3 L481.5,285.1 L482.5,283.9 L483.5,282.5 L484.5,281.0 L485.5,279.2 L486.5,277.5 L487.5,275.7 L488.5,273.8 L489.5,271.7 L490.5,270.0 L491.5,268.2 L492.5,266.5 L493.5,265.0 L494.5,264.0 L495.5,262.8 L496.5,261.5 L497.5,260.4 L498.5,259.1 L499.5,257.2 L500.5,255.3 L501.5,253.2 L502.5,251.1 L503.5,249.3 L504.5,247.8 L505.5,246.3 L506.5,245.0 L507.5,243.5 L508.5,242.1 L509.5,240.8 L510.5,239.3 L511.5,237.8 L512.5,236.6 L513.5,235.2 L514.5,233.6 L515.5,232.3 L516.5,231.0 L517.5,229.7 L518.5,228.5 L519.5,227.3 L520.5,226.0 L521.5,224.8 L522.5,223.4 L523.5,222.1 L524.5,220.9 L525.5,219.7 L526.5,218.6 L527.5,217.6 L528.5,216.3 L529.5,215.3 L530.5,214.3 L531.5,213.2 L532.5,212.2 L533.5,211.6 L534.5,210.7 L535.5,209.7 L536.5,208.9 L537.5,208.2 L538.5,207.3 L539.5,206.5 L540.5,205.8 L541.5,205.0 L542.0,204.6" stroke="#ff0000" stroke-width="4.0"/>
<path d="M27.5,183.6 L28.5,182.6 L29.5,181.5 L30.5,180.4 L31.5,179.9 L32.5,178.9 L33.5,178.4 L34.5,178.0 L35.5,177.4 L36.5,176.6 L37.5,176.2 L38.5,175.3 L39.5,174.2 L40.5,173.2 L41.5,171.7 L42.5,170.4 L43.5,169.2 L44.5,167.8 L45.5,167.0 L46.5,167.0 L47.5,166.9 L48.5,167.2 L49.5,167.7 L50.5,168.1 L51.5,167.8 L52.5,167.4 L53.5,166.6 L54.5,165.6 L55.5,164.6 L56.5,163.9 L57.5,163.6 L58.5,163.2 L59.5,163.0 L60.5,162.6 L61.5,161.9 L62.5,160.9 L63.5,160.1 L64.5,159.0 L65.5,158.3 L66.5,158.0 L67.5,157.7 L68.5,157.3 L69.5,157.1 L70.5,156.4 L71.5,155.7 L72.5,155.1 L73.5,154.7 L74.5,154.5 L75.5,154.1 L76.5,153.5 L77.5,153.0 L78.5,152.0 L79.5,150.7 L80.5,149.9 L81.5,149.1 L82.5,148.2 L83.5,147.3 L84.5,146.8 L85.5,146.0 L86.5,145.8 L87.5,145.6 L88.5,145.9 L89.5,146.1 L90.5,146.5 L91.5,146.4 L92.5,146.5 L93.5,146.7 L94.5,146.4 L95.5,145.9 L96.5,145.7 L97.5,145.2 L98.5,144.3 L99.5,143.2 L100.5,142.3 L101.5,140.9 L102.5,139.8 L103.5,138.6 L104.5,137.5 L105.5,136.5 L106.5,135.3 L107.5,134.6 L108.5,133.9 L109.5,133.3 L110.5,132.4 L111.5,132.3 L112.5,131.7 L113.5,131.3 L114.5,130.8 L115.5,130.4 L116.5,129.8 L117.5,129.2 L118.5,128.6 L119.5,128.1 L120.5,127.8 L121.5,127.4 L122.5,127.1 L123.5,127.0 L124.5,126.6 L125.5,126.0 L126.5,125.4 L127.5,124.8 L128.5,123.9 L129.5,123.2 L130.5,122.7 L131.5,122.4 L132.5,122.0 L133.5,121.4 L134.5,120.9 L135.5,120.4 L136.5,119.9 L137.5,119.4 L138.5,119.1 L139.5,118.3 L140.5,117.9 L141.5,117.4 L142.5,117.2 L143.5,116.6 L144.5,116.4 L145.5,116.0 L146.5,115.3 L147.5,114.3 L148.5,113.6 L149.5,113.4 L150.5,112.9 L151.5,112.7 L152.5,112.6 L153.5,112.9 L154.5,112.5 L155.5,112.2 L156.5,111.9 L157.5,112.2 L158.5,112.1 L159.5,112.7 L160.5,113.0 L161.5,113.3 L162.5,113.2 L163.5,112.8 L164.5,112.6 L165.5,112.4 L166.5,112.1 L167.5,111.8 L168.5,111.9 L169.5,111.6 L170.5,111.2 L171.5,111.0 L172.5,110.6 L173.5,110.0 L174.5,109.4 L175.5,109.0 L176.5,108.7 L177.5,108.7 L178.5,108.9 L179.5,108.9 L180.5,108.9 L181.5,108.9 L182.5,108.7 L183.5,108.3 L184.5,107.8 L185.5,107.0 L186.5,106.7 L187.5,106.2 L188.5,106.1 L189.5,105.9 L190.5,106.0 L191.5,105.7 L192.5,105.6 L193.5,105.4 L194.5,105.4 L195.5,105.1 L196.5,105.1 L197.5,105.4 L198.5,105.4 L199.5,105.5 L200.5,105.5 L201.5,105.6 L202.5,105.8 L203.5,106.1 L204.5,106.4 L205.5,106.9 L206.5,107.4 L207.5,107.6 L208.5,107.6 L209.5,107.8 L210.5,107.9 L211.5,108.2 L212.5,108.6 L213.5,108.9 L214.5,109.0 L215.5,109.6 L216.5,110.0 L217.5,110.1 L218.5,110.4 L219.5,110.9 L220.5,111.0 L221.5,110.9 L222.5,111.3 L223.5,111.7 L224.5,112.0 L225.5,112.5 L226.5,113.2 L227.5,113.5 L228.5,113.8 L229.5,114.1 L230.5,114.5 L231.5,114.9 L232.5,115.5 L233.5,116.2 L234.5,116.6 L235.5,117.4 L236.5,118.2 L237.5,118.9 L238.5,119.4 L239.5,120.8 L240.5,121.7 L241.5,122.3 L242.5,123.0 L243.5,123.9 L244.5,124.2 L245.5,124.9 L246.5,125.6 L247.5,126.0 L248.5,126.6 L249.5,127.4 L250.5,127.9 L251.5,129.0 L252.5,129.9 L253.5,131.1 L254.5,132.0 L255.5,132.9 L256.5,133.7 L257.5,134.9 L258.5,135.8 L259.5,136.7 L260.5,138.0 L261.5,139.4 L262.5,140.2 L263.5,141.4 L264.5,142.8 L265.5,144.0 L266.5,144.9 L267.5,146.4 L268.5,147.7 L269.5,149.1 L270.5,150.3 L271.5,152.0 L272.5,153.2 L273.5,154.6 L274.5,155.9 L275.5,157.7 L276.5,159.0 L277.5,160.8 L278.5,162.3 L279.5,164.0 L280.5,165.5 L281.5,167.5 L282.5,169.1 L283.5,171.2 L284.5,173.1 L285.5,175.2 L286.5,177.0 L287.5,179.5 L288.5,181.7 L289.5,184.1 L290.5,187.0 L291.5,189.7 L292.5,192.5 L293.5,195.1 L294.5,197.6 L295.5,199.8 L296.5,202.7 L297.5,205.5 L298.5,208.6 L299.5,211.3 L300.5,214.0 L301.5,216.5 L302.5,219.1 L303.5,221.9 L304.5,224.7 L305.5,227.2 L306.5,230.1 L307.5,233.0 L308.5,235.8 L309.5,238.7 L310.5,241.8 L311.5,244.3 L312.5,246.9 L313.5,249.5 L314.5,251.6 L315.5,253.8 L316.5,256.2 L317.5,258.6 L318.5,260.9 L319.5,263.7 L320.5,266.2 L321.5,268.7 L322.5,270.8 L323.5,273.2 L324.5,275.3 L325.5,277.4 L326.5,279.4 L327.5,281.4 L328.5,283.3 L329.5,285.4 L330.5,287.1 L331.5,289.1 L332.5,291.0 L333.5,293.0 L334.5,294.4 L335.5,296.4 L336.5,298.2 L337.5,299.7 L338.5,300.9 L339.5,302.7 L340.5,304.1 L341.5,305.8 L342.5,307.4 L343.5,309.4 L344.5,311.0 L345.5,312.3 L346.5,313.4 L347.5,314.5 L348.5,315.3 L349.5,316.5 L350.5,317.6 L351.5,318.7 L352.5,319.7 L353.5,320.5 L354.5,321.5 L355.5,322.1 L356.5,322.9 L357.5,323.9 L358.5,324.2 L359.5,324.3 L360.5,325.0 L361.5,325.5 L362.5,325.8 L363.5,326.6 L364.5,327.4 L365.5,328.0 L366.5,328.4 L367.5,328.9 L368.5,329.5 L369.5,329.7 L370.5,330.4 L371.5,330.7 L372.5,331.1 L373.5,331.4 L374.5,331.9 L375.5,331.8 L376.5,332.2 L377.5,332.4 L378.5,332.5 L379.5,332.9 L380.5,333.3 L381.5,333.5 L382.5,333.9 L383.5,334.5 L384.5,334.6 L385.5,334.8 L386.5,334.8 L387.5,335.0 L388.5,335.0 L389.5,335.2 L390.5,335.7 L391.5,336.0 L392.5,336.4 L393.5,336.6 L394.5,336.7 L395.5,336.9 L396.5,337.1 L397.5,337.4 L398.5,337.6 L399.5,337.6 L400.5,337.7 L401.5,337.8 L402.5,337.3 L403.5,336.9 L404.5,336.6 L405.5,335.9 L406.5,335.2 L407.5,335.4 L408.5,335.4 L409.5,335.0 L410.5,335.1 L411.5,335.3 L412.5,334.9 L413.5,335.2 L414.5,335.2 L415.5,335.1 L416.5,334.9 L417.5,335.0 L418.5,334.0 L419.5,333.3 L420.5,332.4 L421.5,331.5 L422.5,330.5 L423.5,329.8 L424.5,328.5 L425.5,327.4 L426.5,326.5 L427.5,326.0 L428.5,325.5 L429.5,325.4 L430.5,325.0 L431.5,324.7 L432.5,324.1 L433.5,323.6 L434.5,322.9 L435.5,322.0 L436.5,321.2 L437.5,320.3 L438.5,319.1 L439.5,318.0 L440.5,316.8 L441.5,315.5 L442.5,314.3 L443.5,312.7 L444.5,310.9 L445.5,309.4 L446.5,307.9 L447.5,306.5 L448.5,305.3 L449.5,304.6 L450.5,303.4 L451.5,302.6 L452.5,301.9 L453.5,301.1 L454.5,300.2 L455.5,299.8 L456.5,299.1 L457.5,298.4 L458.5,297.8 L459.5,296.8 L460.5,295.6 L461.5,294.4 L462.5,293.3 L463.5,292.1 L464.5,291.1 L465.5,290.5 L466.5,289.3 L467.5,288.4 L468.5,287.5 L469.5,286.6 L470.5,285.2 L471.5,284.5 L472.5,283.5 L473.5,282.4 L474.5,281.5 L475.5,280.7 L476.5,279.7 L477.5,278.8 L478.5,277.8 L479.5,276.8 L480.5,275.7 L481.5,274.8 L482.5,273.6 L483.5,272.6 L484.5,271.2 L485.5,269.9 L486.5,268.4 L487.5,267.0 L488.5,265.4 L489.5,263.9 L490.5,262.1 L491.5,260.4 L492.5,258.6 L493.5,257.0 L494.5,255.6 L495.5,254.6 L496.5,253.5 L497.5,252.6 L498.5,251.9 L499.5,250.9 L500.5,249.8 L501.5,249.3 L502.5,248.6 L503.5,247.5 L504.5,246.7 L505.5,245.8 L506.5,244.7 L507.5,243.4 L508.5,242.2 L509.5,241.0 L510.5,239.9 L511.5,238.7 L512.5,237.6 L513.5,236.6 L514.5,235.5 L515.5,234.6 L516.5,233.4 L517.5,232.6 L518.5,232.0 L519.5,230.9 L520.5,229.8 L521.5,228.8 L522.5,227.7 L523.5,226.4 L524.5,225.4 L525.5,224.3 L526.5,223.1 L527.5,222.1 L528.5,221.0 L529.5,220.2 L530.5,219.1 L531.5,218.6 L532.5,218.0 L533.5,217.5 L534.5,216.5 L535.5,215.8 L536.5,214.8 L537.5,213.8 L538.5,212.9 L539.5,212.0 L540.5,211.4 L541.5,210.3 L542.5,209.5 L543.5,208.5 L544.5,207.7 L545.5,206.8 L546.5,206.1 L547.5,205.2 L548.5,204.7 L549.5,204.0 L550.5,203.3 L551.5,202.2 L552.5,201.6 L553.5,200.7 L554.5,199.8 L555.5,198.6 L556.5,198.2 L557.5,197.2 L558.5,196.3 L559.5,195.7 L560.5,195.0 L561.5,194.2 L562.5,193.4 L563.5,192.7 L564.5,191.9 L565.5,191.3 L566.5,190.2 L567.5,189.6 L568.5,188.9 L569.5,187.9 L570.5,187.4 L571.5,186.8 L572.5,186.3 L573.5,185.6 L574.5,185.3 L575.5,184.4 L576.5,183.8 L577.5,182.9 L578.5,182.4 L579.5,181.6 L580.5,181.1 L581.5,180.4 L582.5,179.8 L583.5,179.2 L584.5,178.4 L585.5,177.5 L586.5,176.8" stroke="#0000ff" stroke-width="1.45"/>
<path d="M27.5,178.4 L28.5,177.8 L29.5,177.2 L30.5,176.2 L31.5,175.7 L32.5,175.2 L33.5,174.5 L34.5,173.6 L35.5,173.0 L36.5,172.1 L37.5,171.1 L38.5,170.6 L39.5,170.4 L40.5,169.8 L41.5,169.1 L42.5,168.6 L43.5,167.4 L44.5,166.3 L45.5,165.8 L46.5,165.3 L47.5,164.3 L48.5,163.7 L49.5,163.2 L50.5,162.3 L51.5,161.4 L52.5,160.9 L53.5,160.3 L54.5,159.3 L55.5,158.7 L56.5,158.0 L57.5,157.2 L58.5,156.5 L59.5,156.2 L60.5,155.4 L61.5,155.0 L62.5,154.5 L63.5,154.2 L64.5,153.5 L65.5,153.0 L66.5,152.0 L67.5,151.2 L68.5,150.5 L69.5,150.2 L70.5,149.4 L71.5,148.8 L72.5,148.3 L73.5,147.5 L74.5,146.3 L75.5,145.8 L76.5,145.1 L77.5,144.4 L78.5,143.9 L79.5,143.7 L80.5,143.1 L81.5,142.8 L82.5,142.4 L83.5,141.9 L84.5,141.3 L85.5,140.8 L86.5,140.4 L87.5,140.0 L88.5,139.4 L89.5,138.7 L90.5,138.5 L91.5,138.1 L92.5,137.7 L93.5,137.4 L94.5,137.1 L95.5,136.6 L96.5,136.0 L97.5,135.4 L98.5,134.9 L99.5,134.5 L100.5,134.3 L101.5,133.9 L102.5,133.6 L103.5,133.2 L104.5,133.1 L105.5,132.6 L106.5,132.3 L107.5,132.0 L108.5,131.7 L109.5,131.0 L110.5,130.8 L111.5,130.5 L112.5,130.3 L113.5,130.0 L114.5,129.8 L115.5,129.2 L116.5,128.5 L117.5,128.0 L118.5,127.4 L119.5,126.9 L120.5,126.4 L121.5,126.0 L122.5,125.3 L123.5,124.9 L124.5,124.5 L125.5,124.0 L126.5,123.8 L127.5,123.8 L128.5,123.2 L129.5,122.7 L130.5,122.3 L131.5,122.1 L132.5,121.7 L133.5,121.5 L134.5,121.1 L135.5,121.0 L136.5,120.9 L137.5,120.8 L138.5,120.8 L139.5,121.1 L140.5,120.9 L141.5,120.8 L142.5,120.8 L143.5,120.2 L144.5,119.1 L145.5,118.2 L146.5,117.3 L147.5,116.4 L148.5,115.9 L149.5,115.4 L150.5,114.7 L151.5,114.1 L152.5,113.6 L153.5,113.1 L154.5,112.6 L155.5,112.0 L156.5,111.9 L157.5,111.9 L158.5,111.8 L159.5,111.7 L160.5,111.9 L161.5,112.0 L162.5,111.7 L163.5,111.6 L164.5,111.2 L165.5,110.7 L166.5,110.2 L167.5,110.1 L168.5,109.5 L169.5,109.0 L170.5,108.7 L171.5,107.9 L172.5,107.6 L173.5,107.3 L174.5,107.0 L175.5,106.7 L176.5,106.9 L177.5,106.8 L178.5,107.0 L179.5,107.4 L180.5,107.6 L181.5,107.5 L182.5,107.3 L183.5,107.5 L184.5,107.2 L185.5,107.2 L186.5,107.1 L187.5,107.1 L188.5,106.7 L189.5,106.3 L190.5,106.1 L191.5,105.8 L192.5,105.8 L193.5,105.5 L194.5,105.4 L195.5,105.0 L196.5,105.1 L197.5,104.7 L198.5,105.0 L199.5,105.5 L200.5,105.8 L201.5,106.1 L202.5,106.3 L203.5,106.6 L204.5,106.6 L205.5,107.0 L206.5,107.3 L207.5,107.8 L208.5,108.3 L209.5,109.0 L210.5,109.2 L211.5,109.5 L212.5,109.9 L213.5,110.1 L214.5,110.8 L215.5,111.2 L216.5,111.8 L217.5,112.4 L218.5,113.0 L219.5,113.3 L220.5,114.0 L221.5,114.3 L222.5,114.9 L223.5,115.6 L224.5,116.2 L225.5,116.9 L226.5,117.7 L227.5,118.2 L228.5,118.8 L229.5,119.6 L230.5,120.1 L231.5,120.9 L232.5,121.9 L233.5,122.5 L234.5,123.2 L235.5,123.9 L236.5,124.3 L237.5,124.9 L238.5,125.5 L239.5,125.9 L240.5,126.5 L241.5,127.2 L242.5,127.8 L243.5,128.6 L244.5,129.2 L245.5,129.5 L246.5,130.1 L247.5,130.8 L248.5,131.3 L249.5,131.8 L250.5,132.7 L251.5,133.6 L252.5,134.3 L253.5,135.2 L254.5,136.0 L255.5,136.8 L256.5,137.5 L257.5,138.3 L258.5,138.8 L259.5,139.8 L260.5,140.5 L261.5,141.6 L262.5,142.8 L263.5,144.3 L264.5,145.5 L265.5,146.7 L266.5,147.9 L267.5,149.0 L268.5,150.5 L269.5,152.0 L270.5,153.9 L271.5,155.9 L272.5,158.3 L273.5,160.4 L274.5,163.0 L275.5,165.7 L276.5,167.6 L277.5,169.5 L278.5,171.5 L279.5,173.3 L280.5,175.0 L281.5,177.3 L282.5,179.7 L283.5,182.1 L284.5,184.4 L285.5,186.8 L286.5,189.1 L287.5,191.4 L288.5,193.7 L289.5,196.1 L290.5,198.8 L291.5,201.5 L292.5,204.9 L293.5,208.5 L294.5,211.9 L295.5,215.1 L296.5,218.8 L297.5,221.6 L298.5,223.7 L299.5,226.2 L300.5,228.9 L301.5,231.1 L302.5,233.6 L303.5,236.5 L304.5,239.1 L305.5,241.4 L306.5,244.1 L307.5,246.9 L308.5,249.9 L309.5,252.7 L310.5,255.8 L311.5,258.7 L312.5,260.9 L313.5,262.9 L314.5,265.3 L315.5,267.7 L316.5,269.6 L317.5,271.6 L318.5,273.7 L319.5,275.3 L320.5,277.0 L321.5,278.4 L322.5,280.2 L323.5,281.7 L324.5,283.3 L325.5,285.0 L326.5,287.1 L327.5,289.1 L328.5,291.3 L329.5,293.4 L330.5,295.4 L331.5,297.2 L332.5,299.0 L333.5,300.6 L334.5,302.5 L335.5,304.1 L336.5,305.9 L337.5,307.9 L338.5,309.5 L339.5,311.3 L340.5,312.9 L341.5,314.6 L342.5,316.2 L343.5,317.9 L344.5,319.4 L345.5,321.0 L346.5,322.3 L347.5,323.5 L348.5,324.6 L349.5,325.7 L350.5,327.2 L351.5,328.3 L352.5,329.5 L353.5,330.3 L354.5,331.2 L355.5,331.6 L356.5,332.3 L357.5,332.5 L358.5,333.1 L359.5,333.5 L360.5,334.1 L361.5,334.6 L362.5,335.3 L363.5,335.6 L364.5,336.1 L365.5,336.4 L366.5,336.7 L367.5,337.1 L368.5,337.2 L369.5,337.4 L370.5,337.5 L371.5,337.8 L372.5,337.9 L373.5,339.2 L374.5,339.7 L375.5,340.7 L376.5,341.4 L377.5,341.8 L378.5,341.8 L379.5,342.5 L380.5,342.7 L381.5,343.0 L382.5,343.5 L383.5,343.7 L384.5,343.8 L385.5,344.3 L386.5,344.7 L387.5,344.9 L388.5,345.5 L389.5,345.9 L390.5,346.2 L391.5,346.5 L392.5,347.0 L393.5,347.3 L394.5,347.4 L395.5,347.5 L396.5,347.7 L397.5,347.7 L398.5,347.9 L399.5,348.2 L400.5,348.5 L401.5,348.9 L402.5,349.3 L403.5,349.5 L404.5,349.9 L405.5,350.4 L406.5,351.1 L407.5,351.3 L408.5,351.6 L409.5,351.9 L410.5,352.1 L411.5,351.7 L412.5,351.5 L413.5,351.4 L414.5,350.9 L415.5,350.3 L416.5,349.7 L417.5,349.4 L418.5,348.6 L419.5,348.2 L420.5,347.5 L421.5,346.8 L422.5,346.2 L423.5,345.3 L424.5,344.4 L425.5,343.6 L426.5,343.0 L427.5,342.1 L428.5,341.4 L429.5,340.7 L430.5,339.9 L431.5,339.0 L432.5,338.5 L433.5,337.7 L434.5,337.0 L435.5,336.2 L436.5,335.6 L437.5,334.3 L438.5,333.7 L439.5,332.7 L440.5,331.6 L441.5,330.5 L442.5,330.0 L443.5,328.3 L444.5,326.1 L445.5,324.2 L446.5,322.5 L447.5,320.2 L448.5,318.5 L449.5,317.1 L450.5,316.1 L451.5,314.7 L452.5,313.9 L453.5,312.8 L454.5,311.8 L455.5,310.8 L456.5,310.1 L457.5,308.8 L458.5,308.2 L459.5,307.6 L460.5,306.5 L461.5,305.4 L462.5,304.4 L463.5,302.7 L464.5,301.2 L465.5,300.2 L466.5,299.2 L467.5,298.1 L468.5,297.3 L469.5,296.4 L470.5,295.7 L471.5,295.0 L472.5,294.2 L473.5,293.6 L474.5,293.3 L475.5,292.6 L476.5,291.6 L477.5,291.1 L478.5,290.0 L479.5,288.8 L480.5,287.5 L481.5,286.5 L482.5,285.3 L483.5,284.0 L484.5,282.6 L485.5,281.2 L486.5,279.7 L487.5,278.2 L488.5,277.0 L489.5,275.5 L490.5,274.1 L491.5,272.6 L492.5,271.0 L493.5,269.3 L494.5,268.1 L495.5,266.6 L496.5,265.3 L497.5,264.4 L498.5,263.2 L499.5,262.1 L500.5,261.2 L501.5,260.3 L502.5,259.2 L503.5,258.1 L504.5,257.0 L505.5,256.1 L506.5,255.4 L507.5,254.3 L508.5,253.7 L509.5,253.1 L510.5,252.3 L511.5,251.3 L512.5,250.6 L513.5,249.5 L514.5,248.4 L515.5,247.1 L516.5,245.6 L517.5,244.4 L518.5,243.0 L519.5,241.6 L520.5,240.6 L521.5,239.9 L522.5,238.5 L523.5,237.6 L524.5,236.5 L525.5,235.5 L526.5,234.6 L527.5,233.6 L528.5,232.5 L529.5,231.6 L530.5,230.5 L531.5,229.3 L532.5,228.2 L533.5,226.9 L534.5,226.0 L535.5,225.0 L536.5,223.8 L537.5,222.6 L538.5,221.9 L539.5,220.9 L540.5,219.7 L541.5,218.6 L542.5,217.7 L543.5,216.4 L544.5,215.1 L545.5,214.2 L546.5,213.3 L547.5,212.5 L548.5,211.3 L549.5,210.4 L550.5,209.1 L551.5,208.3 L552.5,207.3 L553.5,206.6 L554.5,205.9 L555.5,205.2 L556.5,204.6 L557.5,203.8 L558.5,203.0 L559.5,202.2 L560.5,201.6 L561.5,200.6 L562.5,199.9 L563.5,199.2 L564.5,198.5 L565.5,197.7 L566.5,196.9 L567.5,196.2 L568.5,195.7 L569.5,195.1 L570.5,194.6 L571.5,194.1 L572.5,193.5 L573.5,192.8 L574.5,192.2 L575.5,191.4 L576.5,190.7 L577.5,189.9 L578.5,189.3 L579.5,188.5 L580.5,187.8 L581.5,187.1 L582.5,186.5 L583.5,185.6 L584.5,184.7 L585.5,183.8 L586.5,182.9" stroke="#ffa500" stroke-width="1.45"/>
<path d="M27.5,165.9 L28.5,165.2 L29.5,164.4 L30.5,163.6 L31.5,162.7 L32.5,161.9 L33.5,161.2 L34.5,160.3 L35.5,159.5 L36.5,158.6 L37.5,157.8 L38.5,156.8 L39.5,155.9 L40.5,154.9 L41.5,154.2 L42.5,153.2 L43.5,152.3 L44.5,151.4 L45.5,150.5 L46.5,149.5 L47.5,148.5 L48.5,147.4 L49.5,146.3 L50.5,145.2 L51.5,144.0 L52.5,143.0 L53.5,141.9 L54.5,140.8 L55.5,139.8 L56.5,138.9 L57.5,138.0 L58.5,137.4 L59.5,136.7 L60.5,136.1 L61.5,135.4 L62.5,134.9 L63.5,134.4 L64.5,133.9 L65.5,133.2 L66.5,132.5 L67.5,131.6 L68.5,130.8 L69.5,129.9 L70.5,129.2 L71.5,128.6 L72.5,128.1 L73.5,127.8 L74.5,127.4 L75.5,127.1 L76.5,126.8 L77.5,126.4 L78.5,125.9 L79.5,125.4 L80.5,124.9 L81.5,124.3 L82.5,123.7 L83.5,123.2 L84.5,122.7 L85.5,122.1 L86.5,121.5 L87.5,120.7 L88.5,119.9 L89.5,118.9 L90.5,117.9 L91.5,117.0 L92.5,116.0 L93.5,115.2 L94.5,114.3 L95.5,113.6 L96.5,113.1 L97.5,112.6 L98.5,112.2 L99.5,111.9 L100.5,111.6 L101.5,111.2 L102.5,110.9 L103.5,110.7 L104.5,110.4 L105.5,110.2 L106.5,109.8 L107.5,109.5 L108.5,109.0 L109.5,108.5 L110.5,107.9 L111.5,107.5 L112.5,107.1 L113.5,106.5 L114.5,106.1 L115.5,105.7 L116.5,105.3 L117.5,104.8 L118.5,104.3 L119.5,103.9 L120.5,103.3 L121.5,102.8 L122.5,102.1 L123.5,101.6 L124.5,101.0 L125.5,100.5 L126.5,100.1 L127.5,99.9 L128.5,99.5 L129.5,99.3 L130.5,99.0 L131.5,98.6 L132.5,98.2 L133.5,97.9 L134.5,97.7 L135.5,97.5 L136.5,97.5 L137.5,97.5 L138.5,97.7 L139.5,97.9 L140.5,98.2 L141.5,98.2 L142.5,98.1 L143.5,98.0 L144.5,97.7 L145.5,97.5 L146.5,97.4 L147.5,97.2 L148.5,96.8 L149.5,96.4 L150.5,95.7 L151.5,95.2 L152.5,94.8 L153.5,94.4 L154.5,94.0 L155.5,93.7 L156.5,93.3 L157.5,92.9 L158.5,92.5 L159.5,92.2 L160.5,92.0 L161.5,91.7 L162.5,91.4 L163.5,91.1 L164.5,90.8 L165.5,90.5 L166.5,90.2 L167.5,89.7 L168.5,89.4 L169.5,88.9 L170.5,88.4 L171.5,88.1 L172.5,87.7 L173.5,87.3 L174.5,86.9 L175.5,86.6 L176.5,86.4 L177.5,86.3 L178.5,86.2 L179.5,86.2 L180.5,86.3 L181.5,86.4 L182.5,86.5 L183.5,86.8 L184.5,87.0 L185.5,87.1 L186.5,87.2 L187.5,87.3 L188.5,87.4 L189.5,87.5 L190.5,87.7 L191.5,87.9 L192.5,88.1 L193.5,88.3 L194.5,88.5 L195.5,88.7 L196.5,88.8 L197.5,89.0 L198.5,89.2 L199.5,89.3 L200.5,89.4 L201.5,89.6 L202.5,89.6 L203.5,89.6 L204.5,89.7 L205.5,89.8 L206.5,90.0 L207.5,90.1 L208.5,90.2 L209.5,90.4 L210.5,90.6 L211.5,90.8 L212.5,91.0 L213.5,91.1 L214.5,91.2 L215.5,91.4 L216.5,91.4 L217.5,91.6 L218.5,91.8 L219.5,92.0 L220.5,92.0 L221.5,92.1 L222.5,92.2 L223.5,92.2 L224.5,92.3 L225.5,92.6 L226.5,92.9 L227.5,93.1 L228.5,93.5 L229.5,94.0 L230.5,94.6 L231.5,95.2 L232.5,95.9 L233.5,96.6 L234.5,97.4 L235.5,98.0 L236.5,98.7 L237.5,99.3 L238.5,99.9 L239.5,100.5 L240.5,101.2 L241.5,101.7 L242.5,102.3 L243.5,102.8 L244.5,103.4 L245.5,104.0 L246.5,104.5 L247.5,105.3 L248.5,106.0 L249.5,106.8 L250.5,107.6 L251.5,108.5 L252.5,109.4 L253.5,110.4 L254.5,111.5 L255.5,112.5 L256.5,113.6 L257.5,114.6 L258.5,115.6 L259.5,116.6 L260.5,117.8 L261.5,119.1 L262.5,120.4 L263.5,121.9 L264.5,123.3 L265.5,124.9 L266.5,126.3 L267.5,127.9 L268.5,129.4 L269.5,131.0 L270.5,132.7 L271.5,134.6 L272.5,136.5 L273.5,138.5 L274.5,140.5 L275.5,142.7 L276.5,144.8 L277.5,147.1 L278.5,149.4 L279.5,151.8 L280.5,154.4 L281.5,157.0 L282.5,159.7 L283.5,162.6 L284.5,165.5 L285.5,168.4 L286.5,171.6 L287.5,174.8 L288.5,178.0 L289.5,181.4 L290.5,184.9 L291.5,188.4 L292.5,191.7 L293.5,195.1 L294.5,198.5 L295.5,201.7 L296.5,205.0 L297.5,208.3 L298.5,211.4 L299.5,214.4 L300.5,217.5 L301.5,220.4 L302.5,223.3 L303.5,226.2 L304.5,229.2 L305.5,232.0 L306.5,234.9 L307.5,237.8 L308.5,240.6 L309.5,243.3 L310.5,246.0 L311.5,248.6 L312.5,251.3 L313.5,254.0 L314.5,256.6 L315.5,259.4 L316.5,262.1 L317.5,264.8 L318.5,267.5 L319.5,270.2 L320.5,272.7 L321.5,275.1 L322.5,277.5 L323.5,279.8 L324.5,282.2 L325.5,284.4 L326.5,286.7 L327.5,288.8 L328.5,291.0 L329.5,293.1 L330.5,295.1 L331.5,297.1 L332.5,299.2 L333.5,301.3 L334.5,303.2 L335.5,305.2 L336.5,307.1 L337.5,308.8 L338.5,310.3 L339.5,312.1 L340.5,313.5 L341.5,315.0 L342.5,316.5 L343.5,317.9 L344.5,319.2 L345.5,320.7 L346.5,322.0 L347.5,323.2 L348.5,324.5 L349.5,325.8 L350.5,327.1 L351.5,328.7 L352.5,330.4 L353.5,332.2 L354.5,334.1 L355.5,335.8 L356.5,337.3 L357.5,338.4 L358.5,339.5 L359.5,340.4 L360.5,341.1 L361.5,341.9 L362.5,342.6 L363.5,343.1 L364.5,343.6 L365.5,344.3 L366.5,344.8 L367.5,345.2 L368.5,345.7 L369.5,346.0 L370.5,346.1 L371.5,346.1 L372.5,346.1 L373.5,346.1 L374.5,346.1 L375.5,346.1 L376.5,346.1 L377.5,346.2 L378.5,346.0 L379.5,346.0 L380.5,345.8 L381.5,345.7 L382.5,345.0 L383.5,344.0 L384.5,342.7 L385.5,341.4 L386.5,340.4 L387.5,339.6 L388.5,339.0 L389.5,338.4 L390.5,337.9 L391.5,337.4 L392.5,336.8 L393.5,336.3 L394.5,335.8 L395.5,335.5 L396.5,335.1 L397.5,334.8 L398.5,334.7 L399.5,334.5 L400.5,334.3 L401.5,334.0 L402.5,333.8 L403.5,333.6 L404.5,333.4 L405.5,333.2 L406.5,333.2 L407.5,333.0 L408.5,332.7 L409.5,332.4 L410.5,332.1 L411.5,331.8 L412.5,331.4 L413.5,331.0 L414.5,330.8 L415.5,330.4 L416.5,330.1 L417.5,329.8 L418.5,329.4 L419.5,328.7 L420.5,328.1 L421.5,327.3 L422.5,326.7 L423.5,325.9 L424.5,325.0 L425.5,324.3 L426.5,323.5 L427.5,322.8 L428.5,322.0 L429.5,321.1 L430.5,320.2 L431.5,319.5 L432.5,318.6 L433.5,318.0 L434.5,317.4 L435.5,316.7 L436.5,316.1 L437.5,315.6 L438.5,315.0 L439.5,314.3 L440.5,313.7 L441.5,313.2 L442.5,312.5 L443.5,311.9 L444.5,311.4 L445.5,310.9 L446.5,310.3 L447.5,309.7 L448.5,309.1 L449.5,308.6 L450.5,308.0 L451.5,307.5 L452.5,307.1 L453.5,306.6 L454.5,306.1 L455.5,305.4 L456.5,304.8 L457.5,304.0 L458.5,303.3 L459.5,302.4 L460.5,301.4 L461.5,300.4 L462.5,299.2 L463.5,298.0 L464.5,296.8 L465.5,295.7 L466.5,294.5 L467.5,293.3 L468.5,292.0 L469.5,290.6 L470.5,289.2 L471.5,287.7 L472.5,286.3 L473.5,284.8 L474.5,283.3 L475.5,281.8 L476.5,280.6 L477.5,279.3 L478.5,278.1 L479.5,277.0 L480.5,275.8 L481.5,274.5 L482.5,273.3 L483.5,272.2 L484.5,271.0 L485.5,269.9 L486.5,268.7 L487.5,267.5 L488.5,266.2 L489.5,265.0 L490.5,263.8 L491.5,262.5 L492.5,261.2 L493.5,259.9 L494.5,258.6 L495.5,257.1 L496.5,255.6 L497.5,254.0 L498.5,252.4 L499.5,250.8 L500.5,249.4 L501.5,247.9 L502.5,246.6 L503.5,245.4 L504.5,244.3 L505.5,243.3 L506.5,242.4 L507.5,241.7 L508.5,240.9 L509.5,240.1 L510.5,239.2 L511.5,238.5 L512.5,237.6 L513.5,236.9 L514.5,236.2 L515.5,235.5 L516.5,234.6 L517.5,233.7 L518.5,232.7 L519.5,231.5 L520.5,230.2 L521.5,229.0 L522.5,227.8 L523.5,226.5 L524.5,225.3 L525.5,224.3 L526.5,223.3 L527.5,222.5 L528.5,221.8 L529.5,221.3 L530.5,220.8 L531.5,220.1 L532.5,219.6 L533.5,219.1 L534.5,218.5 L535.5,217.9 L536.5,217.4 L537.5,216.8 L538.5,216.2 L539.5,215.5 L540.5,215.0 L541.5,214.4 L542.5,213.7 L543.5,213.0 L544.5,212.4 L545.5,211.5 L546.5,210.7 L547.5,209.8 L548.5,208.9 L549.5,207.9 L550.5,207.0 L551.5,205.9 L552.5,204.8 L553.5,203.6 L554.5,202.7 L555.5,201.5 L556.5,200.5 L557.5,199.5 L558.5,198.6 L559.5,197.5 L560.5,196.6 L561.5,195.6 L562.5,194.6 L563.5,193.7 L564.5,192.8 L565.5,191.9 L566.5,191.2 L567.5,190.5 L568.5,190.0 L569.5,189.5 L570.5,189.0 L571.5,188.4 L572.5,188.1 L573.5,187.6 L574.5,187.1 L575.5,186.8 L576.5,186.3 L577.5,185.8 L578.5,185.2 L579.5,184.7 L580.5,184.1 L581.5,183.6 L582.5,183.1 L583.5,182.6 L584.5,182.2 L585.5,181.7 L586.5,181.1" stroke="#ffc0cb" stroke-width="1.45"/>
<path d="M27.5,159.7 L28.5,159.0 L29.5,158.3 L30.5,157.6 L31.5,157.3 L32.5,156.5 L33.5,155.9 L34.5,155.2 L35.5,154.6 L36.5,154.0 L37.5,153.4 L38.5,152.9 L39.5,152.7 L40.5,152.2 L41.5,152.0 L42.5,151.7 L43.5,151.4 L44.5,150.9 L45.5,150.5 L46.5,149.7 L47.5,148.9 L48.5,147.7 L49.5,146.4 L50.5,145.3 L51.5,144.2 L52.5,143.0 L53.5,142.2 L54.5,141.3 L55.5,140.1 L56.5,139.2 L57.5,138.6 L58.5,137.7 L59.5,136.8 L60.5,136.2 L61.5,135.4 L62.5,134.7 L63.5,134.2 L64.5,133.6 L65.5,133.0 L66.5,132.6 L67.5,132.2 L68.5,131.7 L69.5,131.1 L70.5,130.8 L71.5,130.3 L72.5,129.8 L73.5,129.5 L74.5,129.2 L75.5,128.8 L76.5,128.4 L77.5,127.9 L78.5,127.7 L79.5,127.4 L80.5,126.6 L81.5,125.9 L82.5,125.1 L83.5,124.1 L84.5,123.1 L85.5,122.4 L86.5,121.5 L87.5,120.8 L88.5,119.9 L89.5,119.1 L90.5,118.3 L91.5,117.6 L92.5,116.7 L93.5,116.0 L94.5,115.3 L95.5,114.7 L96.5,114.1 L97.5,113.6 L98.5,113.1 L99.5,112.6 L100.5,112.4 L101.5,111.9 L102.5,111.7 L103.5,111.4 L104.5,111.0 L105.5,110.6 L106.5,110.1 L107.5,109.5 L108.5,108.8 L109.5,108.4 L110.5,107.7 L111.5,107.2 L112.5,106.5 L113.5,105.6 L114.5,104.7 L115.5,104.0 L116.5,103.4 L117.5,103.0 L118.5,102.6 L119.5,102.3 L120.5,101.9 L121.5,101.4 L122.5,101.0 L123.5,100.4 L124.5,100.0 L125.5,99.8 L126.5,99.4 L127.5,98.8 L128.5,98.6 L129.5,97.8 L130.5,97.3 L131.5,96.7 L132.5,96.1 L133.5,95.5 L134.5,95.0 L135.5,94.2 L136.5,93.7 L137.5,93.2 L138.5,92.7 L139.5,92.2 L140.5,91.9 L141.5,91.5 L142.5,91.1 L143.5,90.5 L144.5,90.4 L145.5,90.1 L146.5,89.6 L147.5,89.5 L148.5,89.4 L149.5,88.8 L150.5,88.2 L151.5,88.0 L152.5,87.6 L153.5,87.3 L154.5,86.7 L155.5,86.7 L156.5,86.5 L157.5,85.9 L158.5,85.5 L159.5,85.4 L160.5,84.8 L161.5,84.5 L162.5,84.4 L163.5,84.2 L164.5,83.9 L165.5,83.7 L166.5,83.4 L167.5,83.3 L168.5,83.0 L169.5,82.8 L170.5,82.3 L171.5,81.9 L172.5,81.4 L173.5,81.1 L174.5,80.6 L175.5,80.2 L176.5,80.2 L177.5,79.8 L178.5,79.8 L179.5,79.8 L180.5,79.7 L181.5,79.6 L182.5,79.9 L183.5,79.7 L184.5,79.5 L185.5,79.7 L186.5,79.7 L187.5,79.4 L188.5,79.4 L189.5,79.6 L190.5,79.6 L191.5,79.6 L192.5,80.2 L193.5,80.6 L194.5,80.9 L195.5,81.4 L196.5,81.6 L197.5,81.5 L198.5,81.4 L199.5,81.2 L200.5,80.7 L201.5,80.6 L202.5,80.4 L203.5,80.3 L204.5,80.2 L205.5,80.2 L206.5,80.1 L207.5,80.5 L208.5,80.6 L209.5,81.4 L210.5,82.0 L211.5,82.7 L212.5,83.3 L213.5,83.9 L214.5,84.0 L215.5,84.1 L216.5,84.0 L217.5,84.0 L218.5,83.9 L219.5,83.9 L220.5,84.2 L221.5,84.3 L222.5,84.7 L223.5,84.8 L224.5,85.0 L225.5,85.4 L226.5,85.7 L227.5,85.9 L228.5,86.6 L229.5,87.1 L230.5,87.5 L231.5,88.2 L232.5,88.5 L233.5,89.2 L234.5,90.0 L235.5,90.7 L236.5,91.4 L237.5,92.4 L238.5,93.2 L239.5,93.9 L240.5,94.8 L241.5,95.6 L242.5,96.6 L243.5,97.4 L244.5,98.8 L245.5,99.8 L246.5,100.9 L247.5,101.6 L248.5,102.6 L249.5,103.0 L250.5,104.0 L251.5,105.0 L252.5,105.9 L253.5,106.6 L254.5,107.8 L255.5,108.9 L256.5,109.7 L257.5,110.7 L258.5,111.9 L259.5,112.5 L260.5,113.0 L261.5,113.7 L262.5,114.5 L263.5,115.1 L264.5,116.0 L265.5,117.0 L266.5,118.0 L267.5,119.1 L268.5,120.5 L269.5,122.4 L270.5,124.4 L271.5,126.5 L272.5,128.9 L273.5,131.2 L274.5,133.1 L275.5,135.1 L276.5,137.2 L277.5,138.8 L278.5,140.2 L279.5,141.8 L280.5,143.2 L281.5,144.7 L282.5,146.0 L283.5,147.7 L284.5,149.3 L285.5,151.0 L286.5,152.9 L287.5,155.1 L288.5,157.0 L289.5,159.4 L290.5,161.7 L291.5,163.8 L292.5,166.1 L293.5,168.8 L294.5,171.2 L295.5,174.0 L296.5,177.2 L297.5,180.3 L298.5,183.3 L299.5,186.6 L300.5,189.4 L301.5,191.6 L302.5,194.1 L303.5,196.3 L304.5,198.5 L305.5,200.9 L306.5,203.5 L307.5,205.8 L308.5,208.2 L309.5,210.5 L310.5,212.5 L311.5,215.1 L312.5,217.5 L313.5,219.8 L314.5,222.1 L315.5,224.5 L316.5,226.6 L317.5,228.9 L318.5,231.2 L319.5,233.4 L320.5,235.7 L321.5,237.9 L322.5,240.2 L323.5,242.6 L324.5,244.9 L325.5,247.3 L326.5,249.8 L327.5,252.0 L328.5,254.5 L329.5,257.0 L330.5,259.3 L331.5,261.4 L332.5,263.7 L333.5,265.4 L334.5,266.9 L335.5,268.6 L336.5,270.2 L337.5,271.6 L338.5,273.5 L339.5,276.2 L340.5,278.4 L341.5,280.3 L342.5,282.0 L343.5,283.3 L344.5,284.4 L345.5,285.2 L346.5,286.0 L347.5,287.4 L348.5,288.5 L349.5,289.7 L350.5,291.0 L351.5,292.4 L352.5,293.1 L353.5,294.0 L354.5,294.8 L355.5,295.7 L356.5,296.2 L357.5,297.1 L358.5,297.5 L359.5,297.7 L360.5,298.1 L361.5,298.7 L362.5,299.1 L363.5,299.4 L364.5,300.0 L365.5,300.4 L366.5,300.4 L367.5,300.3 L368.5,300.9 L369.5,301.1 L370.5,301.3 L371.5,301.4 L372.5,301.7 L373.5,302.0 L374.5,302.2 L375.5,302.5 L376.5,302.9 L377.5,303.5 L378.5,303.6 L379.5,303.8 L380.5,304.0 L381.5,304.5 L382.5,304.8 L383.5,305.4 L384.5,306.0 L385.5,306.4 L386.5,307.1 L387.5,307.4 L388.5,307.8 L389.5,308.4 L390.5,309.2 L391.5,309.2 L392.5,310.0 L393.5,310.6 L394.5,311.2 L395.5,311.2 L396.5,311.9 L397.5,312.2 L398.5,312.4 L399.5,312.8 L400.5,313.5 L401.5,314.1 L402.5,314.6 L403.5,314.8 L404.5,314.8 L405.5,315.1 L406.5,315.1 L407.5,315.3 L408.5,315.6 L409.5,315.9 L410.5,315.8 L411.5,315.4 L412.5,315.3 L413.5,315.5 L414.5,315.3 L415.5,315.4 L416.5,315.9 L417.5,316.2 L418.5,315.9 L419.5,315.6 L420.5,315.2 L421.5,315.0 L422.5,314.1 L423.5,313.7 L424.5,313.3 L425.5,313.0 L426.5,312.0 L427.5,311.6 L428.5,311.1 L429.5,310.5 L430.5,309.9 L431.5,309.3 L432.5,308.6 L433.5,307.8 L434.5,307.2 L435.5,306.3 L436.5,305.8 L437.5,305.0 L438.5,304.4 L439.5,303.6 L440.5,303.0 L441.5,302.2 L442.5,301.7 L443.5,300.9 L444.5,300.0 L445.5,299.4 L446.5,298.6 L447.5,297.9 L448.5,297.1 L449.5,296.8 L450.5,295.9 L451.5,295.3 L452.5,294.8 L453.5,294.4 L454.5,293.6 L455.5,293.0 L456.5,291.9 L457.5,291.0 L458.5,289.8 L459.5,288.6 L460.5,287.3 L461.5,286.1 L462.5,284.4 L463.5,283.0 L464.5,281.6 L465.5,280.0 L466.5,278.8 L467.5,277.7 L468.5,276.6 L469.5,275.3 L470.5,274.6 L471.5,273.5 L472.5,272.6 L473.5,271.2 L474.5,270.2 L475.5,268.9 L476.5,267.5 L477.5,266.3 L478.5,265.0 L479.5,263.6 L480.5,262.4 L481.5,261.1 L482.5,259.9 L483.5,258.9 L484.5,257.7 L485.5,256.1 L486.5,255.2 L487.5,254.0 L488.5,252.9 L489.5,251.8 L490.5,250.9 L491.5,249.7 L492.5,248.6 L493.5,247.4 L494.5,246.2 L495.5,244.9 L496.5,243.6 L497.5,242.3 L498.5,240.8 L499.5,239.6 L500.5,238.4 L501.5,237.1 L502.5,235.9 L503.5,234.9 L504.5,233.5 L505.5,232.4 L506.5,231.6 L507.5,230.4 L508.5,229.2 L509.5,228.4 L510.5,227.3 L511.5,226.4 L512.5,225.5 L513.5,224.7 L514.5,223.6 L515.5,222.7 L516.5,221.4 L517.5,220.3 L518.5,219.3 L519.5,218.3 L520.5,217.4 L521.5,216.3 L522.5,215.4 L523.5,214.3 L524.5,213.3 L525.5,212.3 L526.5,211.2 L527.5,210.4 L528.5,209.3 L529.5,208.5 L530.5,207.5 L531.5,206.5 L532.5,205.0 L533.5,204.4 L534.5,203.4 L535.5,202.0 L536.5,201.4 L537.5,200.6 L538.5,199.7 L539.5,199.1 L540.5,198.5 L541.5,197.9 L542.5,197.5 L543.5,197.1 L544.5,196.2 L545.5,195.6 L546.5,194.7 L547.5,193.7 L548.5,192.5 L549.5,191.6 L550.5,190.4 L551.5,189.3 L552.5,188.3 L553.5,187.4 L554.5,186.5 L555.5,185.5 L556.5,184.6 L557.5,183.7 L558.5,182.8 L559.5,181.8 L560.5,181.0 L561.5,180.5 L562.5,179.6 L563.5,178.7 L564.5,177.7 L565.5,177.1 L566.5,176.1 L567.5,175.7 L568.5,175.0 L569.5,174.7 L570.5,174.1 L571.5,173.7 L572.5,172.6 L573.5,172.2 L574.5,171.5 L575.5,170.6 L576.5,169.6 L577.5,169.0 L578.5,167.9 L579.5,166.8 L580.5,166.1 L581.5,165.3 L582.5,164.3 L583.5,163.5 L584.5,163.1 L585.5,162.2 L586.5,161.2" stroke="#00ff00" stroke-width="1.45"/>
<path d="M27.5,181.8 L28.5,181.0 L29.5,180.3 L30.5,179.6 L31.5,178.8 L32.5,178.3 L33.5,177.7 L34.5,177.0 L35.5,176.4 L36.5,175.9 L37.5,174.9 L38.5,174.1 L39.5,173.8 L40.5,173.1 L41.5,172.6 L42.5,171.9 L43.5,171.3 L44.5,170.5 L45.5,169.7 L46.5,168.9 L47.5,168.3 L48.5,167.4 L49.5,166.3 L50.5,165.3 L51.5,164.1 L52.5,162.8 L53.5,162.0 L54.5,160.7 L55.5,159.7 L56.5,158.9 L57.5,158.1 L58.5,157.0 L59.5,156.1 L60.5,155.4 L61.5,154.5 L62.5,154.0 L63.5,153.3 L64.5,152.7 L65.5,152.0 L66.5,151.3 L67.5,150.4 L68.5,149.8 L69.5,149.1 L70.5,148.3 L71.5,147.3 L72.5,146.6 L73.5,145.4 L74.5,144.6 L75.5,143.8 L76.5,143.2 L77.5,142.4 L78.5,141.9 L79.5,141.6 L80.5,141.1 L81.5,140.7 L82.5,140.4 L83.5,140.1 L84.5,139.5 L85.5,138.9 L86.5,138.3 L87.5,138.1 L88.5,137.4 L89.5,136.7 L90.5,136.3 L91.5,136.0 L92.5,134.8 L93.5,134.2 L94.5,133.6 L95.5,133.1 L96.5,132.3 L97.5,131.8 L98.5,131.0 L99.5,130.0 L100.5,129.3 L101.5,128.4 L102.5,127.7 L103.5,127.3 L104.5,126.8 L105.5,126.1 L106.5,125.5 L107.5,125.0 L108.5,124.1 L109.5,123.4 L110.5,122.8 L111.5,122.1 L112.5,121.1 L113.5,120.4 L114.5,119.8 L115.5,118.8 L116.5,118.2 L117.5,117.7 L118.5,117.3 L119.5,116.3 L120.5,115.8 L121.5,114.6 L122.5,113.7 L123.5,112.6 L124.5,112.0 L125.5,111.2 L126.5,110.8 L127.5,110.2 L128.5,109.6 L129.5,109.2 L130.5,108.8 L131.5,108.5 L132.5,108.3 L133.5,108.1 L134.5,107.4 L135.5,106.8 L136.5,106.2 L137.5,105.5 L138.5,104.9 L139.5,104.7 L140.5,104.1 L141.5,103.5 L142.5,103.1 L143.5,102.2 L144.5,101.4 L145.5,100.8 L146.5,100.1 L147.5,99.4 L148.5,98.7 L149.5,98.1 L150.5,97.2 L151.5,96.4 L152.5,95.8 L153.5,95.0 L154.5,94.7 L155.5,94.6 L156.5,94.5 L157.5,94.2 L158.5,94.5 L159.5,94.3 L160.5,94.1 L161.5,94.1 L162.5,94.0 L163.5,93.7 L164.5,93.5 L165.5,93.1 L166.5,92.5 L167.5,92.1 L168.5,91.7 L169.5,91.1 L170.5,90.6 L171.5,90.2 L172.5,89.7 L173.5,89.0 L174.5,88.6 L175.5,88.3 L176.5,88.0 L177.5,88.3 L178.5,88.4 L179.5,88.4 L180.5,88.5 L181.5,88.5 L182.5,88.5 L183.5,88.1 L184.5,88.1 L185.5,87.6 L186.5,87.4 L187.5,87.1 L188.5,87.0 L189.5,86.5 L190.5,86.1 L191.5,85.2 L192.5,84.6 L193.5,84.2 L194.5,83.8 L195.5,83.7 L196.5,83.8 L197.5,84.1 L198.5,84.1 L199.5,84.3 L200.5,84.6 L201.5,85.0 L202.5,85.1 L203.5,85.6 L204.5,86.1 L205.5,86.7 L206.5,87.3 L207.5,87.6 L208.5,87.8 L209.5,88.2 L210.5,88.5 L211.5,88.4 L212.5,88.4 L213.5,88.6 L214.5,88.5 L215.5,88.2 L216.5,88.5 L217.5,88.7 L218.5,88.4 L219.5,88.5 L220.5,88.8 L221.5,88.9 L222.5,89.2 L223.5,89.7 L224.5,89.8 L225.5,89.8 L226.5,89.7 L227.5,89.8 L228.5,90.2 L229.5,90.7 L230.5,91.5 L231.5,92.2 L232.5,92.6 L233.5,93.1 L234.5,93.8 L235.5,94.0 L236.5,94.4 L237.5,95.2 L238.5,95.8 L239.5,96.1 L240.5,96.9 L241.5,97.7 L242.5,98.2 L243.5,98.7 L244.5,99.6 L245.5,100.3 L246.5,101.2 L247.5,101.9 L248.5,103.2 L249.5,104.2 L250.5,105.2 L251.5,106.0 L252.5,107.3 L253.5,107.8 L254.5,108.8 L255.5,109.7 L256.5,111.0 L257.5,111.8 L258.5,113.0 L259.5,114.0 L260.5,115.4 L261.5,116.2 L262.5,117.6 L263.5,118.9 L264.5,120.2 L265.5,121.5 L266.5,123.2 L267.5,124.7 L268.5,126.4 L269.5,127.8 L270.5,129.2 L271.5,130.5 L272.5,131.8 L273.5,133.1 L274.5,134.6 L275.5,136.4 L276.5,138.5 L277.5,140.7 L278.5,143.7 L279.5,146.5 L280.5,149.6 L281.5,152.8 L282.5,156.2 L283.5,159.3 L284.5,163.0 L285.5,166.6 L286.5,170.2 L287.5,173.8 L288.5,177.8 L289.5,181.6 L290.5,185.3 L291.5,188.9 L292.5,192.2 L293.5,195.4 L294.5,198.5 L295.5,201.3 L296.5,203.8 L297.5,206.2 L298.5,208.2 L299.5,209.9 L300.5,211.6 L301.5,213.3 L302.5,214.9 L303.5,216.5 L304.5,218.7 L305.5,220.9 L306.5,223.6 L307.5,226.5 L308.5,229.8 L309.5,232.7 L310.5,236.0 L311.5,238.8 L312.5,241.6 L313.5,244.5 L314.5,247.3 L315.5,249.8 L316.5,252.4 L317.5,254.9 L318.5,256.9 L319.5,258.9 L320.5,260.9 L321.5,262.7 L322.5,263.8 L323.5,265.3 L324.5,266.7 L325.5,268.2 L326.5,269.8 L327.5,271.5 L328.5,273.2 L329.5,275.0 L330.5,276.7 L331.5,278.6 L332.5,280.9 L333.5,283.1 L334.5,285.4 L335.5,287.7 L336.5,290.4 L337.5,292.8 L338.5,295.0 L339.5,297.2 L340.5,299.1 L341.5,300.7 L342.5,302.1 L343.5,303.8 L344.5,305.2 L345.5,306.5 L346.5,307.4 L347.5,308.8 L348.5,310.0 L349.5,310.7 L350.5,311.6 L351.5,312.4 L352.5,312.5 L353.5,312.4 L354.5,313.0 L355.5,313.1 L356.5,313.3 L357.5,313.7 L358.5,314.1 L359.5,314.5 L360.5,314.8 L361.5,315.2 L362.5,315.5 L363.5,315.9 L364.5,316.1 L365.5,316.7 L366.5,316.8 L367.5,317.2 L368.5,317.6 L369.5,318.1 L370.5,318.5 L371.5,319.2 L372.5,319.7 L373.5,319.9 L374.5,319.9 L375.5,319.7 L376.5,319.7 L377.5,319.8 L378.5,319.8 L379.5,320.2 L380.5,320.4 L381.5,320.9 L382.5,321.2 L383.5,321.5 L384.5,321.8 L385.5,322.1 L386.5,321.9 L387.5,321.8 L388.5,321.6 L389.5,321.6 L390.5,321.5 L391.5,321.4 L392.5,321.2 L393.5,321.2 L394.5,321.0 L395.5,320.5 L396.5,319.8 L397.5,319.1 L398.5,318.5 L399.5,317.8 L400.5,317.3 L401.5,317.0 L402.5,316.6 L403.5,315.7 L404.5,314.8 L405.5,313.8 L406.5,313.0 L407.5,312.2 L408.5,311.8 L409.5,311.3 L410.5,310.7 L411.5,310.4 L412.5,310.2 L413.5,309.5 L414.5,309.1 L415.5,308.9 L416.5,308.3 L417.5,307.7 L418.5,307.3 L419.5,306.7 L420.5,306.0 L421.5,305.2 L422.5,304.5 L423.5,303.9 L424.5,303.1 L425.5,302.4 L426.5,301.8 L427.5,301.2 L428.5,300.6 L429.5,300.3 L430.5,300.0 L431.5,299.8 L432.5,299.6 L433.5,299.4 L434.5,299.2 L435.5,299.0 L436.5,298.5 L437.5,298.1 L438.5,297.5 L439.5,296.7 L440.5,295.8 L441.5,295.1 L442.5,294.1 L443.5,293.1 L444.5,292.3 L445.5,291.7 L446.5,290.9 L447.5,290.4 L448.5,289.9 L449.5,289.2 L450.5,288.1 L451.5,287.4 L452.5,286.6 L453.5,285.5 L454.5,284.7 L455.5,283.9 L456.5,282.8 L457.5,282.0 L458.5,281.5 L459.5,280.7 L460.5,279.9 L461.5,279.3 L462.5,278.2 L463.5,277.2 L464.5,276.2 L465.5,275.5 L466.5,274.8 L467.5,273.8 L468.5,272.6 L469.5,271.5 L470.5,270.0 L471.5,268.3 L472.5,266.9 L473.5,265.8 L474.5,264.5 L475.5,262.9 L476.5,261.4 L477.5,260.2 L478.5,258.8 L479.5,257.5 L480.5,256.4 L481.5,255.3 L482.5,254.2 L483.5,253.1 L484.5,251.8 L485.5,250.6 L486.5,249.7 L487.5,248.5 L488.5,247.0 L489.5,245.7 L490.5,244.4 L491.5,243.1 L492.5,242.0 L493.5,240.7 L494.5,239.6 L495.5,238.8 L496.5,237.3 L497.5,236.3 L498.5,235.7 L499.5,234.6 L500.5,233.6 L501.5,232.9 L502.5,232.1 L503.5,230.9 L504.5,230.3 L505.5,229.6 L506.5,229.2 L507.5,228.7 L508.5,228.5 L509.5,228.2 L510.5,227.7 L511.5,227.0 L512.5,225.9 L513.5,224.8 L514.5,224.0 L515.5,223.2 L516.5,222.1 L517.5,221.4 L518.5,220.6 L519.5,219.3 L520.5,218.3 L521.5,217.3 L522.5,216.3 L523.5,215.6 L524.5,214.5 L525.5,213.4 L526.5,212.3 L527.5,211.3 L528.5,210.0 L529.5,209.2 L530.5,208.1 L531.5,207.2 L532.5,206.2 L533.5,205.1 L534.5,204.1 L535.5,202.9 L536.5,202.1 L537.5,201.1 L538.5,200.5 L539.5,199.7 L540.5,199.0 L541.5,198.3 L542.5,197.7 L543.5,196.6 L544.5,196.0 L545.5,194.8 L546.5,193.9 L547.5,193.0 L548.5,192.2 L549.5,191.3 L550.5,190.7 L551.5,190.1 L552.5,189.2 L553.5,188.7 L554.5,187.9 L555.5,187.0 L556.5,185.6 L557.5,184.9 L558.5,183.6 L559.5,182.3 L560.5,181.3 L561.5,180.4 L562.5,179.4 L563.5,178.6 L564.5,177.8 L565.5,177.3 L566.5,177.1 L567.5,176.7 L568.5,176.2 L569.5,175.8 L570.5,175.3 L571.5,174.6 L572.5,173.7 L573.5,173.0 L574.5,172.2 L575.5,171.6 L576.5,171.0 L577.5,170.1 L578.5,169.1 L579.5,168.5 L580.5,167.5 L581.5,166.3 L582.5,165.7 L583.5,165.1 L584.5,163.9 L585.5,162.7 L586.5,161.7" stroke="#a020f0" stroke-width="1.45"/>
<path d="M27.5,187.6 L28.5,186.5 L29.5,185.5 L30.5,184.5 L31.5,183.8 L32.5,182.9 L33.5,182.0 L34.5,180.9 L35.5,180.1 L36.5,179.3 L37.5,178.4 L38.5,177.6 L39.5,177.1 L40.5,176.1 L41.5,175.0 L42.5,174.1 L43.5,173.2 L44.5,172.5 L45.5,171.7 L46.5,171.1 L47.5,170.5 L48.5,169.8 L49.5,169.0 L50.5,168.3 L51.5,167.4 L52.5,167.0 L53.5,166.5 L54.5,165.8 L55.5,165.6 L56.5,165.5 L57.5,164.6 L58.5,164.0 L59.5,163.6 L60.5,162.8 L61.5,162.1 L62.5,161.9 L63.5,161.3 L64.5,160.4 L65.5,159.7 L66.5,159.0 L67.5,158.3 L68.5,157.4 L69.5,157.0 L70.5,156.1 L71.5,155.5 L72.5,154.5 L73.5,154.0 L74.5,153.3 L75.5,153.0 L76.5,152.5 L77.5,152.1 L78.5,151.6 L79.5,151.0 L80.5,150.4 L81.5,149.7 L82.5,149.4 L83.5,148.9 L84.5,148.6 L85.5,148.1 L86.5,147.7 L87.5,147.0 L88.5,146.4 L89.5,145.6 L90.5,145.0 L91.5,144.4 L92.5,144.1 L93.5,143.5 L94.5,143.6 L95.5,143.1 L96.5,142.8 L97.5,142.3 L98.5,141.5 L99.5,140.5 L100.5,140.1 L101.5,139.1 L102.5,138.4 L103.5,138.0 L104.5,137.4 L105.5,136.6 L106.5,136.0 L107.5,135.3 L108.5,134.6 L109.5,133.9 L110.5,133.2 L111.5,133.2 L112.5,132.4 L113.5,131.9 L114.5,131.3 L115.5,130.4 L116.5,129.3 L117.5,128.9 L118.5,128.3 L119.5,127.9 L120.5,127.4 L121.5,127.2 L122.5,126.3 L123.5,125.9 L124.5,125.4 L125.5,125.0 L126.5,124.0 L127.5,123.6 L128.5,123.1 L129.5,122.6 L130.5,121.9 L131.5,121.5 L132.5,121.3 L133.5,121.0 L134.5,120.5 L135.5,120.1 L136.5,119.7 L137.5,119.4 L138.5,118.9 L139.5,118.5 L140.5,118.2 L141.5,118.1 L142.5,117.4 L143.5,116.6 L144.5,116.1 L145.5,115.4 L146.5,114.6 L147.5,113.8 L148.5,113.4 L149.5,112.7 L150.5,112.3 L151.5,111.9 L152.5,111.4 L153.5,110.9 L154.5,110.5 L155.5,110.2 L156.5,109.9 L157.5,109.6 L158.5,108.9 L159.5,108.4 L160.5,107.7 L161.5,107.1 L162.5,106.4 L163.5,106.1 L164.5,105.4 L165.5,105.2 L166.5,104.8 L167.5,104.6 L168.5,104.4 L169.5,104.2 L170.5,103.7 L171.5,103.4 L172.5,103.4 L173.5,103.7 L174.5,103.9 L175.5,104.1 L176.5,104.4 L177.5,104.5 L178.5,104.2 L179.5,103.9 L180.5,103.7 L181.5,103.5 L182.5,103.5 L183.5,103.7 L184.5,103.6 L185.5,103.3 L186.5,103.2 L187.5,103.1 L188.5,102.7 L189.5,102.6 L190.5,102.7 L191.5,102.5 L192.5,102.1 L193.5,101.7 L194.5,101.6 L195.5,101.3 L196.5,101.1 L197.5,100.8 L198.5,100.6 L199.5,100.0 L200.5,99.5 L201.5,99.3 L202.5,98.8 L203.5,98.8 L204.5,98.5 L205.5,98.4 L206.5,98.1 L207.5,98.2 L208.5,98.2 L209.5,98.3 L210.5,98.0 L211.5,98.2 L212.5,98.3 L213.5,98.1 L214.5,98.0 L215.5,98.4 L216.5,98.5 L217.5,98.7 L218.5,98.9 L219.5,99.2 L220.5,99.4 L221.5,100.1 L222.5,100.4 L223.5,101.0 L224.5,101.8 L225.5,102.2 L226.5,102.7 L227.5,103.3 L228.5,103.9 L229.5,104.1 L230.5,104.6 L231.5,104.6 L232.5,105.2 L233.5,105.7 L234.5,106.7 L235.5,107.8 L236.5,108.8 L237.5,109.5 L238.5,110.4 L239.5,111.3 L240.5,111.9 L241.5,112.9 L242.5,113.8 L243.5,114.7 L244.5,115.5 L245.5,116.5 L246.5,117.3 L247.5,118.4 L248.5,119.4 L249.5,120.2 L250.5,121.2 L251.5,122.4 L252.5,123.3 L253.5,124.4 L254.5,125.6 L255.5,127.0 L256.5,128.4 L257.5,129.9 L258.5,131.3 L259.5,133.1 L260.5,135.0 L261.5,137.4 L262.5,139.3 L263.5,141.1 L264.5,142.8 L265.5,144.1 L266.5,145.1 L267.5,146.8 L268.5,148.5 L269.5,150.3 L270.5,152.6 L271.5,155.2 L272.5,157.8 L273.5,160.5 L274.5,163.3 L275.5,165.9 L276.5,168.5 L277.5,171.3 L278.5,174.1 L279.5,177.2 L280.5,180.7 L281.5,184.0 L282.5,187.6 L283.5,192.0 L284.5,197.2 L285.5,201.5 L286.5,205.0 L287.5,209.0 L288.5,213.6 L289.5,218.1 L290.5,222.0 L291.5,224.9 L292.5,227.9 L293.5,230.8 L294.5,233.5 L295.5,235.8 L296.5,238.7 L297.5,241.2 L298.5,243.8 L299.5,246.5 L300.5,249.2 L301.5,252.1 L302.5,255.3 L303.5,258.0 L304.5,261.0 L305.5,264.7 L306.5,268.0 L307.5,270.9 L308.5,274.4 L309.5,277.2 L310.5,279.1 L311.5,280.6 L312.5,281.8 L313.5,283.4 L314.5,284.9 L315.5,286.8 L316.5,288.5 L317.5,290.8 L318.5,293.1 L319.5,295.3 L320.5,297.1 L321.5,299.2 L322.5,301.0 L323.5,302.6 L324.5,304.5 L325.5,306.6 L326.5,308.1 L327.5,310.0 L328.5,311.6 L329.5,313.1 L330.5,314.8 L331.5,316.8 L332.5,318.0 L333.5,319.5 L334.5,321.0 L335.5,322.3 L336.5,323.9 L337.5,325.2 L338.5,326.4 L339.5,327.7 L340.5,328.5 L341.5,329.4 L342.5,330.4 L343.5,331.3 L344.5,332.0 L345.5,332.9 L346.5,333.5 L347.5,334.3 L348.5,335.2 L349.5,336.0 L350.5,336.9 L351.5,337.9 L352.5,338.8 L353.5,339.6 L354.5,340.5 L355.5,341.5 L356.5,342.2 L357.5,343.0 L358.5,343.7 L359.5,344.6 L360.5,345.1 L361.5,345.8 L362.5,346.6 L363.5,347.3 L364.5,347.9 L365.5,348.5 L366.5,348.7 L367.5,348.9 L368.5,348.8 L369.5,349.2 L370.5,349.5 L371.5,350.2 L372.5,350.6 L373.5,351.3 L374.5,351.3 L375.5,351.2 L376.5,350.9 L377.5,350.8 L378.5,350.5 L379.5,350.5 L380.5,350.7 L381.5,350.7 L382.5,350.7 L383.5,350.6 L384.5,350.3 L385.5,349.7 L386.5,349.6 L387.5,349.4 L388.5,349.3 L389.5,349.4 L390.5,349.6 L391.5,349.7 L392.5,349.9 L393.5,349.9 L394.5,350.0 L395.5,349.8 L396.5,349.8 L397.5,349.8 L398.5,349.8 L399.5,349.5 L400.5,349.8 L401.5,349.7 L402.5,349.8 L403.5,350.0 L404.5,350.2 L405.5,350.1 L406.5,350.3 L407.5,350.3 L408.5,350.0 L409.5,350.1 L410.5,350.1 L411.5,350.0 L412.5,350.0 L413.5,350.1 L414.5,350.1 L415.5,349.9 L416.5,349.7 L417.5,349.8 L418.5,349.5 L419.5,349.2 L420.5,348.6 L421.5,348.3 L422.5,347.4 L423.5,347.2 L424.5,346.4 L425.5,345.8 L426.5,345.4 L427.5,345.2 L428.5,344.1 L429.5,343.8 L430.5,343.7 L431.5,343.0 L432.5,342.5 L433.5,342.4 L434.5,341.8 L435.5,341.3 L436.5,341.0 L437.5,340.3 L438.5,340.3 L439.5,340.0 L440.5,339.7 L441.5,339.5 L442.5,339.4 L443.5,338.9 L444.5,338.5 L445.5,338.1 L446.5,337.5 L447.5,336.8 L448.5,335.5 L449.5,334.2 L450.5,332.8 L451.5,331.2 L452.5,329.6 L453.5,328.4 L454.5,327.3 L455.5,326.0 L456.5,325.1 L457.5,324.0 L458.5,323.1 L459.5,322.1 L460.5,321.1 L461.5,320.2 L462.5,319.4 L463.5,318.8 L464.5,318.3 L465.5,317.6 L466.5,316.9 L467.5,316.7 L468.5,315.8 L469.5,314.9 L470.5,313.9 L471.5,311.9 L472.5,308.2 L473.5,305.6 L474.5,303.7 L475.5,301.9 L476.5,300.0 L477.5,298.2 L478.5,296.3 L479.5,294.0 L480.5,292.0 L481.5,289.9 L482.5,287.6 L483.5,285.7 L484.5,283.9 L485.5,282.4 L486.5,281.1 L487.5,280.1 L488.5,278.7 L489.5,277.7 L490.5,276.1 L491.5,274.9 L492.5,273.4 L493.5,271.7 L494.5,270.0 L495.5,268.8 L496.5,267.2 L497.5,265.8 L498.5,264.5 L499.5,263.5 L500.5,262.5 L501.5,262.2 L502.5,261.6 L503.5,261.0 L504.5,260.3 L505.5,258.9 L506.5,257.1 L507.5,255.6 L508.5,254.3 L509.5,253.2 L510.5,252.4 L511.5,251.6 L512.5,250.5 L513.5,249.7 L514.5,248.5 L515.5,247.4 L516.5,245.8 L517.5,245.0 L518.5,243.8 L519.5,242.6 L520.5,241.2 L521.5,240.1 L522.5,238.9 L523.5,237.6 L524.5,236.5 L525.5,235.4 L526.5,234.2 L527.5,232.6 L528.5,231.4 L529.5,230.1 L530.5,228.9 L531.5,227.6 L532.5,226.4 L533.5,225.3 L534.5,224.3 L535.5,223.2 L536.5,222.3 L537.5,221.3 L538.5,220.5 L539.5,219.4 L540.5,218.2 L541.5,217.4 L542.5,216.5 L543.5,215.3 L544.5,214.4 L545.5,213.5 L546.5,212.4 L547.5,211.5 L548.5,210.8 L549.5,209.9 L550.5,209.2 L551.5,208.2 L552.5,207.3 L553.5,206.4 L554.5,205.8 L555.5,205.3 L556.5,204.9 L557.5,204.3 L558.5,203.4 L559.5,202.8 L560.5,202.1 L561.5,201.7 L562.5,201.1 L563.5,200.7 L564.5,200.1 L565.5,199.4 L566.5,198.7 L567.5,198.1 L568.5,197.2 L569.5,196.2 L570.5,195.6 L571.5,194.8 L572.5,194.1 L573.5,193.5 L574.5,192.9 L575.5,192.1 L576.5,191.6 L577.5,190.8 L578.5,190.0 L579.5,189.3 L580.5,188.7 L581.5,188.2 L582.5,187.5 L583.5,187.0 L584.5,186.6 L585.5,185.8 L586.5,184.9" stroke="#ffff00" stroke-width="1.45"/>
</g>
<path d="M27.5,365.7V27.5H586.5V365.7" fill="none" stroke="#909090" stroke-width="1.05"/>
<path d="M27.0,365.59999999999997H587.0" fill="none" stroke="#b0b0b0" stroke-width="1.3"/>
<path d="M49.0,365.7v2.8M92.0,365.7v2.8M137.5,365.7v2.8M185.0,365.7v2.8M232.0,365.7v2.8M279.0,365.7v2.8M325.0,365.7v2.8M372.6,365.7v2.8M419.6,365.7v2.8M467.4,365.7v2.8M513.5,365.7v2.8M560.3,365.7v2.8M27.5,345.4h-3.3M27.5,278.6h-3.3M27.5,211.8h-3.3M27.5,145.0h-3.3M27.5,78.2h-3.3" stroke="#6a6a6a" stroke-width="0.95" fill="none"/>
<g font-size="5.5" fill="#222" text-anchor="middle">
<text x="49.0" y="378.2">Jan</text>
<text x="92.0" y="378.2">Feb</text>
<text x="137.5" y="378.2">Mar</text>
<text x="185.0" y="378.2">Apr</text>
<text x="232.0" y="378.2">May</text>
<text x="279.0" y="378.2">Jun</text>
<text x="325.0" y="378.2">Jul</text>
<text x="372.6" y="378.2">Aug</text>
<text x="419.6" y="378.2">Sep</text>
<text x="467.4" y="378.2">Oct</text>
<text x="513.5" y="378.2">Nov</text>
<text x="560.3" y="378.2">Dec</text>
<text transform="translate(19.2,345.4) rotate(-90)">5</text>
<text transform="translate(19.2,278.6) rotate(-90)">10</text>
<text transform="translate(19.2,211.8) rotate(-90)">15</text>
<text transform="translate(19.2,145.0) rotate(-90)">20</text>
<text transform="translate(19.2,78.2) rotate(-90)">25</text>
<text x="307" y="391.4">Julian</text>
<text x="307" y="398.4">Julian Day of Year</text>
<text transform="translate(5.6,194.5) rotate(-90)">Arctic Ice Thickness in 1000s of cubic km.</text>
</g>
<text x="307" y="16.9" font-size="6.8" font-weight="bold" text-anchor="middle" fill="#111">Arctic Sea Ice Volume From 2003 to 2018-12-3</text>
<text x="0.3" y="392.2" font-size="11" fill="#000">http://sunshinehours.wordpress.com</text>
<rect x="28.0" y="291.9" width="73.7" height="73.20000000000002" fill="#fff"/>
<path d="M27.5,291.9H101.7V365.7" fill="none" stroke="#909090" stroke-width="1.05"/>
<g stroke-linecap="round" fill="none">
<path d="M32.6,298.9H42.6" stroke="#ff0000" stroke-width="3.3"/>
<path d="M32.6,305.6H42.6" stroke="#0000ff" stroke-width="1.1"/>
<path d="M32.6,312.4H42.6" stroke="#ffa500" stroke-width="1.1"/>
<path d="M32.6,319.1H42.6" stroke="#ffc0cb" stroke-width="1.1"/>
<path d="M32.6,325.9H42.6" stroke="#00ff00" stroke-width="1.1"/>
<path d="M32.6,332.6H42.6" stroke="#a020f0" stroke-width="1.1"/>
<path d="M32.6,339.3H42.6" stroke="#ffff00" stroke-width="1.1"/>
<path d="M32.6,346.1H42.6" stroke="#000" stroke-width="1.4" stroke-dasharray="5.5 2.4 1.2 2" stroke-linecap="butt"/>
<path d="M32.6,352.8H42.6" stroke="#d3d3d3" stroke-width="6"/>
<path d="M32.6,359.6H42.6" stroke="#bebebe" stroke-width="1.6"/>
</g>
<g font-size="5.5" fill="#222">
<text x="47.6" y="300.9">2018</text>
<text x="47.6" y="307.6">2017</text>
<text x="47.6" y="314.4">2016</text>
<text x="47.6" y="321.1">2015</text>
<text x="47.6" y="327.9">2014</text>
<text x="47.6" y="334.6">2013</text>
<text x="47.6" y="341.3">2012</text>
<text x="47.6" y="348.1">2003-2014 mean</text>
<text x="47.6" y="354.8">1 Standard Deviation</text>
<text x="47.6" y="361.6">All the rest</text>
</g>
</svg>
</body></html>
